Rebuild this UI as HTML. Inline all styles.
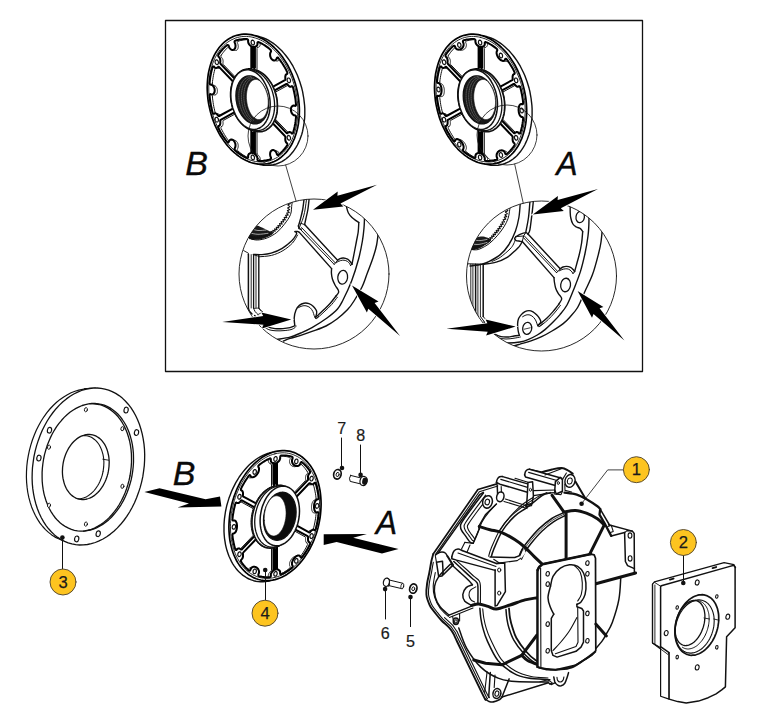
<!DOCTYPE html>
<html><head><meta charset="utf-8"><title>Flywheel housing</title>
<style>html,body{margin:0;padding:0;background:#fff}svg{display:block}text{font-family:"Liberation Sans",sans-serif}</style>
</head><body>
<svg width="764" height="728" viewBox="0 0 764 728" stroke-linejoin="round" stroke-linecap="round">
<rect width="764" height="728" fill="#fff"/>
<defs><clipPath id="c1"><path d="M239 274a75 75 0 1 0 150 0a75 75 0 1 0 -150 0Z"/></clipPath><clipPath id="c2"><path d="M466.5 276a75 75 0 1 0 150 0a75 75 0 1 0 -150 0Z"/></clipPath></defs>
<rect x="165.5" y="20.5" width="477" height="351" fill="none" stroke="#111" stroke-width="1.3"/>
<path d="M258.7 36.4 L258.7 36.4 L256.3 35.9 L254.9 35.7" fill="none" stroke="#111" stroke-width="1.4" />
<path d="M257.1 163.9 L258.7 164.3 L261.1 164.9 L263.5 165.2 L265.9 165.4 L268.3 165.4 L270.6 165.2 L273 164.8 L275.2 164.3 L277.5 163.5 L279.6 162.6 L281.8 161.6 L283.8 160.3 L285.8 159 L287.7 157.4 L289.6 155.7 L291.3 153.8 L293 151.8 L294.5 149.7 L296 147.4 L297.4 145 L298.6 142.4 L299.8 139.8 L300.8 137 L301.8 134.2 L302.6 131.2 L303.2 128.2 L303.8 125 L304.2 121.9 L304.6 118.6 L304.8 115.3 L304.8 112 L304.8 108.6 L304.6 105.3 L304.2 101.9 L303.8 98.5 L303.2 95.1 L302.6 91.7 L301.8 88.3 L300.8 85 L299.8 81.7 L298.6 78.5 L297.4 75.3 L296 72.2 L294.5 69.2 L293 66.2 L291.3 63.4 L289.6 60.6 L287.7 58 L285.8 55.5 L283.8 53.1 L281.8 50.8 L279.6 48.7 L277.5 46.7 L275.2 44.8 L273 43.1 L270.6 41.6 L268.3 40.2 L265.9 39 L263.5 38 L261.1 37.1 L258.7 36.4" fill="none" stroke="#111" stroke-width="1.4" />
<path d="M253.3 35.2 L255.7 35.9 L258.1 36.8 L260.5 37.9 L262.9 39.1 L265.2 40.4 L267.5 42 L269.8 43.7 L272 45.5 L274.2 47.5 L276.3 49.6 L278.4 51.9 L280.4 54.3 L282.3 56.8 L284.1 59.5 L285.9 62.2 L287.6 65 L289.1 68 L290.6 71 L292 74.1 L293.2 77.3 L294.4 80.5 L295.4 83.8 L296.3 87.1 L297.1 90.5 L297.8 93.9 L298.4 97.3 L298.8 100.7 L299.1 104.1 L299.3 107.5 L299.4 110.8 L299.3 114.2 L299.1 117.4 L298.8 120.7 L298.4 123.9 L297.8 127 L297.1 130 L296.3 133 L295.4 135.8 L294.4 138.6 L293.2 141.2 L292 143.8 L290.6 146.2 L289.1 148.5 L287.6 150.6 L285.9 152.6 L284.1 154.5 L282.3 156.2 L280.4 157.8 L278.4 159.2 L276.3 160.4 L274.2 161.5 L272 162.4 L269.8 163.1 L267.5 163.6 L265.2 164 L262.9 164.2 L260.5 164.2 L258.1 164 L255.7 163.7 L253.3 163.2 L250.9 162.5 L248.5 161.6 L246.1 160.5 L243.7 159.3 L241.4 158 L239.1 156.4 L236.8 154.7 L234.6 152.9 L232.4 150.9 L230.3 148.8 L228.2 146.5 L226.2 144.1 L224.3 141.6 L222.5 138.9 L220.7 136.2 L219 133.4 L217.5 130.4 L216 127.4 L214.6 124.3 L213.4 121.1 L212.2 117.9 L211.2 114.6 L210.3 111.3 L209.5 107.9 L208.8 104.5 L208.2 101.1 L207.8 97.7 L207.5 94.3 L207.3 90.9 L207.2 87.6 L207.3 84.2 L207.5 81 L207.8 77.7 L208.2 74.5 L208.8 71.4 L209.5 68.4 L210.3 65.4 L211.2 62.6 L212.2 59.8 L213.4 57.2 L214.6 54.6 L216 52.2 L217.5 49.9 L219 47.8 L220.7 45.8 L222.5 43.9 L224.3 42.2 L226.2 40.6 L228.2 39.2 L230.3 38 L232.4 36.9 L234.6 36 L236.8 35.3 L239.1 34.8 L241.4 34.4 L243.7 34.2 L246.1 34.2 L248.5 34.4 L250.9 34.7 L253.3 35.2Z" fill="#fff" stroke="#000" stroke-width="1.7" />
<path d="M253.3 37.4 L255.6 38.1 L258 38.9 L260.3 39.9 L262.6 41.1 L264.8 42.4 L267.1 43.9 L269.3 45.5 L271.4 47.3 L273.5 49.3 L275.6 51.3 L277.6 53.5 L279.5 55.8 L281.3 58.3 L283.1 60.8 L284.8 63.5 L286.4 66.2 L287.9 69 L289.3 72 L290.6 75 L291.9 78 L293 81.2 L294 84.3 L294.9 87.5 L295.7 90.8 L296.3 94.1 L296.9 97.3 L297.3 100.6 L297.6 103.9 L297.8 107.2 L297.8 110.4 L297.8 113.6 L297.6 116.8 L297.3 120 L296.9 123 L296.3 126 L295.7 129 L294.9 131.8 L294 134.6 L293 137.3 L291.9 139.8 L290.6 142.3 L289.3 144.6 L287.9 146.8 L286.4 148.9 L284.8 150.8 L283.1 152.6 L281.3 154.3 L279.5 155.8 L277.6 157.1 L275.6 158.3 L273.5 159.3 L271.4 160.2 L269.3 160.9 L267.1 161.4 L264.8 161.8 L262.6 162 L260.3 162 L258 161.8 L255.6 161.5 L253.3 161 L251 160.3 L248.6 159.5 L246.3 158.5 L244 157.3 L241.8 156 L239.5 154.5 L237.3 152.9 L235.2 151.1 L233.1 149.1 L231 147.1 L229 144.9 L227.1 142.6 L225.3 140.1 L223.5 137.6 L221.8 134.9 L220.2 132.2 L218.7 129.4 L217.3 126.4 L216 123.4 L214.7 120.4 L213.6 117.2 L212.6 114.1 L211.7 110.9 L210.9 107.6 L210.3 104.3 L209.7 101.1 L209.3 97.8 L209 94.5 L208.8 91.2 L208.8 88 L208.8 84.8 L209 81.6 L209.3 78.4 L209.7 75.4 L210.3 72.4 L210.9 69.4 L211.7 66.6 L212.6 63.8 L213.6 61.1 L214.7 58.6 L216 56.1 L217.3 53.8 L218.7 51.6 L220.2 49.5 L221.8 47.6 L223.5 45.8 L225.3 44.1 L227.1 42.6 L229 41.3 L231 40.1 L233.1 39.1 L235.2 38.2 L237.3 37.5 L239.5 37 L241.8 36.6 L244 36.4 L246.3 36.4 L248.6 36.6 L251 36.9 L253.3 37.4Z" fill="none" stroke="#111" stroke-width="0.9" />
<path d="M273.3 91.2 L273.1 91.3 L273 91.4 L272.9 91.7 L272.8 91.9 L272.8 92.2 L272.8 92.4 L272.9 92.7 L272.9 92.8 L273.3 94.2 L273.3 94.3 L273.7 95.8 L273.7 95.9 L274 97.4 L274.1 97.6 L274.3 99.1 L274.3 99.2 L274.5 100.7 L274.5 100.8 L274.7 102.3 L274.7 102.4 L274.8 103.9 L274.8 104 L274.8 105.5 L274.8 105.6 L274.8 107.1 L274.8 107.2 L274.7 108.6 L274.7 108.7 L274.5 110.2 L274.5 110.3 L274.3 111.7 L274.3 111.8 L274.1 113.2 L274 113.3 L273.7 114.6 L273.7 114.7 L273.3 116 L273.3 116.1 L272.9 117.4 L272.9 117.4 L272.8 117.7 L272.8 117.9 L272.8 118.2 L272.9 118.5 L273 118.7 L273.1 119 L273.3 119.2 L286.4 132.9 L286.6 133.1 L286.8 133.2 L287 133.2 L287.2 133.2 L287.3 133.2 L287.5 133 L287.5 133 L287.7 132.9 L287.7 132.8 L287.9 132.7 L287.9 132.7 L288.1 132.5 L288.2 132.5 L288.3 132.4 L288.4 132.4 L288.6 132.3 L288.6 132.3 L288.8 132.2 L288.9 132.2 L289 132.1 L289.1 132.1 L289.2 132.1 L289.3 132.1 L289.5 132.1 L289.6 132.1 L289.7 132.1 L289.8 132.1 L289.9 132.1 L290 132.1 L290.1 132.1 L290.2 132.2 L290.3 132.2 L290.5 132.3 L290.5 132.3 L290.7 132.4 L290.7 132.4 L290.9 132.5 L290.9 132.6 L291.1 132.7 L291.1 132.7 L291.2 132.9 L291.3 132.9 L291.4 133.1 L291.5 133.2 L291.5 133.2 L291.6 133.3 L291.7 133.5 L291.9 133.6 L292.1 133.6 L292.3 133.6 L292.4 133.6 L292.6 133.5 L292.7 133.4 L292.8 133.2 L292.9 133 L293.1 132.6 L293.1 132.6 L293.6 130.8 L293.6 130.8 L294.1 129 L294.1 128.9 L294.5 127.1 L294.6 127 L294.9 125.1 L294.9 125.1 L295.3 123.2 L295.3 123.2 L295.6 121.2 L295.6 121.2 L295.8 119.2 L295.8 119.2 L296 117.2 L296 117.1 L296 117.1 L296 116.8 L296 116.5 L295.9 116.3 L295.8 116 L295.6 115.8 L295.5 115.7 L295.3 115.5 L295.1 115.4 L294.9 115.4 L294.9 115.4 L294.8 115.4 L294.7 115.4 L294.6 115.4 L294.5 115.3 L294.4 115.3 L294.2 115.3 L294.1 115.2 L294 115.2 L293.9 115.2 L293.8 115.1 L293.7 115 L293.5 115 L293.5 114.9 L293.3 114.8 L293.2 114.8 L293.1 114.7 L293 114.6 L292.9 114.5 L292.8 114.4 L292.7 114.3 L292.6 114.2 L292.5 114.1 L292.4 114 L292.3 113.8 L292.2 113.7 L292.1 113.6 L292.1 113.5 L292 113.3 L291.9 113.2 L291.8 113.1 L291.7 113 L291.6 112.8 L291.6 112.7 L291.5 112.5 L291.5 112.4 L291.4 112.2 L291.3 112.1 L291.3 111.9 L291.2 111.8 L291.2 111.6 L291.1 111.5 L291.1 111.3 L291.1 111.1 L291 111 L291 110.8 L291 110.6 L291 110.5 L290.9 110.3 L290.9 110.2 L290.9 110 L290.9 109.9 L290.9 109.7 L290.9 109.5 L290.9 109.4 L290.9 109.2 L290.9 109 L290.9 108.9 L291 108.7 L291 108.6 L291 108.4 L291 108.3 L291.1 108.2 L291.1 108 L291.1 107.9 L291.2 107.8 L291.2 107.6 L291.3 107.5 L291.3 107.4 L291.4 107.3 L291.5 107.1 L291.5 107 L291.6 106.9 L291.6 106.8 L291.7 106.7 L291.8 106.6 L291.9 106.5 L292 106.4 L292.1 106.3 L292.1 106.2 L292.2 106.1 L292.3 106.1 L292.4 106 L292.5 105.9 L292.6 105.9 L292.7 105.8 L292.8 105.8 L292.9 105.7 L293 105.7 L293.1 105.7 L293.2 105.6 L293.3 105.6 L293.5 105.6 L293.5 105.6 L293.7 105.6 L293.8 105.6 L293.9 105.6 L294 105.6 L294.1 105.6 L294.2 105.6 L294.4 105.6 L294.5 105.7 L294.6 105.7 L294.7 105.7 L294.8 105.8 L294.9 105.8 L294.9 105.8 L295.1 105.9 L295.3 105.9 L295.5 105.9 L295.6 105.8 L295.8 105.6 L295.9 105.4 L296 105.2 L296 105 L296 104.7 L296 104.6 L296 104.6 L295.8 102.5 L295.8 102.5 L295.6 100.4 L295.6 100.4 L295.3 98.3 L295.3 98.2 L294.9 96.1 L294.9 96.1 L294.6 94 L294.5 94 L294.1 91.9 L294.1 91.9 L293.6 89.8 L293.6 89.8 L293.1 87.7 L293.1 87.7 L292.9 87.2 L292.8 87 L292.7 86.7 L292.6 86.6 L292.4 86.4 L292.3 86.3 L292.1 86.2 L291.9 86.2 L291.7 86.2 L291.6 86.3 L291.5 86.3 L291.5 86.3 L291.4 86.4 L291.3 86.5 L291.2 86.5 L291.1 86.6 L291.1 86.6 L290.9 86.7 L290.9 86.7 L290.7 86.7 L290.7 86.7 L290.5 86.7 L290.5 86.7 L290.3 86.7 L290.2 86.7 L290.1 86.7 L290 86.7 L289.9 86.6 L289.8 86.6 L289.7 86.5 L289.6 86.5 L289.5 86.4 L289.3 86.3 L289.2 86.3 L289.1 86.2 L289 86.1 L288.9 86 L288.8 85.9 L288.6 85.8 L288.6 85.7 L288.4 85.6 L288.3 85.5 L288.2 85.3 L288.1 85.3 L287.9 85.1 L287.9 85 L287.7 84.8 L287.7 84.7 L287.5 84.4 L287.5 84.4 L287.3 84.2 L287.2 84.1 L287 84 L286.8 83.9 L286.6 83.9 L286.4 84 L273.3 91.2Z" fill="none" stroke="#000" stroke-width="2" />
<path d="M276 91.8 L275.9 91.9 L275.7 92 L275.6 92.3 L275.6 92.5 L275.6 92.8 L275.6 93 L275.6 93.3 L275.7 93.4 L276.1 94.8 L276.1 94.9 L276.5 96.4 L276.5 96.5 L276.8 98 L276.8 98.2 L277.1 99.7 L277.1 99.8 L277.3 101.3 L277.3 101.4 L277.4 102.9 L277.4 103 L277.5 104.5 L277.5 104.6 L277.5 106.1 L277.5 106.2 L277.5 107.7 L277.5 107.8 L277.4 109.2 L277.4 109.3 L277.3 110.8 L277.3 110.9 L277.1 112.3 L277.1 112.4 L276.8 113.8 L276.8 113.9 L276.5 115.2 L276.5 115.3 L276.1 116.6 L276.1 116.7 L275.7 118 L275.6 118 L275.6 118.3 L275.6 118.5 L275.6 118.8 L275.6 119.1 L275.7 119.3 L275.9 119.6 L276 119.8 L288 132.3" fill="none" stroke="#111" stroke-width="1" />
<path d="M291.5 132.8 L291.5 132.8 L291.6 132.8 L291.8 132.7 L291.9 132.7 L292 132.7 L292.1 132.7 L292.2 132.7 L292.3 132.7 L292.4 132.7 L292.6 132.7 L292.7 132.7 L292.8 132.7 L292.8 132.7" fill="none" stroke="#111" stroke-width="1" />
<path d="M292.7 87.2 L292.7 87.2 L292.6 87.2 L292.4 87.1 L292.3 87.1 L292.2 87 L292.1 86.9 L292 86.9 L291.9 86.8 L291.8 86.7 L291.6 86.6 L291.6 86.6" fill="none" stroke="#111" stroke-width="1" />
<path d="M287.9 85.3 L276 91.8" fill="none" stroke="#111" stroke-width="1" />
<path d="M254.3 152.8 L254.3 153 L254.3 153.3 L254.4 153.6 L254.6 153.8 L254.7 154 L254.9 154.1 L254.9 154.2 L255.1 154.3 L255.2 154.4 L255.4 154.5 L255.4 154.6 L255.6 154.7 L255.7 154.8 L255.9 155 L255.9 155 L256.1 155.2 L256.1 155.3 L256.3 155.5 L256.4 155.6 L256.5 155.7 L256.5 155.8 L256.7 156 L256.7 156.1 L256.8 156.3 L256.9 156.4 L257 156.5 L257 156.7 L257.1 156.8 L257.2 157 L257.2 157.1 L257.3 157.3 L257.3 157.4 L257.3 157.6 L257.4 157.7 L257.4 157.8 L257.4 157.9 L257.5 158.1 L257.5 158.2 L257.5 158.4 L257.5 158.5 L257.5 158.7 L257.5 158.8 L257.5 159 L257.4 159.1 L257.4 159.1 L257.4 159.3 L257.4 159.5 L257.5 159.8 L257.6 160 L257.7 160.3 L257.8 160.4 L258 160.6 L258.1 160.7 L258.3 160.8 L258.5 160.9 L258.8 160.9 L258.9 160.9 L260.3 160.9 L260.4 160.9 L261.8 160.9 L261.8 160.9 L263.3 160.8 L263.3 160.8 L264.8 160.6 L264.8 160.6 L266.2 160.4 L266.2 160.4 L267.6 160.1 L267.7 160.1 L269.1 159.7 L269.1 159.7 L270.4 159.2 L270.5 159.2 L270.5 159.2 L270.7 159.1 L270.8 159 L270.9 158.8 L271 158.6 L271.1 158.3 L271.1 158.1 L271 157.8 L271 157.5 L270.8 157.3 L270.8 157.3 L270.8 157.2 L270.7 157 L270.7 156.9 L270.6 156.7 L270.5 156.6 L270.5 156.4 L270.4 156.3 L270.4 156.1 L270.3 156 L270.3 155.8 L270.3 155.6 L270.2 155.4 L270.2 155.3 L270.2 155.1 L270.2 155 L270.1 154.8 L270.1 154.7 L270.1 154.5 L270.1 154.4 L270.1 154.2 L270.1 154 L270.1 153.8 L270.1 153.7 L270.1 153.5 L270.1 153.4 L270.2 153.2 L270.2 153.1 L270.2 152.9 L270.2 152.8 L270.3 152.6 L270.3 152.5 L270.3 152.4 L270.4 152.3 L270.4 152.1 L270.5 152 L270.5 151.8 L270.6 151.7 L270.7 151.6 L270.7 151.5 L270.8 151.4 L270.8 151.3 L270.9 151.2 L271 151.1 L271.1 151 L271.2 150.9 L271.3 150.8 L271.3 150.7 L271.4 150.6 L271.5 150.6 L271.6 150.5 L271.7 150.4 L271.8 150.4 L271.9 150.3 L272 150.3 L272.1 150.2 L272.2 150.2 L272.3 150.2 L272.4 150.1 L272.5 150.1 L272.7 150.1 L272.7 150.1 L272.9 150.1 L273 150.1 L273.1 150.1 L273.2 150.1 L273.3 150.1 L273.4 150.1 L273.6 150.1 L273.6 150.1 L273.8 150.2 L273.9 150.2 L274 150.3 L274.1 150.3 L274.2 150.4 L274.3 150.4 L274.5 150.5 L274.6 150.6 L274.7 150.6 L274.8 150.7 L274.9 150.8 L275 150.9 L275.1 151 L275.2 151.1 L275.3 151.2 L275.4 151.3 L275.5 151.4 L275.6 151.5 L275.7 151.6 L275.8 151.7 L275.9 151.9 L276 152 L276.1 152.1 L276.1 152.2 L276.2 152.4 L276.3 152.5 L276.4 152.7 L276.4 152.8 L276.5 153 L276.5 153.1 L276.6 153.3 L276.7 153.4 L276.7 153.6 L276.8 153.7 L276.8 153.9 L276.9 154 L276.9 154 L276.9 154.3 L277.1 154.5 L277.2 154.7 L277.4 154.9 L277.6 155 L277.7 155.1 L277.9 155.1 L278.1 155.1 L278.3 155 L278.3 154.9 L278.3 154.9 L279.5 154 L279.6 154 L280.7 153 L280.7 153 L281.8 151.9 L281.9 151.9 L283 150.7 L283 150.7 L284 149.5 L284.1 149.5 L285.1 148.3 L285.1 148.2 L286.1 146.9 L286.1 146.9 L287 145.6 L287 145.5 L287.2 145.2 L287.3 145 L287.4 144.8 L287.4 144.6 L287.4 144.3 L287.4 144.1 L287.3 143.8 L287.2 143.6 L287.1 143.4 L287 143.2 L286.8 143.1 L286.8 143.1 L286.7 143 L286.6 142.9 L286.6 142.9 L286.4 142.7 L286.4 142.7 L286.3 142.5 L286.2 142.5 L286.1 142.3 L286.1 142.2 L286 142.1 L285.9 142 L285.8 141.8 L285.8 141.7 L285.7 141.6 L285.7 141.4 L285.6 141.3 L285.6 141.1 L285.5 141 L285.5 140.8 L285.5 140.7 L285.4 140.5 L285.4 140.3 L285.4 140.1 L285.3 140 L285.3 139.8 L285.3 139.6 L285.3 139.4 L285.3 139.3 L285.3 139 L285.3 138.9 L285.3 138.7 L285.3 138.6 L285.3 138.3 L285.3 138.2 L285.3 137.9 L285.4 137.8 L285.4 137.5 L285.4 137.5 L285.4 137.3 L285.4 137 L285.3 136.7 L285.2 136.5 L285.1 136.2 L284.9 136 L271.8 122.3 L271.6 122.1 L271.5 122 L271.3 122 L271.1 122 L270.9 122 L270.7 122.2 L270.6 122.3 L270.6 122.4 L269.9 123.4 L269.9 123.5 L269.2 124.4 L269.1 124.5 L268.4 125.4 L268.3 125.4 L267.5 126.2 L267.5 126.3 L266.7 127.1 L266.6 127.1 L265.8 127.8 L265.7 127.8 L264.8 128.5 L264.7 128.5 L263.8 129 L263.8 129.1 L262.8 129.6 L262.8 129.6 L261.8 130 L261.7 130 L260.7 130.3 L260.6 130.3 L259.6 130.6 L259.6 130.6 L258.5 130.8 L258.5 130.8 L257.4 130.8 L257.3 130.9 L256.3 130.9 L256.2 130.9 L255.1 130.8 L255.1 130.8 L254.9 130.8 L254.7 130.8 L254.6 131 L254.4 131.1 L254.3 131.3 L254.3 131.6 L254.3 131.8 L254.3 152.8Z" fill="none" stroke="#000" stroke-width="2" />
<path d="M257 153.4 L257 153.6 L257.1 153.9 L257.2 154.2 L257.3 154.4 L257.5 154.6 L257.6 154.7 L257.7 154.8 L257.9 154.9 L257.9 155 L258.1 155.1 L258.2 155.2 L258.4 155.3 L258.4 155.4 L258.6 155.6 L258.7 155.6 L258.8 155.8 L258.9 155.9 L259 156.1 L259.1 156.2 L259.2 156.3 L259.3 156.4 L259.4 156.6 L259.5 156.7 L259.6 156.9 L259.6 157 L259.7 157.1 L259.8 157.3 L259.8 157.4 L259.9 157.6 L260 157.7 L260 157.9 L260 158 L260.1 158.2 L260.1 158.3 L260.2 158.4 L260.2 158.5 L260.2 158.7 L260.2 158.8 L260.2 159 L260.2 159.1 L260.2 159.3 L260.2 159.4 L260.2 159.6 L260.2 159.7 L260.2 159.7 L260.2 159.9 L260.2 160.1 L260.2 160.4 L260.3 160.6 L260.3 160.7" fill="none" stroke="#111" stroke-width="1" />
<path d="M275.1 150.7 L275.2 150.7 L275.3 150.7 L275.4 150.7 L275.5 150.7 L275.6 150.7 L275.7 150.7 L275.8 150.7 L275.9 150.7 L276.1 150.7 L276.2 150.7 L276.3 150.7 L276.4 150.7 L276.5 150.8 L276.6 150.8 L276.8 150.9 L276.9 150.9 L277 151 L277.1 151 L277.2 151.1 L277.3 151.2 L277.4 151.2 L277.5 151.3 L277.7 151.4 L277.7 151.5 L277.9 151.6 L277.9 151.7 L278.1 151.8 L278.1 151.9 L278.3 152 L278.3 152.1 L278.5 152.2 L278.5 152.3 L278.6 152.5 L278.7 152.6 L278.8 152.7 L278.9 152.8 L279 153 L279 153.1 L279.1 153.3 L279.2 153.4 L279.2 153.6 L279.3 153.7 L279.3 153.8" fill="none" stroke="#111" stroke-width="1" />
<path d="M272.9 123.7 L272.7 124 L272.6 124.1 L271.9 125 L271.9 125.1 L271.1 126 L271.1 126 L270.3 126.8 L270.2 126.9 L269.4 127.7 L269.4 127.7 L268.5 128.4 L268.4 128.4 L267.6 129.1 L267.5 129.1 L266.6 129.6 L266.5 129.7 L265.6 130.2 L265.5 130.2 L264.5 130.6 L264.5 130.6 L263.5 130.9 L263.4 130.9 L262.4 131.2 L262.3 131.2 L261.3 131.4 L261.2 131.4 L260.2 131.4 L260.1 131.5 L259 131.5 L259 131.5 L257.9 131.4 L257.8 131.4 L257.6 131.4 L257.5 131.4 L257.3 131.6 L257.2 131.7 L257.1 131.9 L257 132.2 L257 132.4 L257 153.4" fill="none" stroke="#111" stroke-width="1" />
<path d="M254.9 46.9 L254.7 47 L254.6 47.1 L254.4 47.3 L254.3 47.5 L254.3 47.7 L254.3 48 L254.3 68.9 L254.3 69.2 L254.3 69.4 L254.4 69.7 L254.6 69.9 L254.7 70.1 L254.9 70.3 L255.1 70.4 L255.1 70.4 L256.2 70.9 L256.3 70.9 L257.3 71.4 L257.4 71.5 L258.5 72.1 L258.5 72.1 L259.6 72.8 L259.6 72.9 L260.6 73.6 L260.7 73.7 L261.7 74.5 L261.8 74.5 L262.8 75.4 L262.8 75.5 L263.8 76.4 L263.8 76.5 L264.7 77.5 L264.8 77.6 L265.7 78.7 L265.8 78.7 L266.6 79.9 L266.7 79.9 L267.5 81.1 L267.5 81.2 L268.3 82.4 L268.4 82.5 L269.1 83.8 L269.2 83.8 L269.9 85.2 L269.9 85.2 L270.6 86.6 L270.6 86.7 L270.7 86.9 L270.9 87.1 L271.1 87.2 L271.3 87.3 L271.5 87.4 L271.6 87.4 L271.8 87.3 L284.9 80.2 L285.1 80.1 L285.2 79.9 L285.3 79.7 L285.4 79.4 L285.4 79.2 L285.4 78.9 L285.4 78.9 L285.4 78.6 L285.3 78.5 L285.3 78.2 L285.3 78.1 L285.3 77.8 L285.3 77.7 L285.3 77.4 L285.3 77.3 L285.3 77.1 L285.3 77 L285.3 76.7 L285.3 76.6 L285.3 76.4 L285.4 76.3 L285.4 76.1 L285.4 76 L285.5 75.8 L285.5 75.7 L285.5 75.5 L285.6 75.4 L285.6 75.3 L285.7 75.2 L285.7 75 L285.8 74.9 L285.8 74.8 L285.9 74.7 L286 74.6 L286.1 74.5 L286.1 74.5 L286.2 74.4 L286.3 74.3 L286.4 74.3 L286.4 74.2 L286.6 74.2 L286.6 74.1 L286.7 74.1 L286.8 74.1 L286.8 74.1 L287 74 L287.1 73.9 L287.2 73.8 L287.3 73.6 L287.4 73.4 L287.4 73.1 L287.4 72.9 L287.4 72.7 L287.3 72.4 L287.2 72.2 L287 71.7 L287 71.7 L286.1 69.9 L286.1 69.8 L285.1 68 L285.1 68 L284.1 66.3 L284 66.2 L283 64.5 L283 64.5 L281.9 62.8 L281.8 62.8 L280.7 61.1 L280.7 61.1 L279.6 59.5 L279.5 59.5 L278.3 58 L278.3 57.9 L278.3 57.9 L278.1 57.7 L277.9 57.6 L277.7 57.5 L277.6 57.5 L277.4 57.5 L277.2 57.6 L277.1 57.7 L276.9 57.9 L276.9 58.1 L276.9 58.1 L276.8 58.2 L276.8 58.4 L276.7 58.5 L276.7 58.6 L276.6 58.7 L276.5 58.9 L276.5 59 L276.4 59.1 L276.4 59.2 L276.3 59.3 L276.2 59.4 L276.1 59.5 L276.1 59.6 L276 59.7 L275.9 59.8 L275.8 59.9 L275.7 59.9 L275.6 60 L275.5 60.1 L275.4 60.1 L275.3 60.2 L275.2 60.2 L275.1 60.3 L275 60.3 L274.9 60.3 L274.8 60.4 L274.7 60.4 L274.6 60.4 L274.5 60.4 L274.3 60.4 L274.2 60.4 L274.1 60.4 L274 60.4 L273.9 60.4 L273.8 60.4 L273.6 60.4 L273.6 60.3 L273.4 60.3 L273.3 60.3 L273.2 60.2 L273.1 60.2 L273 60.1 L272.9 60.1 L272.7 60 L272.7 59.9 L272.5 59.8 L272.4 59.8 L272.3 59.7 L272.2 59.6 L272.1 59.5 L272 59.4 L271.9 59.3 L271.8 59.2 L271.7 59.1 L271.6 59 L271.5 58.9 L271.4 58.8 L271.3 58.6 L271.3 58.5 L271.2 58.4 L271.1 58.3 L271 58.1 L270.9 58 L270.8 57.8 L270.8 57.7 L270.7 57.5 L270.7 57.4 L270.6 57.2 L270.5 57.1 L270.5 56.9 L270.4 56.8 L270.4 56.6 L270.3 56.5 L270.3 56.3 L270.3 56.2 L270.2 56 L270.2 55.8 L270.2 55.7 L270.2 55.5 L270.1 55.3 L270.1 55.2 L270.1 55 L270.1 54.9 L270.1 54.7 L270.1 54.6 L270.1 54.4 L270.1 54.2 L270.1 54.1 L270.1 53.9 L270.2 53.8 L270.2 53.6 L270.2 53.5 L270.2 53.3 L270.3 53.2 L270.3 53.1 L270.3 52.9 L270.4 52.8 L270.4 52.6 L270.5 52.5 L270.5 52.4 L270.6 52.3 L270.7 52.1 L270.7 52 L270.8 51.9 L270.8 51.8 L270.8 51.8 L271 51.6 L271 51.4 L271.1 51.1 L271.1 50.9 L271 50.6 L270.9 50.4 L270.8 50.1 L270.7 49.9 L270.5 49.7 L270.5 49.7 L270.4 49.7 L269.1 48.5 L269.1 48.5 L267.7 47.4 L267.6 47.4 L266.2 46.4 L266.2 46.4 L264.8 45.4 L264.8 45.4 L263.3 44.5 L263.3 44.5 L261.8 43.6 L261.8 43.6 L260.4 42.9 L260.3 42.9 L258.9 42.2 L258.8 42.2 L258.5 42 L258.3 42 L258.1 41.9 L258 42 L257.8 42.1 L257.7 42.2 L257.6 42.4 L257.5 42.6 L257.4 42.8 L257.4 43 L257.4 43.2 L257.4 43.2 L257.5 43.4 L257.5 43.6 L257.5 43.7 L257.5 43.8 L257.5 43.9 L257.5 44.1 L257.5 44.2 L257.4 44.4 L257.4 44.5 L257.4 44.6 L257.3 44.7 L257.3 44.9 L257.3 45 L257.2 45.1 L257.2 45.2 L257.1 45.4 L257 45.5 L257 45.6 L256.9 45.7 L256.8 45.8 L256.7 45.9 L256.7 46 L256.5 46.1 L256.5 46.1 L256.4 46.2 L256.3 46.3 L256.1 46.4 L256.1 46.4 L255.9 46.5 L255.9 46.6 L255.7 46.7 L255.6 46.7 L255.4 46.8 L255.4 46.8 L255.2 46.8 L255.1 46.9 L254.9 46.9 L254.9 46.9Z" fill="none" stroke="#000" stroke-width="2" />
<path d="M257.6 47.5 L257.5 47.6 L257.3 47.7 L257.2 47.9 L257.1 48.1 L257 48.3 L257 48.6 L257 69.5 L257 69.8 L257.1 70 L257.2 70.3 L257.3 70.5 L257.5 70.7 L257.6 70.9 L257.8 71 L257.9 71 L259 71.5 L259 71.5 L260.1 72 L260.2 72.1 L261.2 72.7 L261.3 72.7 L262.3 73.4 L262.4 73.5 L263.4 74.2 L263.5 74.3 L264.5 75.1 L264.5 75.1 L265.5 76 L265.6 76.1 L266.5 77 L266.6 77.1 L267.5 78.1 L267.6 78.2 L268.4 79.3 L268.5 79.3 L269.4 80.5 L269.4 80.5 L270.2 81.7 L270.3 81.8 L271.1 83 L271.1 83.1 L271.9 84.4 L271.9 84.4 L272.6 85.8 L272.7 85.8 L272.9 86.4" fill="none" stroke="#111" stroke-width="1" />
<path d="M279.3 59.5 L279.2 59.6 L279.2 59.7 L279.1 59.8 L279 59.9 L279 60 L278.9 60.1 L278.8 60.2 L278.7 60.3 L278.6 60.4 L278.5 60.5 L278.5 60.5 L278.3 60.6 L278.3 60.7 L278.1 60.7 L278.1 60.8 L277.9 60.8 L277.9 60.9 L277.7 60.9 L277.7 60.9 L277.5 61 L277.4 61 L277.3 61 L277.2 61 L277.1 61 L277 61 L276.9 61 L276.8 61 L276.6 61 L276.5 61 L276.4 61 L276.3 60.9 L276.2 60.9 L276.1 60.9 L275.9 60.8 L275.8 60.8 L275.7 60.7 L275.6 60.7 L275.5 60.6 L275.4 60.5 L275.3 60.5" fill="none" stroke="#111" stroke-width="1" />
<path d="M260.3 43.1 L260.2 43.2 L260.2 43.4 L260.2 43.6 L260.2 43.8 L260.2 43.8 L260.2 44 L260.2 44.2 L260.2 44.3 L260.2 44.4 L260.2 44.5 L260.2 44.7 L260.2 44.8 L260.2 45 L260.2 45.1 L260.1 45.2 L260.1 45.3 L260 45.5 L260 45.6 L260 45.7 L259.9 45.8 L259.8 46 L259.8 46.1 L259.7 46.2 L259.6 46.3 L259.6 46.4 L259.5 46.5 L259.4 46.6 L259.3 46.7 L259.2 46.7 L259.1 46.8 L259 46.9 L258.9 47 L258.8 47 L258.7 47.1 L258.6 47.2 L258.4 47.3 L258.4 47.3 L258.2 47.4 L258.1 47.4 L257.9 47.4 L257.9 47.5 L257.7 47.5 L257.6 47.5" fill="none" stroke="#111" stroke-width="1" />
<path d="M218.8 125.9 L218.6 126 L218.5 126.1 L218.4 126.2 L218.3 126.4 L218.2 126.6 L218.2 126.9 L218.2 127.1 L218.2 127.3 L218.3 127.6 L218.4 127.8 L218.6 128.3 L218.6 128.3 L219.5 130.1 L219.5 130.2 L220.5 132 L220.5 132 L221.5 133.7 L221.6 133.8 L222.6 135.5 L222.6 135.5 L223.7 137.2 L223.8 137.2 L224.9 138.9 L224.9 138.9 L226 140.5 L226.1 140.5 L227.3 142 L227.3 142.1 L227.3 142.1 L227.5 142.3 L227.7 142.4 L227.9 142.5 L228 142.5 L228.2 142.5 L228.4 142.4 L228.5 142.3 L228.7 142.1 L228.7 141.9 L228.7 141.9 L228.8 141.8 L228.8 141.6 L228.9 141.5 L228.9 141.4 L229 141.3 L229.1 141.1 L229.1 141 L229.2 140.9 L229.2 140.8 L229.3 140.7 L229.4 140.6 L229.5 140.5 L229.5 140.4 L229.6 140.3 L229.7 140.2 L229.8 140.1 L229.9 140.1 L230 140 L230.1 139.9 L230.2 139.9 L230.3 139.8 L230.4 139.8 L230.5 139.7 L230.6 139.7 L230.7 139.7 L230.8 139.6 L230.9 139.6 L231 139.6 L231.1 139.6 L231.3 139.6 L231.4 139.6 L231.5 139.6 L231.6 139.6 L231.7 139.6 L231.8 139.6 L232 139.6 L232 139.7 L232.2 139.7 L232.3 139.7 L232.4 139.8 L232.5 139.8 L232.6 139.9 L232.7 139.9 L232.9 140 L232.9 140.1 L233.1 140.2 L233.2 140.2 L233.3 140.3 L233.4 140.4 L233.5 140.5 L233.6 140.6 L233.7 140.7 L233.8 140.8 L233.9 140.9 L234 141 L234.1 141.1 L234.2 141.2 L234.3 141.4 L234.3 141.5 L234.4 141.6 L234.5 141.7 L234.6 141.9 L234.7 142 L234.8 142.2 L234.8 142.3 L234.9 142.5 L234.9 142.6 L235 142.8 L235.1 142.9 L235.1 143.1 L235.2 143.2 L235.2 143.4 L235.3 143.5 L235.3 143.7 L235.3 143.8 L235.4 144 L235.4 144.2 L235.4 144.3 L235.4 144.5 L235.5 144.7 L235.5 144.8 L235.5 145 L235.5 145.1 L235.5 145.3 L235.5 145.4 L235.5 145.6 L235.5 145.8 L235.5 145.9 L235.5 146.1 L235.4 146.2 L235.4 146.4 L235.4 146.5 L235.4 146.7 L235.3 146.8 L235.3 146.9 L235.3 147.1 L235.2 147.2 L235.2 147.4 L235.1 147.5 L235.1 147.6 L235 147.7 L234.9 147.9 L234.9 148 L234.8 148.1 L234.8 148.2 L234.8 148.2 L234.6 148.4 L234.6 148.6 L234.5 148.9 L234.5 149.1 L234.6 149.4 L234.7 149.6 L234.8 149.9 L234.9 150.1 L235.1 150.3 L235.1 150.3 L235.2 150.3 L236.5 151.5 L236.5 151.5 L237.9 152.6 L238 152.6 L239.4 153.6 L239.4 153.6 L240.8 154.6 L240.8 154.6 L242.3 155.5 L242.3 155.5 L243.8 156.4 L243.8 156.4 L245.2 157.1 L245.3 157.1 L246.7 157.8 L246.8 157.8 L247.1 158 L247.3 158 L247.5 158.1 L247.6 158 L247.8 157.9 L247.9 157.8 L248 157.6 L248.1 157.4 L248.2 157.2 L248.2 157 L248.2 156.8 L248.2 156.8 L248.1 156.6 L248.1 156.4 L248.1 156.3 L248.1 156.2 L248.1 156.1 L248.1 155.9 L248.1 155.8 L248.2 155.6 L248.2 155.5 L248.2 155.4 L248.3 155.3 L248.3 155.1 L248.3 155 L248.4 154.9 L248.4 154.8 L248.5 154.6 L248.6 154.5 L248.6 154.4 L248.7 154.3 L248.8 154.2 L248.9 154.1 L248.9 154 L249.1 153.9 L249.1 153.9 L249.2 153.8 L249.3 153.7 L249.5 153.6 L249.5 153.6 L249.7 153.5 L249.7 153.4 L249.9 153.3 L250 153.3 L250.2 153.2 L250.2 153.2 L250.4 153.2 L250.5 153.1 L250.7 153.1 L250.7 153.1 L250.9 153 L251 152.9 L251.2 152.7 L251.3 152.5 L251.3 152.3 L251.3 152 L251.3 131.1 L251.3 130.8 L251.3 130.6 L251.2 130.3 L251 130.1 L250.9 129.9 L250.7 129.7 L250.5 129.6 L250.5 129.6 L249.4 129.1 L249.3 129.1 L248.3 128.6 L248.2 128.5 L247.1 127.9 L247.1 127.9 L246 127.2 L246 127.1 L245 126.4 L244.9 126.3 L243.9 125.5 L243.8 125.5 L242.8 124.6 L242.8 124.5 L241.8 123.6 L241.8 123.5 L240.9 122.5 L240.8 122.4 L239.9 121.3 L239.8 121.3 L239 120.1 L238.9 120.1 L238.1 118.9 L238.1 118.8 L237.3 117.6 L237.2 117.5 L236.5 116.2 L236.4 116.2 L235.7 114.8 L235.7 114.8 L235 113.4 L235 113.3 L234.9 113.1 L234.7 112.9 L234.5 112.8 L234.3 112.7 L234.1 112.6 L234 112.6 L233.8 112.7 L220.7 119.8 L220.5 119.9 L220.4 120.1 L220.3 120.3 L220.2 120.6 L220.2 120.8 L220.2 121.1 L220.2 121.1 L220.2 121.4 L220.3 121.5 L220.3 121.8 L220.3 121.9 L220.3 122.2 L220.3 122.3 L220.3 122.6 L220.3 122.7 L220.3 122.9 L220.3 123 L220.3 123.3 L220.3 123.4 L220.3 123.6 L220.2 123.7 L220.2 123.9 L220.2 124 L220.1 124.2 L220.1 124.3 L220.1 124.5 L220 124.6 L220 124.7 L219.9 124.8 L219.9 125 L219.8 125.1 L219.8 125.2 L219.7 125.3 L219.6 125.4 L219.5 125.5 L219.5 125.5 L219.4 125.6 L219.3 125.7 L219.2 125.7 L219.2 125.8 L219 125.8 L219 125.9 L218.9 125.9 L218.8 125.9 L218.8 125.9Z" fill="none" stroke="#000" stroke-width="2" />
<path d="M221.5 126.5 L221.4 126.6 L221.2 126.7 L221.1 126.8 L221 127 L221 127.2 L220.9 127.5 L220.9 127.7 L221 127.9 L221 128.2 L221.1 128.4 L221.3 128.9 L221.3 128.9 L222.3 130.7 L222.3 130.8 L223.3 132.6 L223.3 132.6 L224.3 134.3 L224.3 134.4 L225.4 136.1 L225.4 136.1 L226.5 137.8 L226.5 137.8 L227.6 139.5 L227.6 139.5 L228.8 141.1 L228.8 141.1" fill="none" stroke="#111" stroke-width="1" />
<path d="M233.5 140.2 L233.6 140.2 L233.7 140.2 L233.8 140.2 L233.9 140.2 L234 140.2 L234.1 140.2 L234.2 140.2 L234.3 140.2 L234.5 140.2 L234.6 140.2 L234.7 140.2 L234.8 140.3 L234.9 140.3 L235 140.3 L235.2 140.4 L235.3 140.4 L235.4 140.5 L235.5 140.5 L235.6 140.6 L235.7 140.7 L235.8 140.8 L235.9 140.8 L236 140.9 L236.1 141 L236.3 141.1 L236.3 141.2 L236.5 141.3 L236.5 141.4 L236.7 141.5 L236.7 141.6 L236.8 141.7 L236.9 141.8 L237 142 L237.1 142.1 L237.2 142.2 L237.3 142.3 L237.4 142.5 L237.4 142.6 L237.5 142.8 L237.6 142.9 L237.6 143.1 L237.7 143.2 L237.8 143.4 L237.8 143.5 L237.9 143.7 L237.9 143.8 L238 144 L238 144.1 L238.1 144.3 L238.1 144.4 L238.1 144.6 L238.1 144.8 L238.2 144.9 L238.2 145.1 L238.2 145.3 L238.2 145.4 L238.2 145.6 L238.3 145.7 L238.3 145.9 L238.3 146 L238.3 146.2 L238.2 146.4 L238.2 146.5 L238.2 146.7 L238.2 146.8 L238.2 147 L238.1 147.1 L238.1 147.3 L238.1 147.4 L238.1 147.5 L238 147.7 L238 147.8 L237.9 148 L237.9 148.1 L237.8 148.2 L237.8 148.3 L237.7 148.5 L237.6 148.6 L237.6 148.7 L237.5 148.8 L237.5 148.8 L237.4 149 L237.3 149.2 L237.3 149.5 L237.3 149.7 L237.3 150 L237.4 150.2 L237.5 150.5 L237.7 150.7 L237.8 150.9 L237.9 150.9 L237.9 150.9 L239.3 152.1 L239.3 152.1 L240.7 153.2 L240.7 153.2 L242.1 154.2 L242.1 154.2 L243.6 155.2 L243.6 155.2 L245 156.1 L245.1 156.1 L246.5 157 L246.5 157 L247.8 157.6" fill="none" stroke="#111" stroke-width="1" />
<path d="M235.1 114 L223.4 120.4 L223.2 120.5 L223.1 120.7 L223 120.9 L223 121.2 L222.9 121.4 L223 121.7 L223 121.7 L223 122 L223 122.1 L223 122.4 L223 122.5 L223.1 122.8 L223.1 122.9 L223.1 123.2 L223.1 123.3 L223.1 123.5 L223.1 123.6 L223 123.9 L223 124 L223 124.2 L223 124.3 L223 124.5 L222.9 124.6 L222.9 124.8 L222.9 124.9 L222.8 125.1 L222.8 125.2 L222.7 125.3 L222.7 125.4 L222.6 125.6 L222.6 125.7 L222.5 125.8 L222.4 125.9 L222.4 126 L222.3 126.1 L222.2 126.1 L222.1 126.2 L222.1 126.3 L222 126.3 L221.9 126.4 L221.8 126.4 L221.7 126.5 L221.6 126.5 L221.5 126.5 L221.5 126.5" fill="none" stroke="#111" stroke-width="1" />
<path d="M218.4 54.8 L218.3 55 L218.2 55.2 L218.2 55.4 L218.2 55.7 L218.2 55.9 L218.3 56.2 L218.4 56.4 L218.5 56.6 L218.6 56.8 L218.8 56.9 L218.8 56.9 L218.9 57 L219 57.1 L219 57.1 L219.2 57.3 L219.2 57.3 L219.3 57.5 L219.4 57.5 L219.5 57.7 L219.5 57.8 L219.6 57.9 L219.7 58 L219.8 58.2 L219.8 58.3 L219.9 58.4 L219.9 58.6 L220 58.7 L220 58.9 L220.1 59 L220.1 59.2 L220.1 59.3 L220.2 59.5 L220.2 59.7 L220.2 59.9 L220.3 60 L220.3 60.2 L220.3 60.4 L220.3 60.6 L220.3 60.7 L220.3 61 L220.3 61.1 L220.3 61.3 L220.3 61.4 L220.3 61.7 L220.3 61.8 L220.3 62.1 L220.2 62.2 L220.2 62.5 L220.2 62.5 L220.2 62.7 L220.2 63 L220.3 63.3 L220.4 63.5 L220.5 63.8 L220.7 64 L233.8 77.7 L234 77.9 L234.1 78 L234.3 78 L234.5 78 L234.7 78 L234.9 77.8 L235 77.7 L235 77.6 L235.7 76.6 L235.7 76.5 L236.4 75.6 L236.5 75.5 L237.2 74.6 L237.3 74.6 L238.1 73.8 L238.1 73.7 L238.9 72.9 L239 72.9 L239.8 72.2 L239.9 72.2 L240.8 71.5 L240.9 71.5 L241.8 71 L241.8 70.9 L242.8 70.4 L242.8 70.4 L243.8 70 L243.9 70 L244.9 69.7 L245 69.7 L246 69.4 L246 69.4 L247.1 69.2 L247.1 69.2 L248.2 69.2 L248.3 69.1 L249.3 69.1 L249.4 69.1 L250.5 69.2 L250.5 69.2 L250.7 69.2 L250.9 69.2 L251 69 L251.2 68.9 L251.3 68.7 L251.3 68.4 L251.3 68.2 L251.3 47.2 L251.3 47 L251.3 46.7 L251.2 46.4 L251 46.2 L250.9 46 L250.7 45.9 L250.7 45.8 L250.5 45.7 L250.4 45.6 L250.2 45.5 L250.2 45.4 L250 45.3 L249.9 45.2 L249.7 45 L249.7 45 L249.5 44.8 L249.5 44.7 L249.3 44.5 L249.2 44.4 L249.1 44.3 L249.1 44.2 L248.9 44 L248.9 43.9 L248.8 43.7 L248.7 43.6 L248.6 43.5 L248.6 43.3 L248.5 43.2 L248.4 43 L248.4 42.9 L248.3 42.7 L248.3 42.6 L248.3 42.4 L248.2 42.3 L248.2 42.2 L248.2 42.1 L248.1 41.9 L248.1 41.8 L248.1 41.6 L248.1 41.5 L248.1 41.3 L248.1 41.2 L248.1 41 L248.2 40.9 L248.2 40.9 L248.2 40.7 L248.2 40.5 L248.1 40.2 L248 40 L247.9 39.7 L247.8 39.6 L247.6 39.4 L247.5 39.3 L247.3 39.2 L247.1 39.1 L246.8 39.1 L246.7 39.1 L245.3 39.1 L245.2 39.1 L243.8 39.1 L243.8 39.1 L242.3 39.2 L242.3 39.2 L240.8 39.4 L240.8 39.4 L239.4 39.6 L239.4 39.6 L238 39.9 L237.9 39.9 L236.5 40.3 L236.5 40.3 L235.2 40.8 L235.1 40.8 L235.1 40.8 L234.9 40.9 L234.8 41 L234.7 41.2 L234.6 41.4 L234.5 41.7 L234.5 41.9 L234.6 42.2 L234.6 42.5 L234.8 42.7 L234.8 42.7 L234.8 42.8 L234.9 43 L234.9 43.1 L235 43.3 L235.1 43.4 L235.1 43.6 L235.2 43.7 L235.2 43.9 L235.3 44 L235.3 44.2 L235.3 44.4 L235.4 44.6 L235.4 44.7 L235.4 44.9 L235.4 45 L235.5 45.2 L235.5 45.3 L235.5 45.5 L235.5 45.6 L235.5 45.8 L235.5 46 L235.5 46.2 L235.5 46.3 L235.5 46.5 L235.5 46.6 L235.4 46.8 L235.4 46.9 L235.4 47.1 L235.4 47.2 L235.3 47.4 L235.3 47.5 L235.3 47.6 L235.2 47.7 L235.2 47.9 L235.1 48 L235.1 48.2 L235 48.3 L234.9 48.4 L234.9 48.5 L234.8 48.6 L234.8 48.7 L234.7 48.8 L234.6 48.9 L234.5 49 L234.4 49.1 L234.3 49.2 L234.3 49.3 L234.2 49.4 L234.1 49.4 L234 49.5 L233.9 49.6 L233.8 49.6 L233.7 49.7 L233.6 49.7 L233.5 49.8 L233.4 49.8 L233.3 49.8 L233.2 49.9 L233.1 49.9 L232.9 49.9 L232.9 49.9 L232.7 49.9 L232.6 49.9 L232.5 49.9 L232.4 49.9 L232.3 49.9 L232.2 49.9 L232 49.9 L232 49.9 L231.8 49.8 L231.7 49.8 L231.6 49.7 L231.5 49.7 L231.4 49.6 L231.3 49.6 L231.1 49.5 L231 49.4 L230.9 49.4 L230.8 49.3 L230.7 49.2 L230.6 49.1 L230.5 49 L230.4 48.9 L230.3 48.8 L230.2 48.7 L230.1 48.6 L230 48.5 L229.9 48.4 L229.8 48.3 L229.7 48.1 L229.6 48 L229.5 47.9 L229.5 47.8 L229.4 47.6 L229.3 47.5 L229.2 47.3 L229.2 47.2 L229.1 47 L229.1 46.9 L229 46.7 L228.9 46.6 L228.9 46.4 L228.8 46.3 L228.8 46.1 L228.7 46 L228.7 46 L228.7 45.7 L228.5 45.5 L228.4 45.3 L228.2 45.1 L228 45 L227.9 44.9 L227.7 44.9 L227.5 44.9 L227.3 45 L227.3 45.1 L227.3 45.1 L226.1 46 L226 46 L224.9 47 L224.9 47 L223.8 48.1 L223.7 48.1 L222.6 49.3 L222.6 49.3 L221.6 50.5 L221.5 50.5 L220.5 51.7 L220.5 51.8 L219.5 53.1 L219.5 53.1 L218.6 54.4 L218.6 54.5 L218.4 54.8Z" fill="none" stroke="#000" stroke-width="2" />
<path d="M221.1 55.4 L221 55.6 L221 55.8 L220.9 56 L220.9 56.3 L221 56.5 L221 56.8 L221.1 57 L221.2 57.2 L221.4 57.4 L221.5 57.5 L221.5 57.5 L221.6 57.6 L221.7 57.7 L221.8 57.7 L221.9 57.9 L222 57.9 L222.1 58.1 L222.1 58.1 L222.2 58.3 L222.3 58.4 L222.4 58.5 L222.4 58.6 L222.5 58.8 L222.6 58.9 L222.6 59 L222.7 59.2 L222.7 59.3 L222.8 59.5 L222.8 59.6 L222.9 59.8 L222.9 59.9 L222.9 60.1 L223 60.3 L223 60.5 L223 60.6 L223 60.8 L223 61 L223.1 61.2 L223.1 61.3 L223.1 61.6 L223.1 61.7 L223.1 61.9 L223.1 62 L223 62.3 L223 62.4 L223 62.7 L223 62.8 L223 63.1 L223 63.1 L222.9 63.3 L223 63.6 L223 63.9 L223.1 64.1 L223.2 64.4 L223.4 64.6 L235.2 76.9" fill="none" stroke="#111" stroke-width="1" />
<path d="M247.6 39.7 L246.5 39.7 L246.5 39.7 L245.1 39.8 L245 39.8 L243.6 40 L243.6 40 L242.1 40.2 L242.1 40.2 L240.7 40.5 L240.7 40.5 L239.3 40.9 L239.3 40.9 L237.9 41.4 L237.9 41.4 L237.8 41.4 L237.7 41.5 L237.5 41.6 L237.4 41.8 L237.3 42 L237.3 42.3 L237.3 42.5 L237.3 42.8 L237.4 43.1 L237.5 43.3 L237.5 43.3 L237.6 43.4 L237.6 43.6 L237.7 43.7 L237.8 43.9 L237.8 44 L237.9 44.2 L237.9 44.3 L238 44.5 L238 44.6 L238.1 44.8 L238.1 45 L238.1 45.2 L238.1 45.3 L238.2 45.5 L238.2 45.6 L238.2 45.8 L238.2 45.9 L238.2 46.1 L238.3 46.2 L238.3 46.4 L238.3 46.6 L238.3 46.8 L238.2 46.9 L238.2 47.1 L238.2 47.2 L238.2 47.4 L238.2 47.5 L238.1 47.7 L238.1 47.8 L238.1 48 L238.1 48.1 L238 48.2 L238 48.3 L237.9 48.5 L237.9 48.6 L237.8 48.8 L237.8 48.9 L237.7 49 L237.6 49.1 L237.6 49.2 L237.5 49.3 L237.4 49.4 L237.4 49.5 L237.3 49.6 L237.2 49.7 L237.1 49.8 L237 49.9 L236.9 50 L236.8 50 L236.7 50.1 L236.7 50.2 L236.5 50.2 L236.5 50.3 L236.3 50.3 L236.3 50.4 L236.1 50.4 L236 50.4 L235.9 50.5 L235.8 50.5 L235.7 50.5 L235.6 50.5 L235.5 50.5 L235.4 50.5 L235.3 50.5 L235.2 50.5 L235 50.5 L234.9 50.5 L234.8 50.5 L234.7 50.5 L234.6 50.4 L234.5 50.4 L234.3 50.3 L234.2 50.3 L234.1 50.2 L234 50.2 L233.9 50.1 L233.8 50 L233.7 50" fill="none" stroke="#111" stroke-width="1" />
<path d="M228.8 46.7 L227.6 47.6 L227.6 47.6 L226.5 48.7 L226.5 48.7 L225.4 49.9 L225.4 49.9 L224.3 51.1 L224.3 51.1 L223.3 52.3 L223.3 52.4 L222.3 53.7 L222.3 53.7 L221.3 55 L221.3 55.1 L221.1 55.4" fill="none" stroke="#111" stroke-width="1" />
<path d="M209.6 82.9 L209.6 83.2 L209.6 83.5 L209.7 83.7 L209.8 84 L210 84.2 L210.1 84.3 L210.3 84.5 L210.5 84.6 L210.7 84.6 L210.7 84.6 L210.8 84.6 L210.9 84.6 L211 84.6 L211.1 84.7 L211.2 84.7 L211.4 84.7 L211.5 84.8 L211.6 84.8 L211.7 84.8 L211.8 84.9 L211.9 85 L212.1 85 L212.1 85.1 L212.3 85.2 L212.4 85.2 L212.5 85.3 L212.6 85.4 L212.7 85.5 L212.8 85.6 L212.9 85.7 L213 85.8 L213.1 85.9 L213.2 86 L213.3 86.2 L213.4 86.3 L213.5 86.4 L213.5 86.5 L213.6 86.7 L213.7 86.8 L213.8 86.9 L213.9 87 L214 87.2 L214 87.3 L214.1 87.5 L214.1 87.6 L214.2 87.8 L214.3 87.9 L214.3 88.1 L214.4 88.2 L214.4 88.4 L214.5 88.5 L214.5 88.7 L214.5 88.9 L214.6 89 L214.6 89.2 L214.6 89.4 L214.6 89.5 L214.7 89.7 L214.7 89.8 L214.7 90 L214.7 90.1 L214.7 90.3 L214.7 90.5 L214.7 90.6 L214.7 90.8 L214.7 91 L214.7 91.1 L214.6 91.3 L214.6 91.4 L214.6 91.6 L214.6 91.7 L214.5 91.8 L214.5 92 L214.5 92.1 L214.4 92.2 L214.4 92.4 L214.3 92.5 L214.3 92.6 L214.2 92.7 L214.1 92.9 L214.1 93 L214 93.1 L214 93.2 L213.9 93.3 L213.8 93.4 L213.7 93.5 L213.6 93.6 L213.5 93.7 L213.5 93.8 L213.4 93.9 L213.3 93.9 L213.2 94 L213.1 94.1 L213 94.1 L212.9 94.2 L212.8 94.2 L212.7 94.3 L212.6 94.3 L212.5 94.3 L212.4 94.4 L212.3 94.4 L212.1 94.4 L212.1 94.4 L211.9 94.4 L211.8 94.4 L211.7 94.4 L211.6 94.4 L211.5 94.4 L211.4 94.4 L211.2 94.4 L211.1 94.3 L211 94.3 L210.9 94.3 L210.8 94.2 L210.7 94.2 L210.7 94.2 L210.5 94.1 L210.3 94.1 L210.1 94.1 L210 94.2 L209.8 94.4 L209.7 94.6 L209.6 94.8 L209.6 95 L209.6 95.3 L209.6 95.4 L209.6 95.4 L209.8 97.5 L209.8 97.5 L210 99.6 L210 99.6 L210.3 101.7 L210.3 101.8 L210.7 103.9 L210.7 103.9 L211 106 L211.1 106 L211.5 108.1 L211.5 108.1 L212 110.2 L212 110.2 L212.5 112.3 L212.5 112.3 L212.7 112.8 L212.8 113 L212.9 113.3 L213 113.4 L213.2 113.6 L213.3 113.7 L213.5 113.8 L213.7 113.8 L213.9 113.8 L214 113.7 L214.1 113.7 L214.1 113.7 L214.2 113.6 L214.3 113.5 L214.4 113.5 L214.5 113.4 L214.5 113.4 L214.7 113.3 L214.7 113.3 L214.9 113.3 L214.9 113.3 L215.1 113.3 L215.1 113.3 L215.3 113.3 L215.4 113.3 L215.5 113.3 L215.6 113.3 L215.7 113.4 L215.8 113.4 L215.9 113.5 L216 113.5 L216.1 113.6 L216.3 113.7 L216.4 113.7 L216.5 113.8 L216.6 113.9 L216.7 114 L216.8 114.1 L217 114.2 L217 114.3 L217.2 114.4 L217.3 114.5 L217.4 114.7 L217.5 114.7 L217.7 114.9 L217.7 115 L217.9 115.2 L217.9 115.3 L218.1 115.6 L218.1 115.6 L218.3 115.8 L218.4 115.9 L218.6 116 L218.8 116.1 L219 116.1 L219.2 116 L232.3 108.8 L232.5 108.7 L232.6 108.6 L232.7 108.3 L232.8 108.1 L232.8 107.8 L232.8 107.6 L232.7 107.3 L232.7 107.2 L232.3 105.8 L232.3 105.7 L231.9 104.2 L231.9 104.1 L231.6 102.6 L231.5 102.4 L231.3 100.9 L231.3 100.8 L231.1 99.3 L231.1 99.2 L230.9 97.7 L230.9 97.6 L230.8 96.1 L230.8 96 L230.8 94.5 L230.8 94.4 L230.8 92.9 L230.8 92.8 L230.9 91.4 L230.9 91.3 L231.1 89.8 L231.1 89.7 L231.3 88.3 L231.3 88.2 L231.5 86.8 L231.6 86.7 L231.9 85.4 L231.9 85.3 L232.3 84 L232.3 83.9 L232.7 82.6 L232.7 82.6 L232.8 82.3 L232.8 82.1 L232.8 81.8 L232.7 81.5 L232.6 81.3 L232.5 81 L232.3 80.8 L219.2 67.1 L219 66.9 L218.8 66.8 L218.6 66.8 L218.4 66.8 L218.3 66.8 L218.1 67 L218.1 67 L217.9 67.1 L217.9 67.2 L217.7 67.3 L217.7 67.3 L217.5 67.5 L217.4 67.5 L217.3 67.6 L217.2 67.6 L217 67.7 L217 67.7 L216.8 67.8 L216.7 67.8 L216.6 67.9 L216.5 67.9 L216.4 67.9 L216.3 67.9 L216.1 67.9 L216 67.9 L215.9 67.9 L215.8 67.9 L215.7 67.9 L215.6 67.9 L215.5 67.9 L215.4 67.8 L215.3 67.8 L215.1 67.7 L215.1 67.7 L214.9 67.6 L214.9 67.6 L214.7 67.5 L214.7 67.4 L214.5 67.3 L214.5 67.3 L214.4 67.1 L214.3 67.1 L214.2 66.9 L214.1 66.8 L214.1 66.8 L214 66.7 L213.9 66.5 L213.7 66.4 L213.5 66.4 L213.3 66.4 L213.2 66.4 L213 66.5 L212.9 66.6 L212.8 66.8 L212.7 67 L212.5 67.4 L212.5 67.4 L212 69.2 L212 69.2 L211.5 71 L211.5 71.1 L211.1 72.9 L211 73 L210.7 74.9 L210.7 74.9 L210.3 76.8 L210.3 76.8 L210 78.8 L210 78.8 L209.8 80.8 L209.8 80.8 L209.6 82.8 L209.6 82.9 L209.6 82.9Z" fill="none" stroke="#000" stroke-width="2" />
<path d="M212.4 83.5 L212.4 83.8 L212.4 84.1 L212.5 84.3 L212.6 84.6 L212.7 84.8 L212.9 84.9 L213.1 85.1 L213.2 85.2 L213.4 85.2 L213.4 85.2 L213.5 85.2 L213.7 85.2 L213.8 85.2 L213.9 85.3 L214 85.3 L214.1 85.3 L214.2 85.4 L214.4 85.4 L214.4 85.4 L214.6 85.5 L214.7 85.6 L214.8 85.6 L214.9 85.7 L215 85.8 L215.1 85.8 L215.2 85.9 L215.3 86 L215.5 86.1 L215.5 86.2 L215.7 86.3 L215.7 86.4 L215.9 86.5 L215.9 86.6 L216 86.8 L216.1 86.9 L216.2 87 L216.3 87.1 L216.4 87.3 L216.5 87.4 L216.6 87.5 L216.6 87.6 L216.7 87.8 L216.8 87.9 L216.8 88.1 L216.9 88.2 L217 88.4 L217 88.5 L217.1 88.7 L217.1 88.8 L217.2 89 L217.2 89.1 L217.3 89.3 L217.3 89.5 L217.3 89.6 L217.3 89.8 L217.4 90 L217.4 90.1 L217.4 90.3 L217.4 90.4 L217.4 90.6 L217.4 90.7 L217.5 90.9 L217.5 91.1 L217.4 91.2 L217.4 91.4 L217.4 91.6 L217.4 91.7 L217.4 91.9 L217.4 92 L217.3 92.2 L217.3 92.3 L217.3 92.4 L217.3 92.6 L217.2 92.7 L217.2 92.8 L217.1 93 L217.1 93.1 L217 93.2 L217 93.3 L216.9 93.5 L216.8 93.6 L216.8 93.7 L216.7 93.8 L216.6 93.9 L216.6 94 L216.5 94.1 L216.4 94.2 L216.3 94.3 L216.2 94.4 L216.1 94.5 L216 94.5 L215.9 94.6 L215.9 94.7 L215.7 94.7 L215.7 94.8 L215.5 94.8 L215.5 94.9 L215.3 94.9 L215.2 94.9 L215.1 95 L215 95 L214.9 95 L214.8 95 L214.7 95 L214.6 95 L214.4 95 L214.4 95 L214.2 95 L214.1 95 L214 95 L213.9 94.9 L213.8 94.9 L213.7 94.9 L213.5 94.8 L213.4 94.8 L213.4 94.8 L213.2 94.7 L213.1 94.7 L212.9 94.7 L212.7 94.8 L212.6 95 L212.5 95.2 L212.4 95.4 L212.4 95.6 L212.4 95.9 L212.4 96 L212.4 96 L212.5 98.1 L212.5 98.1 L212.8 100.2 L212.8 100.2 L213.1 102.3 L213.1 102.4 L213.4 104.5 L213.4 104.5 L213.8 106.6 L213.8 106.6 L214.2 108.7 L214.3 108.7 L214.7 110.8 L214.7 110.8 L215.3 112.9 L215.3 112.9 L215.3 113" fill="none" stroke="#111" stroke-width="1" />
<path d="M217.1 114.1 L217.2 114 L217.3 114 L217.4 113.9 L217.5 113.9 L217.6 113.9 L217.7 113.9 L217.8 113.9 L217.9 113.9 L218 113.9 L218.1 113.9 L218.2 113.9 L218.3 113.9 L218.4 114 L218.5 114 L218.7 114.1 L218.8 114.1 L218.9 114.2 L219 114.3 L219.1 114.3 L219.2 114.4 L219.3 114.5 L219.5 114.6 L219.6 114.7 L219.7 114.8 L219.8 114.9 L220 115 L220 115.1 L220.1 115.2" fill="none" stroke="#111" stroke-width="1" />
<path d="M220 68.2 L220 68.2 L219.8 68.3 L219.7 68.3 L219.6 68.4 L219.5 68.4 L219.3 68.5 L219.2 68.5 L219.1 68.5 L219 68.5 L218.9 68.5 L218.8 68.5 L218.7 68.5 L218.5 68.5 L218.4 68.5 L218.3 68.5 L218.2 68.5 L218.1 68.4 L218 68.4 L217.9 68.3 L217.8 68.3 L217.7 68.2 L217.6 68.2 L217.5 68.1 L217.4 68 L217.3 67.9 L217.3 67.9" fill="none" stroke="#111" stroke-width="1" />
<path d="M215.3 68 L214.7 69.8 L214.7 69.8 L214.3 71.6 L214.2 71.7 L213.8 73.5 L213.8 73.6 L213.4 75.5 L213.4 75.5 L213.1 77.4 L213.1 77.4 L212.8 79.4 L212.8 79.4 L212.5 81.4 L212.5 81.4 L212.4 83.4 L212.4 83.5 L212.4 83.5" fill="none" stroke="#111" stroke-width="1" />
<path d="M253.8 68.3 L253.8 45.8" fill="none" stroke="#000" stroke-width="4.2" stroke-linecap="butt"/>
<path d="M253.8 131.7 L253.8 154.2" fill="none" stroke="#000" stroke-width="4.2" stroke-linecap="butt"/>
<path d="M252.8 40.2 L253.2 40.4 L253.6 40.8 L254 41.2 L254.3 41.8 L254.4 42.4 L254.5 43 L254.4 43.6 L254.3 44.1 L254 44.5 L253.6 44.8 L253.2 44.9 L252.8 44.9 L252.4 44.7 L252 44.4 L251.6 43.9 L251.3 43.4 L251.2 42.8 L251.1 42.1 L251.2 41.6 L251.3 41 L251.6 40.6 L252 40.3 L252.4 40.2 L252.8 40.2Z" fill="#fff" stroke="#111" stroke-width="1.2" />
<path d="M288.8 78 L289.3 78.2 L289.7 78.6 L290 79 L290.3 79.6 L290.5 80.2 L290.5 80.8 L290.5 81.4 L290.3 81.9 L290 82.3 L289.7 82.6 L289.3 82.7 L288.8 82.7 L288.4 82.5 L288 82.2 L287.6 81.7 L287.4 81.2 L287.2 80.6 L287.1 79.9 L287.2 79.4 L287.4 78.8 L287.6 78.4 L288 78.1 L288.4 78 L288.8 78Z" fill="#fff" stroke="#111" stroke-width="1.2" />
<path d="M288.8 135.5 L289.3 135.7 L289.7 136 L290 136.5 L290.3 137 L290.5 137.6 L290.5 138.2 L290.5 138.8 L290.3 139.3 L290 139.7 L289.7 140 L289.3 140.2 L288.8 140.1 L288.4 139.9 L288 139.6 L287.6 139.1 L287.4 138.6 L287.2 138 L287.1 137.4 L287.2 136.8 L287.4 136.3 L287.6 135.9 L288 135.6 L288.4 135.4 L288.8 135.5Z" fill="#fff" stroke="#111" stroke-width="1.2" />
<path d="M252.8 155.1 L253.2 155.3 L253.6 155.6 L254 156.1 L254.3 156.6 L254.4 157.2 L254.5 157.9 L254.4 158.4 L254.3 159 L254 159.4 L253.6 159.7 L253.2 159.8 L252.8 159.8 L252.4 159.6 L252 159.2 L251.6 158.8 L251.3 158.2 L251.2 157.6 L251.1 157 L251.2 156.4 L251.3 155.9 L251.6 155.5 L252 155.2 L252.4 155.1 L252.8 155.1Z" fill="#fff" stroke="#111" stroke-width="1.2" />
<path d="M216.8 117.3 L217.2 117.5 L217.6 117.8 L218 118.3 L218.2 118.8 L218.4 119.4 L218.5 120.1 L218.4 120.6 L218.2 121.2 L218 121.6 L217.6 121.9 L217.2 122 L216.8 122 L216.3 121.8 L215.9 121.4 L215.6 121 L215.3 120.4 L215.1 119.8 L215.1 119.2 L215.1 118.6 L215.3 118.1 L215.6 117.7 L215.9 117.4 L216.3 117.3 L216.8 117.3Z" fill="#fff" stroke="#111" stroke-width="1.2" />
<path d="M216.8 59.9 L217.2 60.1 L217.6 60.4 L218 60.9 L218.2 61.4 L218.4 62 L218.5 62.6 L218.4 63.2 L218.2 63.7 L218 64.1 L217.6 64.4 L217.2 64.6 L216.8 64.5 L216.3 64.3 L215.9 64 L215.6 63.5 L215.3 63 L215.1 62.4 L215.1 61.8 L215.1 61.2 L215.3 60.7 L215.6 60.3 L215.9 60 L216.3 59.8 L216.8 59.9Z" fill="#fff" stroke="#111" stroke-width="1.2" />
<path d="M277.4 106.1 L277.3 108.8 L277.1 111.4 L276.7 113.9 L276.1 116.3 L275.3 118.6 L274.5 120.7 L273.4 122.7 L272.3 124.5 L271 126.2 L269.5 127.6 L268 128.8 L266.4 129.9 L264.7 130.7 L262.9 131.3 L261.1 131.6 L259.2 131.7 L257.3 131.6 L255.4 131.2 L253.5 130.6 L251.6 129.8 L249.7 128.7 L247.9 127.5 L246.1 126 L244.4 124.3 L242.8 122.5 L241.3 120.5 L239.8 118.3 L238.5 116 L237.4 113.6 L236.3 111.1 L235.5 108.5 L234.7 105.9 L234.1 103.2 L233.7 100.5 L233.5 97.7 L233.4 95.1 L233.5 92.4 L233.7 89.8 L234.1 87.3 L234.7 84.9 L235.5 82.6 L236.3 80.5 L237.4 78.5 L238.5 76.7 L239.8 75 L241.3 73.6 L242.8 72.4 L244.4 71.3 L246.1 70.5 L247.9 69.9 L249.7 69.6 L251.6 69.5 L253.5 69.6 L255.4 70 L257.3 70.6 L259.2 71.4 L261.1 72.5 L262.9 73.7 L264.7 75.2 L266.4 76.9 L268 78.7 L269.5 80.7 L271 82.9 L272.3 85.2 L273.4 87.6 L274.5 90.1 L275.3 92.7 L276.1 95.3 L276.7 98 L277.1 100.7 L277.3 103.5 L277.4 106.1Z" fill="#fff" stroke="#111" stroke-width="1.7" />
<path d="M274.6 105.5 L274.5 108.1 L274.3 110.7 L273.9 113.1 L273.3 115.5 L272.6 117.7 L271.8 119.8 L270.8 121.8 L269.6 123.6 L268.4 125.2 L267 126.6 L265.6 127.8 L264 128.9 L262.4 129.6 L260.7 130.2 L258.9 130.6 L257.1 130.7 L255.2 130.6 L253.4 130.2 L251.6 129.6 L249.7 128.8 L247.9 127.8 L246.1 126.6 L244.4 125.1 L242.8 123.5 L241.2 121.7 L239.8 119.7 L238.4 117.6 L237.2 115.4 L236 113 L235 110.6 L234.2 108 L233.5 105.4 L232.9 102.8 L232.5 100.1 L232.3 97.5 L232.2 94.9 L232.3 92.3 L232.5 89.7 L232.9 87.3 L233.5 84.9 L234.2 82.7 L235 80.6 L236 78.6 L237.2 76.8 L238.4 75.2 L239.8 73.8 L241.2 72.6 L242.8 71.5 L244.4 70.8 L246.1 70.2 L247.9 69.8 L249.7 69.7 L251.6 69.8 L253.4 70.2 L255.2 70.8 L257.1 71.6 L258.9 72.6 L260.7 73.8 L262.4 75.3 L264 76.9 L265.6 78.7 L267 80.7 L268.4 82.8 L269.6 85 L270.8 87.4 L271.8 89.8 L272.6 92.4 L273.3 95 L273.9 97.6 L274.3 100.3 L274.5 102.9 L274.6 105.5Z" fill="#fff" stroke="#111" stroke-width="1.3" />
<path d="M270.2 104.5 L270.1 107.1 L269.9 109.5 L269.5 112 L269 114.3 L268.4 116.5 L267.6 118.6 L266.6 120.5 L265.6 122.3 L264.4 123.9 L263.2 125.3 L261.8 126.5 L260.4 127.5 L258.8 128.3 L257.2 128.9 L255.6 129.2 L253.9 129.4 L252.2 129.3 L250.5 128.9 L248.8 128.4 L247.1 127.6 L245.4 126.7 L243.8 125.5 L242.2 124.1 L240.7 122.5 L239.2 120.8 L237.8 118.9 L236.6 116.8 L235.4 114.6 L234.4 112.3 L233.4 109.9 L232.6 107.5 L232 104.9 L231.5 102.4 L231.1 99.8 L230.9 97.2 L230.8 94.6 L230.9 92 L231.1 89.6 L231.5 87.1 L232 84.8 L232.6 82.6 L233.4 80.5 L234.4 78.6 L235.4 76.8 L236.6 75.2 L237.8 73.8 L239.2 72.6 L240.7 71.6 L242.2 70.8 L243.8 70.2 L245.4 69.9 L247.1 69.7 L248.8 69.8 L250.5 70.2 L252.2 70.7 L253.9 71.5 L255.6 72.4 L257.2 73.6 L258.8 75 L260.4 76.6 L261.8 78.3 L263.2 80.2 L264.4 82.3 L265.6 84.5 L266.6 86.8 L267.6 89.2 L268.4 91.6 L269 94.2 L269.5 96.7 L269.9 99.3 L270.1 101.9 L270.2 104.5Z" fill="#fff" stroke="#111" stroke-width="1.5" />
<path d="M268.5 104 L268.4 106 L268.3 108 L267.9 110 L267.5 111.8 L267 113.6 L266.3 115.3 L265.6 116.8 L264.7 118.2 L263.7 119.5 L262.7 120.6 L261.5 121.6 L260.4 122.4 L259.1 123.1 L257.8 123.5 L256.4 123.8 L255 123.9 L253.6 123.8 L252.2 123.5 L250.8 123.1 L249.4 122.5 L248 121.7 L246.6 120.7 L245.3 119.6 L244.1 118.3 L242.9 116.9 L241.7 115.4 L240.7 113.7 L239.7 111.9 L238.8 110.1 L238.1 108.1 L237.4 106.1 L236.9 104.1 L236.5 102 L236.1 99.9 L236 97.8 L235.9 95.7 L236 93.7 L236.1 91.7 L236.5 89.7 L236.9 87.9 L237.4 86.1 L238.1 84.4 L238.8 82.9 L239.7 81.5 L240.7 80.2 L241.7 79.1 L242.9 78.1 L244.1 77.3 L245.3 76.6 L246.6 76.2 L248 75.9 L249.4 75.8 L250.8 75.9 L252.2 76.2 L253.6 76.6 L255 77.2 L256.4 78 L257.8 79 L259.1 80.1 L260.4 81.4 L261.5 82.8 L262.7 84.3 L263.7 86 L264.7 87.8 L265.6 89.6 L266.3 91.6 L267 93.6 L267.5 95.6 L267.9 97.7 L268.3 99.8 L268.4 101.9 L268.5 104Z" fill="#1a1a1a" stroke="#111" stroke-width="1.3" />
<path d="M259.2 80.4 L258.2 79.9 L257.3 79.6 L256.4 79.4 L255.4 79.4 L254.5 79.6 L253.6 79.9 L252.7 80.3 L251.8 80.9 L251 81.6 L250.3 82.5 L249.6 83.5 L249 84.6 L248.4 85.8 L247.9 87.2 L247.4 88.6 L247.1 90.1 L246.8 91.7 L246.6 93.3 L246.4 95 L246.4 96.8 L246.4 98.5 L246.6 100.2 L246.8 102 L247.1 103.7 L247.4 105.4 L247.9 107.1 L248.4 108.7 L249 110.2 L249.6 111.6 L250.3 113 L251 114.2 L251.9 115.4 L252.7 116.4 L253.6 117.3 L254.5 118 L255.4 118.6 L256.4 119.1 L257.3 119.4 L258.2 119.6 L259.2 119.6 L260.1 119.4 L261 119.1 L261.9 118.7 L262.8 118.1 L263.6 117.4 L264.3 116.5 L265 115.5 L265.6 114.4 L266.2 113.2 L266.7 111.8 L267.2 110.4 L267.5 108.9 L267.8 107.3 L268 105.7 L268.2 104 L268.2 102.2 L268.2 100.5 L268 98.8 L267.9 97.3 L267.5 95.6 L267 93.6 L266.3 91.6 L265.6 89.6 L264.7 87.8 L263.7 86 L262.7 84.3 L261.5 82.8 L260.4 81.4 L259.7 80.7 L259.2 80.4Z" fill="#fff" stroke="#111" stroke-width="0.6" />
<path d="M250.9 121.6 L249.9 121 L248.9 120.3 L247.9 119.6 L247 118.7 L246.1 117.7 L245.2 116.6 L244.4 115.5 L243.6 114.3 L242.9 113 L242.2 111.6 L241.6 110.2 L241 108.7 L240.5 107.2 L240.1 105.7 L239.7 104.1 L239.4 102.5 L239.1 100.9 L238.9 99.2 L238.8 97.6 L238.8 96 L238.8 94.4 L238.9 92.9 L239.1 91.3 L239.4 89.8 L239.7 88.4 L240.1 87 L240.5 85.7 L241 84.4 L241.6 83.3 L242.2 82.2 L242.9 81.1 L243.6 80.2 L244.4 79.4 L245.2 78.7 L246.1 78 L247 77.5 L247.9 77.1 L248.9 76.8 L249.9 76.6 L250.9 76.5" fill="none" stroke="#999" stroke-width="0.5" stroke-dasharray="0.7 1.1"/>
<path d="M252.3 120.8 L251.4 120.2 L250.5 119.6 L249.7 118.9 L248.8 118 L248 117.1 L247.2 116.1 L246.5 115 L245.8 113.8 L245.1 112.6 L244.5 111.3 L243.9 109.9 L243.4 108.5 L242.9 107.1 L242.5 105.6 L242.2 104.1 L241.9 102.6 L241.7 101 L241.5 99.5 L241.4 97.9 L241.4 96.4 L241.4 94.8 L241.5 93.3 L241.7 91.9 L241.9 90.4 L242.2 89 L242.5 87.7 L242.9 86.4 L243.4 85.2 L243.9 84.1 L244.5 83 L245.1 82 L245.8 81.1 L246.5 80.3 L247.2 79.6 L248 79 L248.8 78.5 L249.7 78.1 L250.5 77.7 L251.4 77.5 L252.3 77.5" fill="none" stroke="#999" stroke-width="0.5" stroke-dasharray="0.7 1.1"/>
<path d="M253.7 120.2 L252.9 119.6 L252.1 119 L251.3 118.3 L250.5 117.5 L249.8 116.6 L249.1 115.7 L248.4 114.6 L247.8 113.5 L247.2 112.3 L246.6 111.1 L246.1 109.8 L245.6 108.4 L245.2 107 L244.8 105.6 L244.5 104.1 L244.3 102.7 L244.1 101.2 L243.9 99.7 L243.8 98.2 L243.8 96.7 L243.8 95.2 L243.9 93.7 L244.1 92.3 L244.3 90.9 L244.5 89.6 L244.8 88.3 L245.2 87 L245.6 85.8 L246.1 84.7 L246.6 83.7 L247.2 82.7 L247.8 81.8 L248.4 81.1 L249.1 80.3 L249.8 79.7 L250.5 79.2 L251.3 78.8 L252.1 78.5 L252.9 78.3 L253.7 78.2" fill="none" stroke="#999" stroke-width="0.5" stroke-dasharray="0.7 1.1"/>
<path d="M486 36.4 L486 36.4 L483.6 35.9 L482.2 35.7" fill="none" stroke="#111" stroke-width="1.4" />
<path d="M484.4 163.9 L486 164.3 L488.4 164.9 L490.8 165.2 L493.2 165.4 L495.6 165.4 L497.9 165.2 L500.3 164.8 L502.5 164.3 L504.8 163.5 L506.9 162.6 L509.1 161.6 L511.1 160.3 L513.1 159 L515 157.4 L516.9 155.7 L518.6 153.8 L520.3 151.8 L521.8 149.7 L523.3 147.4 L524.7 145 L525.9 142.4 L527.1 139.8 L528.1 137 L529.1 134.2 L529.9 131.2 L530.5 128.2 L531.1 125 L531.5 121.9 L531.9 118.6 L532.1 115.3 L532.1 112 L532.1 108.6 L531.9 105.3 L531.5 101.9 L531.1 98.5 L530.5 95.1 L529.9 91.7 L529.1 88.3 L528.1 85 L527.1 81.7 L525.9 78.5 L524.7 75.3 L523.3 72.2 L521.8 69.2 L520.3 66.2 L518.6 63.4 L516.9 60.6 L515 58 L513.1 55.5 L511.1 53.1 L509.1 50.8 L506.9 48.7 L504.8 46.7 L502.5 44.8 L500.3 43.1 L497.9 41.6 L495.6 40.2 L493.2 39 L490.8 38 L488.4 37.1 L486 36.4" fill="none" stroke="#111" stroke-width="1.4" />
<path d="M480.6 35.2 L483 35.9 L485.4 36.8 L487.8 37.9 L490.2 39.1 L492.5 40.4 L494.8 42 L497.1 43.7 L499.3 45.5 L501.5 47.5 L503.6 49.6 L505.7 51.9 L507.7 54.3 L509.6 56.8 L511.4 59.5 L513.2 62.2 L514.9 65 L516.4 68 L517.9 71 L519.3 74.1 L520.5 77.3 L521.7 80.5 L522.7 83.8 L523.6 87.1 L524.4 90.5 L525.1 93.9 L525.7 97.3 L526.1 100.7 L526.4 104.1 L526.6 107.5 L526.7 110.8 L526.6 114.2 L526.4 117.4 L526.1 120.7 L525.7 123.9 L525.1 127 L524.4 130 L523.6 133 L522.7 135.8 L521.7 138.6 L520.5 141.2 L519.3 143.8 L517.9 146.2 L516.4 148.5 L514.9 150.6 L513.2 152.6 L511.4 154.5 L509.6 156.2 L507.7 157.8 L505.7 159.2 L503.6 160.4 L501.5 161.5 L499.3 162.4 L497.1 163.1 L494.8 163.6 L492.5 164 L490.2 164.2 L487.8 164.2 L485.4 164 L483 163.7 L480.6 163.2 L478.2 162.5 L475.8 161.6 L473.4 160.5 L471 159.3 L468.7 158 L466.4 156.4 L464.1 154.7 L461.9 152.9 L459.7 150.9 L457.6 148.8 L455.5 146.5 L453.5 144.1 L451.6 141.6 L449.8 138.9 L448 136.2 L446.3 133.4 L444.8 130.4 L443.3 127.4 L441.9 124.3 L440.7 121.1 L439.5 117.9 L438.5 114.6 L437.6 111.3 L436.8 107.9 L436.1 104.5 L435.5 101.1 L435.1 97.7 L434.8 94.3 L434.6 90.9 L434.5 87.6 L434.6 84.2 L434.8 81 L435.1 77.7 L435.5 74.5 L436.1 71.4 L436.8 68.4 L437.6 65.4 L438.5 62.6 L439.5 59.8 L440.7 57.2 L441.9 54.6 L443.3 52.2 L444.8 49.9 L446.3 47.8 L448 45.8 L449.8 43.9 L451.6 42.2 L453.5 40.6 L455.5 39.2 L457.6 38 L459.7 36.9 L461.9 36 L464.1 35.3 L466.4 34.8 L468.7 34.4 L471 34.2 L473.4 34.2 L475.8 34.4 L478.2 34.7 L480.6 35.2Z" fill="#fff" stroke="#000" stroke-width="1.7" />
<path d="M480.6 37.4 L482.9 38.1 L485.3 38.9 L487.6 39.9 L489.9 41.1 L492.1 42.4 L494.4 43.9 L496.6 45.5 L498.7 47.3 L500.8 49.3 L502.9 51.3 L504.9 53.5 L506.8 55.8 L508.6 58.3 L510.4 60.8 L512.1 63.5 L513.7 66.2 L515.2 69 L516.6 72 L517.9 75 L519.2 78 L520.3 81.2 L521.3 84.3 L522.2 87.5 L523 90.8 L523.6 94.1 L524.2 97.3 L524.6 100.6 L524.9 103.9 L525.1 107.2 L525.1 110.4 L525.1 113.6 L524.9 116.8 L524.6 120 L524.2 123 L523.6 126 L523 129 L522.2 131.8 L521.3 134.6 L520.3 137.3 L519.2 139.8 L517.9 142.3 L516.6 144.6 L515.2 146.8 L513.7 148.9 L512.1 150.8 L510.4 152.6 L508.6 154.3 L506.8 155.8 L504.9 157.1 L502.9 158.3 L500.8 159.3 L498.7 160.2 L496.6 160.9 L494.4 161.4 L492.1 161.8 L489.9 162 L487.6 162 L485.3 161.8 L482.9 161.5 L480.6 161 L478.3 160.3 L475.9 159.5 L473.6 158.5 L471.3 157.3 L469.1 156 L466.8 154.5 L464.6 152.9 L462.5 151.1 L460.4 149.1 L458.3 147.1 L456.3 144.9 L454.4 142.6 L452.6 140.1 L450.8 137.6 L449.1 134.9 L447.5 132.2 L446 129.4 L444.6 126.4 L443.3 123.4 L442 120.4 L440.9 117.2 L439.9 114.1 L439 110.9 L438.2 107.6 L437.6 104.3 L437 101.1 L436.6 97.8 L436.3 94.5 L436.1 91.2 L436.1 88 L436.1 84.8 L436.3 81.6 L436.6 78.4 L437 75.4 L437.6 72.4 L438.2 69.4 L439 66.6 L439.9 63.8 L440.9 61.1 L442 58.6 L443.3 56.1 L444.6 53.8 L446 51.6 L447.5 49.5 L449.1 47.6 L450.8 45.8 L452.6 44.1 L454.4 42.6 L456.3 41.3 L458.3 40.1 L460.4 39.1 L462.5 38.2 L464.6 37.5 L466.8 37 L469.1 36.6 L471.3 36.4 L473.6 36.4 L475.9 36.6 L478.3 36.9 L480.6 37.4Z" fill="none" stroke="#111" stroke-width="0.9" />
<path d="M500.6 91.2 L500.4 91.3 L500.3 91.4 L500.2 91.7 L500.1 91.9 L500.1 92.2 L500.1 92.4 L500.2 92.7 L500.2 92.8 L500.6 94.2 L500.6 94.3 L501 95.8 L501 95.9 L501.3 97.4 L501.4 97.6 L501.6 99.1 L501.6 99.2 L501.8 100.7 L501.8 100.8 L502 102.3 L502 102.4 L502.1 103.9 L502.1 104 L502.1 105.5 L502.1 105.6 L502.1 107.1 L502.1 107.2 L502 108.6 L502 108.7 L501.8 110.2 L501.8 110.3 L501.6 111.7 L501.6 111.8 L501.4 113.2 L501.3 113.3 L501 114.6 L501 114.7 L500.6 116 L500.6 116.1 L500.2 117.4 L500.2 117.4 L500.1 117.7 L500.1 117.9 L500.1 118.2 L500.2 118.5 L500.3 118.7 L500.4 119 L500.6 119.2 L513.7 132.9 L513.9 133.1 L514.1 133.2 L514.3 133.2 L514.5 133.2 L514.6 133.2 L514.8 133 L514.8 133 L515 132.9 L515 132.8 L515.2 132.7 L515.2 132.7 L515.4 132.5 L515.5 132.5 L515.6 132.4 L515.7 132.4 L515.9 132.3 L515.9 132.3 L516.1 132.2 L516.2 132.2 L516.3 132.1 L516.4 132.1 L516.5 132.1 L516.6 132.1 L516.8 132.1 L516.9 132.1 L517 132.1 L517.1 132.1 L517.2 132.1 L517.3 132.1 L517.4 132.1 L517.5 132.2 L517.6 132.2 L517.8 132.3 L517.8 132.3 L518 132.4 L518 132.4 L518.2 132.5 L518.2 132.6 L518.4 132.7 L518.4 132.7 L518.5 132.9 L518.6 132.9 L518.7 133.1 L518.8 133.2 L518.8 133.2 L518.9 133.3 L519 133.5 L519.2 133.6 L519.4 133.6 L519.6 133.6 L519.7 133.6 L519.9 133.5 L520 133.4 L520.1 133.2 L520.2 133 L520.4 132.6 L520.4 132.6 L520.9 130.8 L520.9 130.8 L521.4 129 L521.4 128.9 L521.8 127.1 L521.9 127 L522.2 125.1 L522.2 125.1 L522.6 123.2 L522.6 123.2 L522.9 121.2 L522.9 121.2 L523.1 119.2 L523.1 119.2 L523.2 118.7 L523.2 118.5 L523.1 118.2 L523.1 118 L523 117.7 L522.9 117.5 L522.7 117.3 L522.6 117.2 L522.4 117.1 L522.2 117 L522.1 117 L522.1 117 L522 117 L521.8 117 L521.8 117 L521.6 116.9 L521.6 116.9 L521.4 116.9 L521.4 116.8 L521.2 116.8 L521.2 116.7 L521 116.6 L521 116.6 L520.8 116.5 L520.8 116.4 L520.7 116.3 L520.6 116.2 L520.5 116.1 L520.4 116 L520.3 115.9 L520.2 115.8 L520.1 115.6 L520 115.5 L520 115.4 L519.9 115.2 L519.8 115.1 L519.7 114.9 L519.6 114.8 L519.5 114.6 L519.5 114.5 L519.4 114.2 L519.4 114.1 L519.3 113.9 L519.2 113.8 L519.2 113.5 L519.1 113.4 L519 113.1 L519 113 L518.9 112.7 L518.9 112.6 L518.9 112.3 L518.8 112.2 L518.8 111.9 L518.8 111.8 L518.7 111.5 L518.7 111.4 L518.7 111 L518.7 110.9 L518.6 110.6 L518.6 110.5 L518.6 110.2 L518.6 110.1 L518.6 109.8 L518.6 109.7 L518.6 109.3 L518.6 109.2 L518.6 108.9 L518.6 108.8 L518.7 108.5 L518.7 108.4 L518.7 108.1 L518.7 108 L518.8 107.7 L518.8 107.6 L518.8 107.3 L518.9 107.3 L518.9 107 L518.9 106.9 L519 106.6 L519 106.5 L519.1 106.3 L519.2 106.2 L519.2 106 L519.3 105.9 L519.4 105.7 L519.4 105.6 L519.5 105.4 L519.5 105.3 L519.6 105.2 L519.7 105.1 L519.8 104.9 L519.9 104.9 L520 104.7 L520 104.6 L520.1 104.5 L520.2 104.5 L520.3 104.4 L520.4 104.3 L520.5 104.3 L520.6 104.2 L520.7 104.2 L520.8 104.1 L520.8 104.1 L521 104 L521 104 L521.2 104 L521.2 104 L521.4 104 L521.4 104 L521.6 104 L521.6 104 L521.8 104.1 L521.8 104.1 L522 104.1 L522.1 104.2 L522.1 104.2 L522.2 104.2 L522.4 104.2 L522.6 104.2 L522.7 104.2 L522.9 104 L523 103.9 L523.1 103.7 L523.1 103.5 L523.2 103.3 L523.2 103 L523.1 102.5 L523.1 102.5 L522.9 100.4 L522.9 100.4 L522.6 98.3 L522.6 98.2 L522.2 96.1 L522.2 96.1 L521.9 94 L521.8 94 L521.4 91.9 L521.4 91.9 L520.9 89.8 L520.9 89.8 L520.4 87.7 L520.4 87.7 L520.2 87.2 L520.1 87 L520 86.7 L519.9 86.6 L519.7 86.4 L519.6 86.3 L519.4 86.2 L519.2 86.2 L519 86.2 L518.9 86.3 L518.8 86.3 L518.8 86.3 L518.7 86.4 L518.6 86.5 L518.5 86.5 L518.4 86.6 L518.4 86.6 L518.2 86.7 L518.2 86.7 L518 86.7 L518 86.7 L517.8 86.7 L517.8 86.7 L517.6 86.7 L517.5 86.7 L517.4 86.7 L517.3 86.7 L517.2 86.6 L517.1 86.6 L517 86.5 L516.9 86.5 L516.8 86.4 L516.6 86.3 L516.5 86.3 L516.4 86.2 L516.3 86.1 L516.2 86 L516.1 85.9 L515.9 85.8 L515.9 85.7 L515.7 85.6 L515.6 85.5 L515.5 85.3 L515.4 85.3 L515.2 85.1 L515.2 85 L515 84.8 L515 84.7 L514.8 84.4 L514.8 84.4 L514.6 84.2 L514.5 84.1 L514.3 84 L514.1 83.9 L513.9 83.9 L513.7 84 L500.6 91.2Z" fill="none" stroke="#000" stroke-width="2" />
<path d="M503.3 91.8 L503.2 91.9 L503 92 L502.9 92.3 L502.9 92.5 L502.9 92.8 L502.9 93 L502.9 93.3 L503 93.4 L503.4 94.8 L503.4 94.9 L503.8 96.4 L503.8 96.5 L504.1 98 L504.1 98.2 L504.4 99.7 L504.4 99.8 L504.6 101.3 L504.6 101.4 L504.7 102.9 L504.7 103 L504.8 104.5 L504.8 104.6 L504.8 106.1 L504.8 106.2 L504.8 107.7 L504.8 107.8 L504.7 109.2 L504.7 109.3 L504.6 110.8 L504.6 110.9 L504.4 112.3 L504.4 112.4 L504.1 113.8 L504.1 113.9 L503.8 115.2 L503.8 115.3 L503.4 116.6 L503.4 116.7 L503 118 L502.9 118 L502.9 118.3 L502.9 118.5 L502.9 118.8 L502.9 119.1 L503 119.3 L503.2 119.6 L503.3 119.8 L515.3 132.3" fill="none" stroke="#111" stroke-width="1" />
<path d="M518.8 132.8 L518.8 132.8 L518.9 132.8 L519.1 132.7 L519.2 132.7 L519.3 132.7 L519.4 132.7 L519.5 132.7 L519.6 132.7 L519.7 132.7 L519.9 132.7 L520 132.7 L520.1 132.7 L520.1 132.7" fill="none" stroke="#111" stroke-width="1" />
<path d="M520 87.2 L520 87.2 L519.9 87.2 L519.7 87.1 L519.6 87.1 L519.5 87 L519.4 86.9 L519.3 86.9 L519.2 86.8 L519.1 86.7 L518.9 86.6 L518.9 86.6" fill="none" stroke="#111" stroke-width="1" />
<path d="M515.2 85.3 L503.3 91.8" fill="none" stroke="#111" stroke-width="1" />
<path d="M481.6 152.8 L481.6 153 L481.6 153.3 L481.7 153.6 L481.9 153.8 L482 154 L482.2 154.1 L482.2 154.2 L482.4 154.3 L482.5 154.4 L482.7 154.5 L482.7 154.6 L482.9 154.7 L483 154.8 L483.2 155 L483.2 155 L483.4 155.2 L483.4 155.3 L483.6 155.5 L483.7 155.6 L483.8 155.7 L483.8 155.8 L484 156 L484 156.1 L484.1 156.3 L484.2 156.4 L484.3 156.5 L484.3 156.7 L484.4 156.8 L484.5 157 L484.5 157.1 L484.6 157.3 L484.6 157.4 L484.6 157.6 L484.7 157.7 L484.7 157.8 L484.7 157.9 L484.8 158.1 L484.8 158.2 L484.8 158.4 L484.8 158.5 L484.8 158.7 L484.8 158.8 L484.8 159 L484.7 159.1 L484.7 159.1 L484.7 159.3 L484.7 159.5 L484.8 159.8 L484.9 160 L485 160.3 L485.1 160.4 L485.3 160.6 L485.4 160.7 L485.6 160.8 L485.8 160.9 L486.1 160.9 L486.2 160.9 L487.6 160.9 L487.7 160.9 L489.1 160.9 L489.1 160.9 L490.6 160.8 L490.6 160.8 L492.1 160.6 L492.1 160.6 L493.5 160.4 L493.5 160.4 L494.9 160.1 L495 160.1 L496.4 159.7 L496.4 159.7 L496.7 159.6 L496.9 159.5 L497 159.4 L497.1 159.2 L497.2 159 L497.3 158.8 L497.3 158.6 L497.3 158.3 L497.2 158.1 L497.1 157.8 L497.1 157.6 L497.1 157.6 L497 157.5 L496.9 157.4 L496.9 157.3 L496.8 157.1 L496.8 157 L496.7 156.8 L496.7 156.7 L496.7 156.5 L496.6 156.4 L496.6 156.3 L496.6 156.1 L496.6 156 L496.6 155.8 L496.6 155.7 L496.6 155.5 L496.6 155.4 L496.6 155.2 L496.6 155.1 L496.6 154.9 L496.6 154.8 L496.7 154.6 L496.7 154.5 L496.7 154.3 L496.8 154.2 L496.8 154 L496.9 153.9 L496.9 153.7 L497 153.6 L497.1 153.4 L497.1 153.3 L497.2 153.1 L497.2 153 L497.3 152.8 L497.4 152.8 L497.5 152.6 L497.6 152.5 L497.7 152.3 L497.7 152.3 L497.9 152.1 L497.9 152 L498.1 151.9 L498.2 151.8 L498.3 151.6 L498.4 151.6 L498.6 151.4 L498.6 151.4 L498.8 151.2 L498.9 151.2 L499.1 151.1 L499.1 151 L499.3 150.9 L499.4 150.9 L499.6 150.8 L499.7 150.8 L499.9 150.7 L499.9 150.6 L500.2 150.6 L500.2 150.5 L500.4 150.5 L500.5 150.5 L500.7 150.4 L500.8 150.4 L501 150.4 L501.1 150.4 L501.3 150.3 L501.3 150.3 L501.6 150.3 L501.6 150.3 L501.8 150.4 L501.9 150.4 L502.1 150.4 L502.2 150.4 L502.4 150.4 L502.5 150.5 L502.6 150.5 L502.7 150.5 L502.9 150.6 L503 150.6 L503.1 150.7 L503.2 150.8 L503.4 150.8 L503.5 150.9 L503.6 151 L503.7 151.1 L503.8 151.2 L503.9 151.2 L504 151.3 L504.1 151.4 L504.2 151.5 L504.3 151.6 L504.4 151.7 L504.5 151.9 L504.5 151.9 L504.6 152.1 L504.7 152.2 L504.8 152.3 L504.8 152.4 L504.9 152.6 L504.9 152.7 L505 152.9 L505 153 L505.1 153.1 L505.1 153.3 L505.1 153.3 L505.2 153.5 L505.3 153.7 L505.4 153.9 L505.5 154.1 L505.7 154.2 L505.9 154.3 L506.1 154.3 L506.2 154.3 L506.4 154.3 L506.5 154.2 L506.8 154 L506.9 154 L508 153 L508 153 L509.1 151.9 L509.2 151.9 L510.3 150.7 L510.3 150.7 L511.3 149.5 L511.4 149.5 L512.4 148.3 L512.4 148.2 L513.4 146.9 L513.4 146.9 L514.3 145.6 L514.3 145.5 L514.5 145.2 L514.6 145 L514.7 144.8 L514.7 144.6 L514.7 144.3 L514.7 144.1 L514.6 143.8 L514.5 143.6 L514.4 143.4 L514.3 143.2 L514.1 143.1 L514.1 143.1 L514 143 L513.9 142.9 L513.9 142.9 L513.7 142.7 L513.7 142.7 L513.6 142.5 L513.5 142.5 L513.4 142.3 L513.4 142.2 L513.3 142.1 L513.2 142 L513.1 141.8 L513.1 141.7 L513 141.6 L513 141.4 L512.9 141.3 L512.9 141.1 L512.8 141 L512.8 140.8 L512.8 140.7 L512.7 140.5 L512.7 140.3 L512.7 140.1 L512.6 140 L512.6 139.8 L512.6 139.6 L512.6 139.4 L512.6 139.3 L512.6 139 L512.6 138.9 L512.6 138.7 L512.6 138.6 L512.6 138.3 L512.6 138.2 L512.6 137.9 L512.7 137.8 L512.7 137.5 L512.7 137.5 L512.7 137.3 L512.7 137 L512.6 136.7 L512.5 136.5 L512.4 136.2 L512.2 136 L499.1 122.3 L498.9 122.1 L498.8 122 L498.6 122 L498.4 122 L498.2 122 L498 122.2 L497.9 122.3 L497.9 122.4 L497.2 123.4 L497.2 123.5 L496.5 124.4 L496.4 124.5 L495.7 125.4 L495.6 125.4 L494.8 126.2 L494.8 126.3 L494 127.1 L493.9 127.1 L493.1 127.8 L493 127.8 L492.1 128.5 L492 128.5 L491.1 129 L491.1 129.1 L490.1 129.6 L490.1 129.6 L489.1 130 L489 130 L488 130.3 L487.9 130.3 L486.9 130.6 L486.9 130.6 L485.8 130.8 L485.8 130.8 L484.7 130.8 L484.6 130.9 L483.6 130.9 L483.5 130.9 L482.4 130.8 L482.4 130.8 L482.2 130.8 L482 130.8 L481.9 131 L481.7 131.1 L481.6 131.3 L481.6 131.6 L481.6 131.8 L481.6 152.8Z" fill="none" stroke="#000" stroke-width="2" />
<path d="M484.3 153.4 L484.3 153.6 L484.4 153.9 L484.5 154.2 L484.6 154.4 L484.8 154.6 L484.9 154.7 L485 154.8 L485.2 154.9 L485.2 155 L485.4 155.1 L485.5 155.2 L485.7 155.3 L485.7 155.4 L485.9 155.6 L486 155.6 L486.1 155.8 L486.2 155.9 L486.3 156.1 L486.4 156.2 L486.5 156.3 L486.6 156.4 L486.7 156.6 L486.8 156.7 L486.9 156.9 L486.9 157 L487 157.1 L487.1 157.3 L487.1 157.4 L487.2 157.6 L487.3 157.7 L487.3 157.9 L487.3 158 L487.4 158.2 L487.4 158.3 L487.5 158.4 L487.5 158.5 L487.5 158.7 L487.5 158.8 L487.5 159 L487.5 159.1 L487.5 159.3 L487.5 159.4 L487.5 159.6 L487.5 159.7 L487.5 159.7 L487.5 159.9 L487.5 160.1 L487.5 160.4 L487.6 160.6 L487.6 160.7" fill="none" stroke="#111" stroke-width="1" />
<path d="M503.9 151 L504 150.9 L504.1 150.9 L504.3 150.9 L504.4 150.9 L504.6 151 L504.7 151 L504.9 151 L504.9 151 L505.1 151 L505.2 151.1 L505.4 151.1 L505.5 151.1 L505.6 151.2 L505.7 151.2 L505.9 151.3 L506 151.4 L506.1 151.4 L506.2 151.5 L506.3 151.6 L506.4 151.7 L506.6 151.8 L506.7 151.8 L506.8 151.9 L506.9 152 L506.9 152.1 L507 152.2 L507.1 152.3 L507.2 152.5 L507.3 152.5 L507.4 152.7 L507.4 152.8 L507.5 152.9 L507.6 153 L507.6 153" fill="none" stroke="#111" stroke-width="1" />
<path d="M500.2 123.7 L500 124 L499.9 124.1 L499.2 125 L499.2 125.1 L498.4 126 L498.4 126 L497.6 126.8 L497.5 126.9 L496.7 127.7 L496.7 127.7 L495.8 128.4 L495.7 128.4 L494.9 129.1 L494.8 129.1 L493.9 129.6 L493.8 129.7 L492.9 130.2 L492.8 130.2 L491.8 130.6 L491.8 130.6 L490.8 130.9 L490.7 130.9 L489.7 131.2 L489.6 131.2 L488.6 131.4 L488.5 131.4 L487.5 131.4 L487.4 131.5 L486.3 131.5 L486.3 131.5 L485.2 131.4 L485.1 131.4 L484.9 131.4 L484.8 131.4 L484.6 131.6 L484.5 131.7 L484.4 131.9 L484.3 132.2 L484.3 132.4 L484.3 153.4" fill="none" stroke="#111" stroke-width="1" />
<path d="M482.2 46.9 L482 47 L481.9 47.1 L481.7 47.3 L481.6 47.5 L481.6 47.7 L481.6 48 L481.6 68.9 L481.6 69.2 L481.6 69.4 L481.7 69.7 L481.9 69.9 L482 70.1 L482.2 70.3 L482.4 70.4 L482.4 70.4 L483.5 70.9 L483.6 70.9 L484.6 71.4 L484.7 71.5 L485.8 72.1 L485.8 72.1 L486.9 72.8 L486.9 72.9 L487.9 73.6 L488 73.7 L489 74.5 L489.1 74.5 L490.1 75.4 L490.1 75.5 L491.1 76.4 L491.1 76.5 L492 77.5 L492.1 77.6 L493 78.7 L493.1 78.7 L493.9 79.9 L494 79.9 L494.8 81.1 L494.8 81.2 L495.6 82.4 L495.7 82.5 L496.4 83.8 L496.5 83.8 L497.2 85.2 L497.2 85.2 L497.9 86.6 L497.9 86.7 L498 86.9 L498.2 87.1 L498.4 87.2 L498.6 87.3 L498.8 87.4 L498.9 87.4 L499.1 87.3 L512.2 80.2 L512.4 80.1 L512.5 79.9 L512.6 79.7 L512.7 79.4 L512.7 79.2 L512.7 78.9 L512.7 78.9 L512.7 78.6 L512.6 78.5 L512.6 78.2 L512.6 78.1 L512.6 77.8 L512.6 77.7 L512.6 77.4 L512.6 77.3 L512.6 77.1 L512.6 77 L512.6 76.7 L512.6 76.6 L512.6 76.4 L512.7 76.3 L512.7 76.1 L512.7 76 L512.8 75.8 L512.8 75.7 L512.8 75.5 L512.9 75.4 L512.9 75.3 L513 75.2 L513 75 L513.1 74.9 L513.1 74.8 L513.2 74.7 L513.3 74.6 L513.4 74.5 L513.4 74.5 L513.5 74.4 L513.6 74.3 L513.7 74.3 L513.7 74.2 L513.9 74.2 L513.9 74.1 L514 74.1 L514.1 74.1 L514.1 74.1 L514.3 74 L514.4 73.9 L514.5 73.8 L514.6 73.6 L514.7 73.4 L514.7 73.1 L514.7 72.9 L514.7 72.7 L514.6 72.4 L514.5 72.2 L514.3 71.7 L514.3 71.7 L513.4 69.9 L513.4 69.8 L512.4 68 L512.4 68 L511.4 66.3 L511.3 66.2 L510.3 64.5 L510.3 64.5 L509.2 62.8 L509.1 62.8 L508 61.1 L508 61.1 L506.9 59.5 L506.8 59.5 L506.5 59.1 L506.4 59 L506.2 58.8 L506.1 58.7 L505.9 58.7 L505.7 58.7 L505.5 58.8 L505.4 58.9 L505.3 59 L505.2 59.2 L505.1 59.3 L505.1 59.3 L505.1 59.5 L505 59.6 L505 59.7 L504.9 59.8 L504.9 59.9 L504.8 60 L504.8 60.1 L504.7 60.2 L504.6 60.3 L504.5 60.4 L504.5 60.4 L504.4 60.5 L504.3 60.6 L504.2 60.6 L504.1 60.7 L504 60.7 L503.9 60.8 L503.8 60.8 L503.7 60.8 L503.6 60.9 L503.5 60.9 L503.4 60.9 L503.2 60.9 L503.1 60.9 L503 60.9 L502.9 60.9 L502.7 60.9 L502.6 60.8 L502.5 60.8 L502.4 60.8 L502.2 60.7 L502.1 60.7 L501.9 60.6 L501.8 60.6 L501.6 60.5 L501.6 60.5 L501.3 60.4 L501.3 60.3 L501.1 60.2 L501 60.2 L500.8 60 L500.7 60 L500.5 59.8 L500.4 59.8 L500.2 59.6 L500.2 59.6 L499.9 59.4 L499.9 59.3 L499.7 59.1 L499.6 59.1 L499.4 58.8 L499.3 58.8 L499.1 58.6 L499.1 58.5 L498.9 58.3 L498.8 58.2 L498.6 58 L498.6 57.9 L498.4 57.6 L498.3 57.6 L498.2 57.3 L498.1 57.2 L497.9 57 L497.9 56.9 L497.7 56.6 L497.7 56.6 L497.6 56.3 L497.5 56.2 L497.4 55.9 L497.3 55.8 L497.2 55.6 L497.2 55.5 L497.1 55.2 L497.1 55.1 L497 54.9 L496.9 54.8 L496.9 54.6 L496.8 54.4 L496.8 54.2 L496.7 54.1 L496.7 53.9 L496.7 53.7 L496.6 53.6 L496.6 53.4 L496.6 53.2 L496.6 53.1 L496.6 52.9 L496.6 52.8 L496.6 52.6 L496.6 52.5 L496.6 52.3 L496.6 52.2 L496.6 52.1 L496.6 51.9 L496.7 51.8 L496.7 51.6 L496.7 51.6 L496.8 51.4 L496.8 51.3 L496.9 51.2 L496.9 51.1 L497 51 L497.1 50.9 L497.1 50.9 L497.1 50.8 L497.2 50.6 L497.3 50.3 L497.3 50.1 L497.3 49.8 L497.2 49.6 L497.1 49.4 L497 49.1 L496.9 49 L496.7 48.8 L496.4 48.5 L496.4 48.5 L495 47.4 L494.9 47.4 L493.5 46.4 L493.5 46.4 L492.1 45.4 L492.1 45.4 L490.6 44.5 L490.6 44.5 L489.1 43.6 L489.1 43.6 L487.7 42.9 L487.6 42.9 L486.2 42.2 L486.1 42.2 L485.8 42 L485.6 42 L485.4 41.9 L485.3 42 L485.1 42.1 L485 42.2 L484.9 42.4 L484.8 42.6 L484.7 42.8 L484.7 43 L484.7 43.2 L484.7 43.2 L484.8 43.4 L484.8 43.6 L484.8 43.7 L484.8 43.8 L484.8 43.9 L484.8 44.1 L484.8 44.2 L484.7 44.4 L484.7 44.5 L484.7 44.6 L484.6 44.7 L484.6 44.9 L484.6 45 L484.5 45.1 L484.5 45.2 L484.4 45.4 L484.3 45.5 L484.3 45.6 L484.2 45.7 L484.1 45.8 L484 45.9 L484 46 L483.8 46.1 L483.8 46.1 L483.7 46.2 L483.6 46.3 L483.4 46.4 L483.4 46.4 L483.2 46.5 L483.2 46.6 L483 46.7 L482.9 46.7 L482.7 46.8 L482.7 46.8 L482.5 46.8 L482.4 46.9 L482.2 46.9 L482.2 46.9Z" fill="none" stroke="#000" stroke-width="2" />
<path d="M484.9 47.5 L484.8 47.6 L484.6 47.7 L484.5 47.9 L484.4 48.1 L484.3 48.3 L484.3 48.6 L484.3 69.5 L484.3 69.8 L484.4 70 L484.5 70.3 L484.6 70.5 L484.8 70.7 L484.9 70.9 L485.1 71 L485.2 71 L486.3 71.5 L486.3 71.5 L487.4 72 L487.5 72.1 L488.5 72.7 L488.6 72.7 L489.6 73.4 L489.7 73.5 L490.7 74.2 L490.8 74.3 L491.8 75.1 L491.8 75.1 L492.8 76 L492.9 76.1 L493.8 77 L493.9 77.1 L494.8 78.1 L494.9 78.2 L495.7 79.3 L495.8 79.3 L496.7 80.5 L496.7 80.5 L497.5 81.7 L497.6 81.8 L498.4 83 L498.4 83.1 L499.2 84.4 L499.2 84.4 L499.9 85.8 L500 85.8 L500.2 86.4" fill="none" stroke="#111" stroke-width="1" />
<path d="M507.5 60.7 L507.4 60.8 L507.4 60.9 L507.3 61 L507.2 61 L507.1 61.1 L507 61.2 L506.9 61.2 L506.9 61.3 L506.8 61.3 L506.7 61.4 L506.6 61.4 L506.4 61.4 L506.3 61.5 L506.2 61.5 L506.1 61.5 L506 61.5 L505.9 61.5 L505.7 61.5 L505.6 61.5 L505.5 61.5 L505.4 61.4 L505.2 61.4 L505.1 61.4 L504.9 61.3 L504.9 61.3 L504.7 61.2 L504.6 61.2 L504.4 61.1 L504.3 61.1 L504.1 61" fill="none" stroke="#111" stroke-width="1" />
<path d="M487.6 43.1 L487.5 43.2 L487.5 43.4 L487.5 43.6 L487.5 43.8 L487.5 43.8 L487.5 44 L487.5 44.2 L487.5 44.3 L487.5 44.4 L487.5 44.5 L487.5 44.7 L487.5 44.8 L487.5 45 L487.5 45.1 L487.4 45.2 L487.4 45.3 L487.3 45.5 L487.3 45.6 L487.3 45.7 L487.2 45.8 L487.1 46 L487.1 46.1 L487 46.2 L486.9 46.3 L486.9 46.4 L486.8 46.5 L486.7 46.6 L486.6 46.7 L486.5 46.7 L486.4 46.8 L486.3 46.9 L486.2 47 L486.1 47 L486 47.1 L485.9 47.2 L485.7 47.3 L485.7 47.3 L485.5 47.4 L485.4 47.4 L485.2 47.4 L485.2 47.5 L485 47.5 L484.9 47.5" fill="none" stroke="#111" stroke-width="1" />
<path d="M446.1 125.9 L445.9 126 L445.8 126.1 L445.7 126.2 L445.6 126.4 L445.5 126.6 L445.5 126.9 L445.5 127.1 L445.5 127.3 L445.6 127.6 L445.7 127.8 L445.9 128.3 L445.9 128.3 L446.8 130.1 L446.8 130.2 L447.8 132 L447.8 132 L448.8 133.7 L448.9 133.8 L449.9 135.5 L449.9 135.5 L451 137.2 L451.1 137.2 L452.2 138.9 L452.2 138.9 L453.3 140.5 L453.4 140.5 L453.7 140.9 L453.8 141 L454 141.2 L454.1 141.3 L454.3 141.3 L454.5 141.3 L454.7 141.2 L454.8 141.1 L454.9 141 L455 140.8 L455.1 140.7 L455.1 140.7 L455.1 140.5 L455.2 140.4 L455.2 140.3 L455.3 140.2 L455.3 140.1 L455.4 140 L455.4 139.9 L455.5 139.8 L455.6 139.7 L455.7 139.6 L455.7 139.6 L455.8 139.5 L455.9 139.4 L456 139.4 L456.1 139.3 L456.2 139.3 L456.3 139.2 L456.4 139.2 L456.5 139.2 L456.6 139.1 L456.7 139.1 L456.8 139.1 L457 139.1 L457.1 139.1 L457.2 139.1 L457.3 139.1 L457.5 139.1 L457.6 139.2 L457.7 139.2 L457.8 139.2 L458 139.3 L458.1 139.3 L458.3 139.4 L458.4 139.4 L458.6 139.5 L458.6 139.5 L458.9 139.6 L458.9 139.7 L459.1 139.8 L459.2 139.8 L459.4 140 L459.5 140 L459.7 140.2 L459.8 140.2 L460 140.4 L460 140.4 L460.3 140.6 L460.3 140.7 L460.5 140.9 L460.6 140.9 L460.8 141.2 L460.9 141.2 L461.1 141.4 L461.1 141.5 L461.3 141.7 L461.4 141.8 L461.6 142 L461.6 142.1 L461.8 142.4 L461.9 142.4 L462 142.7 L462.1 142.8 L462.3 143 L462.3 143.1 L462.5 143.4 L462.5 143.4 L462.6 143.7 L462.7 143.8 L462.8 144.1 L462.9 144.2 L463 144.4 L463 144.5 L463.1 144.8 L463.1 144.9 L463.2 145.1 L463.3 145.2 L463.3 145.4 L463.4 145.6 L463.4 145.8 L463.5 145.9 L463.5 146.1 L463.5 146.3 L463.6 146.4 L463.6 146.6 L463.6 146.8 L463.6 146.9 L463.6 147.1 L463.6 147.2 L463.6 147.4 L463.6 147.5 L463.6 147.7 L463.6 147.8 L463.6 147.9 L463.6 148.1 L463.5 148.2 L463.5 148.4 L463.5 148.4 L463.4 148.6 L463.4 148.7 L463.3 148.8 L463.3 148.9 L463.2 149 L463.1 149.1 L463.1 149.1 L463.1 149.2 L463 149.4 L462.9 149.7 L462.9 149.9 L462.9 150.2 L463 150.4 L463.1 150.6 L463.2 150.9 L463.3 151 L463.5 151.2 L463.8 151.5 L463.8 151.5 L465.2 152.6 L465.3 152.6 L466.7 153.6 L466.7 153.6 L468.1 154.6 L468.1 154.6 L469.6 155.5 L469.6 155.5 L471.1 156.4 L471.1 156.4 L472.5 157.1 L472.6 157.1 L474 157.8 L474.1 157.8 L474.4 158 L474.6 158 L474.8 158.1 L474.9 158 L475.1 157.9 L475.2 157.8 L475.3 157.6 L475.4 157.4 L475.5 157.2 L475.5 157 L475.5 156.8 L475.5 156.8 L475.4 156.6 L475.4 156.4 L475.4 156.3 L475.4 156.2 L475.4 156.1 L475.4 155.9 L475.4 155.8 L475.5 155.6 L475.5 155.5 L475.5 155.4 L475.6 155.3 L475.6 155.1 L475.6 155 L475.7 154.9 L475.7 154.8 L475.8 154.6 L475.9 154.5 L475.9 154.4 L476 154.3 L476.1 154.2 L476.2 154.1 L476.2 154 L476.4 153.9 L476.4 153.9 L476.5 153.8 L476.6 153.7 L476.8 153.6 L476.8 153.6 L477 153.5 L477 153.4 L477.2 153.3 L477.3 153.3 L477.5 153.2 L477.5 153.2 L477.7 153.2 L477.8 153.1 L478 153.1 L478 153.1 L478.2 153 L478.3 152.9 L478.5 152.7 L478.6 152.5 L478.6 152.3 L478.6 152 L478.6 131.1 L478.6 130.8 L478.6 130.6 L478.5 130.3 L478.3 130.1 L478.2 129.9 L478 129.7 L477.8 129.6 L477.8 129.6 L476.7 129.1 L476.6 129.1 L475.6 128.6 L475.5 128.5 L474.4 127.9 L474.4 127.9 L473.3 127.2 L473.3 127.1 L472.3 126.4 L472.2 126.3 L471.2 125.5 L471.1 125.5 L470.1 124.6 L470.1 124.5 L469.1 123.6 L469.1 123.5 L468.2 122.5 L468.1 122.4 L467.2 121.3 L467.1 121.3 L466.3 120.1 L466.2 120.1 L465.4 118.9 L465.4 118.8 L464.6 117.6 L464.5 117.5 L463.8 116.2 L463.7 116.2 L463 114.8 L463 114.8 L462.3 113.4 L462.3 113.3 L462.2 113.1 L462 112.9 L461.8 112.8 L461.6 112.7 L461.4 112.6 L461.3 112.6 L461.1 112.7 L448 119.8 L447.8 119.9 L447.7 120.1 L447.6 120.3 L447.5 120.6 L447.5 120.8 L447.5 121.1 L447.5 121.1 L447.5 121.4 L447.6 121.5 L447.6 121.8 L447.6 121.9 L447.6 122.2 L447.6 122.3 L447.6 122.6 L447.6 122.7 L447.6 122.9 L447.6 123 L447.6 123.3 L447.6 123.4 L447.6 123.6 L447.5 123.7 L447.5 123.9 L447.5 124 L447.4 124.2 L447.4 124.3 L447.4 124.5 L447.3 124.6 L447.3 124.7 L447.2 124.8 L447.2 125 L447.1 125.1 L447.1 125.2 L447 125.3 L446.9 125.4 L446.8 125.5 L446.8 125.5 L446.7 125.6 L446.6 125.7 L446.5 125.7 L446.5 125.8 L446.3 125.8 L446.3 125.9 L446.2 125.9 L446.1 125.9 L446.1 125.9Z" fill="none" stroke="#000" stroke-width="2" />
<path d="M448.8 126.5 L448.7 126.6 L448.5 126.7 L448.4 126.8 L448.3 127 L448.3 127.2 L448.2 127.5 L448.2 127.7 L448.3 127.9 L448.3 128.2 L448.4 128.4 L448.6 128.9 L448.6 128.9 L449.6 130.7 L449.6 130.8 L450.6 132.6 L450.6 132.6 L451.6 134.3 L451.6 134.4 L452.7 136.1 L452.7 136.1 L453.8 137.8 L453.8 137.8 L454.9 139.5 L454.9 139.5 L455.2 139.9" fill="none" stroke="#111" stroke-width="1" />
<path d="M459.5 139.7 L459.5 139.7 L459.6 139.7 L459.7 139.7 L459.8 139.7 L460 139.7 L460.1 139.7 L460.2 139.7 L460.3 139.8 L460.5 139.8 L460.6 139.8 L460.8 139.9 L460.8 139.9 L461 140 L461.1 140 L461.3 140.1 L461.4 140.1 L461.6 140.2 L461.7 140.3 L461.9 140.4 L462 140.4 L462.2 140.6 L462.2 140.6 L462.5 140.8 L462.5 140.8 L462.7 141 L462.8 141 L463 141.2 L463.1 141.3 L463.3 141.5 L463.4 141.5 L463.6 141.8 L463.6 141.8 L463.8 142 L463.9 142.1 L464.1 142.3 L464.1 142.4 L464.3 142.6 L464.4 142.7 L464.6 143 L464.6 143 L464.8 143.3 L464.8 143.4 L465 143.6 L465 143.7 L465.2 144 L465.2 144 L465.4 144.3 L465.4 144.4 L465.6 144.7 L465.6 144.8 L465.7 145 L465.8 145.1 L465.9 145.4 L465.9 145.5 L466 145.7 L466 145.8 L466.1 146 L466.1 146.2 L466.2 146.4 L466.2 146.5 L466.3 146.7 L466.3 146.9 L466.3 147 L466.3 147.2 L466.4 147.4 L466.4 147.5 L466.4 147.7 L466.4 147.8 L466.4 148 L466.4 148.1 L466.4 148.3 L466.4 148.4 L466.3 148.5 L466.3 148.7 L466.3 148.8 L466.2 149 L466.2 149 L466.2 149.2 L466.1 149.3 L466.1 149.4 L466 149.5 L465.9 149.6 L465.9 149.7 L465.9 149.7 L465.8 149.8 L465.7 150 L465.7 150.3 L465.7 150.5 L465.7 150.8 L465.8 151 L465.8 151.2 L466 151.5 L466.1 151.6 L466.2 151.8 L466.6 152.1 L466.6 152.1 L468 153.2 L468 153.2 L469.4 154.2 L469.4 154.2 L470.9 155.2 L470.9 155.2 L472.3 156.1 L472.4 156.1 L473.8 157 L473.8 157 L475.1 157.6" fill="none" stroke="#111" stroke-width="1" />
<path d="M462.4 114 L450.7 120.4 L450.5 120.5 L450.4 120.7 L450.3 120.9 L450.3 121.2 L450.2 121.4 L450.3 121.7 L450.3 121.7 L450.3 122 L450.3 122.1 L450.3 122.4 L450.3 122.5 L450.4 122.8 L450.4 122.9 L450.4 123.2 L450.4 123.3 L450.4 123.5 L450.4 123.6 L450.3 123.9 L450.3 124 L450.3 124.2 L450.3 124.3 L450.3 124.5 L450.2 124.6 L450.2 124.8 L450.2 124.9 L450.1 125.1 L450.1 125.2 L450 125.3 L450 125.4 L449.9 125.6 L449.9 125.7 L449.8 125.8 L449.7 125.9 L449.7 126 L449.6 126.1 L449.5 126.1 L449.4 126.2 L449.4 126.3 L449.3 126.3 L449.2 126.4 L449.1 126.4 L449 126.5 L448.9 126.5 L448.8 126.5 L448.8 126.5" fill="none" stroke="#111" stroke-width="1" />
<path d="M445.7 54.8 L445.6 55 L445.5 55.2 L445.5 55.4 L445.5 55.7 L445.5 55.9 L445.6 56.2 L445.7 56.4 L445.8 56.6 L445.9 56.8 L446.1 56.9 L446.1 56.9 L446.2 57 L446.3 57.1 L446.3 57.1 L446.5 57.3 L446.5 57.3 L446.6 57.5 L446.7 57.5 L446.8 57.7 L446.8 57.8 L446.9 57.9 L447 58 L447.1 58.2 L447.1 58.3 L447.2 58.4 L447.2 58.6 L447.3 58.7 L447.3 58.9 L447.4 59 L447.4 59.2 L447.4 59.3 L447.5 59.5 L447.5 59.7 L447.5 59.9 L447.6 60 L447.6 60.2 L447.6 60.4 L447.6 60.6 L447.6 60.7 L447.6 61 L447.6 61.1 L447.6 61.3 L447.6 61.4 L447.6 61.7 L447.6 61.8 L447.6 62.1 L447.5 62.2 L447.5 62.5 L447.5 62.5 L447.5 62.7 L447.5 63 L447.6 63.3 L447.7 63.5 L447.8 63.8 L448 64 L461.1 77.7 L461.3 77.9 L461.4 78 L461.6 78 L461.8 78 L462 78 L462.2 77.8 L462.3 77.7 L462.3 77.6 L463 76.6 L463 76.5 L463.7 75.6 L463.8 75.5 L464.5 74.6 L464.6 74.6 L465.4 73.8 L465.4 73.7 L466.2 72.9 L466.3 72.9 L467.1 72.2 L467.2 72.2 L468.1 71.5 L468.2 71.5 L469.1 71 L469.1 70.9 L470.1 70.4 L470.1 70.4 L471.1 70 L471.2 70 L472.2 69.7 L472.3 69.7 L473.3 69.4 L473.3 69.4 L474.4 69.2 L474.4 69.2 L475.5 69.2 L475.6 69.1 L476.6 69.1 L476.7 69.1 L477.8 69.2 L477.8 69.2 L478 69.2 L478.2 69.2 L478.3 69 L478.5 68.9 L478.6 68.7 L478.6 68.4 L478.6 68.2 L478.6 47.2 L478.6 47 L478.6 46.7 L478.5 46.4 L478.3 46.2 L478.2 46 L478 45.9 L478 45.8 L477.8 45.7 L477.7 45.6 L477.5 45.5 L477.5 45.4 L477.3 45.3 L477.2 45.2 L477 45 L477 45 L476.8 44.8 L476.8 44.7 L476.6 44.5 L476.5 44.4 L476.4 44.3 L476.4 44.2 L476.2 44 L476.2 43.9 L476.1 43.7 L476 43.6 L475.9 43.5 L475.9 43.3 L475.8 43.2 L475.7 43 L475.7 42.9 L475.6 42.7 L475.6 42.6 L475.6 42.4 L475.5 42.3 L475.5 42.2 L475.5 42.1 L475.4 41.9 L475.4 41.8 L475.4 41.6 L475.4 41.5 L475.4 41.3 L475.4 41.2 L475.4 41 L475.5 40.9 L475.5 40.9 L475.5 40.7 L475.5 40.5 L475.4 40.2 L475.3 40 L475.2 39.7 L475.1 39.6 L474.9 39.4 L474.8 39.3 L474.6 39.2 L474.4 39.1 L474.1 39.1 L474 39.1 L472.6 39.1 L472.5 39.1 L471.1 39.1 L471.1 39.1 L469.6 39.2 L469.6 39.2 L468.1 39.4 L468.1 39.4 L466.7 39.6 L466.7 39.6 L465.3 39.9 L465.2 39.9 L463.8 40.3 L463.8 40.3 L463.5 40.4 L463.3 40.5 L463.2 40.6 L463.1 40.8 L463 41 L462.9 41.2 L462.9 41.4 L462.9 41.7 L463 41.9 L463.1 42.2 L463.1 42.4 L463.1 42.4 L463.2 42.5 L463.3 42.6 L463.3 42.7 L463.4 42.9 L463.4 43 L463.5 43.2 L463.5 43.3 L463.5 43.5 L463.6 43.6 L463.6 43.7 L463.6 43.9 L463.6 44 L463.6 44.2 L463.6 44.3 L463.6 44.5 L463.6 44.6 L463.6 44.8 L463.6 44.9 L463.6 45.1 L463.6 45.2 L463.5 45.4 L463.5 45.5 L463.5 45.7 L463.4 45.8 L463.4 46 L463.3 46.1 L463.3 46.3 L463.2 46.4 L463.1 46.6 L463.1 46.7 L463 46.9 L463 47 L462.9 47.2 L462.8 47.2 L462.7 47.4 L462.6 47.5 L462.5 47.7 L462.5 47.7 L462.3 47.9 L462.3 48 L462.1 48.1 L462 48.2 L461.9 48.4 L461.8 48.4 L461.6 48.6 L461.6 48.6 L461.4 48.8 L461.3 48.8 L461.1 48.9 L461.1 49 L460.9 49.1 L460.8 49.1 L460.6 49.2 L460.5 49.2 L460.3 49.3 L460.3 49.4 L460 49.4 L460 49.5 L459.8 49.5 L459.7 49.5 L459.5 49.6 L459.4 49.6 L459.2 49.6 L459.1 49.6 L458.9 49.7 L458.9 49.7 L458.6 49.7 L458.6 49.7 L458.4 49.6 L458.3 49.6 L458.1 49.6 L458 49.6 L457.8 49.6 L457.7 49.5 L457.6 49.5 L457.5 49.5 L457.3 49.4 L457.2 49.4 L457.1 49.3 L457 49.2 L456.8 49.2 L456.7 49.1 L456.6 49 L456.5 48.9 L456.4 48.8 L456.3 48.8 L456.2 48.7 L456.1 48.6 L456 48.5 L455.9 48.4 L455.8 48.3 L455.7 48.1 L455.7 48.1 L455.6 47.9 L455.5 47.8 L455.4 47.7 L455.4 47.6 L455.3 47.4 L455.3 47.3 L455.2 47.1 L455.2 47 L455.1 46.9 L455.1 46.7 L455.1 46.7 L455 46.5 L454.9 46.3 L454.8 46.1 L454.7 45.9 L454.5 45.8 L454.3 45.7 L454.1 45.7 L454 45.7 L453.8 45.7 L453.7 45.8 L453.4 46 L453.3 46 L452.2 47 L452.2 47 L451.1 48.1 L451 48.1 L449.9 49.3 L449.9 49.3 L448.9 50.5 L448.8 50.5 L447.8 51.7 L447.8 51.8 L446.8 53.1 L446.8 53.1 L445.9 54.4 L445.9 54.5 L445.7 54.8Z" fill="none" stroke="#000" stroke-width="2" />
<path d="M448.4 55.4 L448.3 55.6 L448.3 55.8 L448.2 56 L448.2 56.3 L448.3 56.5 L448.3 56.8 L448.4 57 L448.5 57.2 L448.7 57.4 L448.8 57.5 L448.8 57.5 L448.9 57.6 L449 57.7 L449.1 57.7 L449.2 57.9 L449.3 57.9 L449.4 58.1 L449.4 58.1 L449.5 58.3 L449.6 58.4 L449.7 58.5 L449.7 58.6 L449.8 58.8 L449.9 58.9 L449.9 59 L450 59.2 L450 59.3 L450.1 59.5 L450.1 59.6 L450.2 59.8 L450.2 59.9 L450.2 60.1 L450.3 60.3 L450.3 60.5 L450.3 60.6 L450.3 60.8 L450.3 61 L450.4 61.2 L450.4 61.3 L450.4 61.6 L450.4 61.7 L450.4 61.9 L450.4 62 L450.3 62.3 L450.3 62.4 L450.3 62.7 L450.3 62.8 L450.3 63.1 L450.3 63.1 L450.2 63.3 L450.3 63.6 L450.3 63.9 L450.4 64.1 L450.5 64.4 L450.7 64.6 L462.5 76.9" fill="none" stroke="#111" stroke-width="1" />
<path d="M474.9 39.7 L473.8 39.7 L473.8 39.7 L472.4 39.8 L472.3 39.8 L470.9 40 L470.9 40 L469.4 40.2 L469.4 40.2 L468 40.5 L468 40.5 L466.6 40.9 L466.6 40.9 L466.2 41 L466.1 41.1 L466 41.2 L465.8 41.4 L465.8 41.6 L465.7 41.8 L465.7 42 L465.7 42.3 L465.7 42.5 L465.8 42.8 L465.9 43 L465.9 43 L465.9 43.1 L466 43.2 L466.1 43.3 L466.1 43.5 L466.2 43.6 L466.2 43.8 L466.2 43.9 L466.3 44.1 L466.3 44.2 L466.3 44.3 L466.4 44.5 L466.4 44.6 L466.4 44.8 L466.4 44.9 L466.4 45.1 L466.4 45.2 L466.4 45.4 L466.4 45.5 L466.3 45.7 L466.3 45.8 L466.3 46 L466.3 46.1 L466.2 46.3 L466.2 46.4 L466.1 46.6 L466.1 46.7 L466 46.9 L466 47 L465.9 47.2 L465.9 47.3 L465.8 47.5 L465.7 47.6 L465.6 47.8 L465.6 47.8 L465.4 48 L465.4 48.1 L465.2 48.3 L465.2 48.3 L465 48.5 L465 48.6 L464.8 48.7 L464.8 48.8 L464.6 49 L464.6 49 L464.4 49.2 L464.3 49.2 L464.1 49.4 L464.1 49.4 L463.9 49.5 L463.8 49.6 L463.6 49.7 L463.6 49.7 L463.4 49.8 L463.3 49.8 L463.1 49.9 L463 50 L462.8 50 L462.7 50.1 L462.5 50.1 L462.5 50.1 L462.2 50.2 L462.2 50.2 L462 50.2 L461.9 50.2 L461.7 50.3 L461.6 50.3 L461.4 50.3 L461.3 50.3 L461.1 50.2 L461 50.2 L460.8 50.2 L460.8 50.2 L460.6 50.2 L460.5 50.1 L460.3 50.1 L460.2 50.1 L460.1 50 L460 50 L459.8 49.9 L459.7 49.8 L459.7 49.8" fill="none" stroke="#111" stroke-width="1" />
<path d="M455.1 47.5 L454.9 47.6 L454.9 47.6 L453.8 48.7 L453.8 48.7 L452.7 49.9 L452.7 49.9 L451.6 51.1 L451.6 51.1 L450.6 52.3 L450.6 52.4 L449.6 53.7 L449.6 53.7 L448.6 55 L448.6 55.1 L448.4 55.4" fill="none" stroke="#111" stroke-width="1" />
<path d="M437 81.3 L437 81.5 L437.1 81.8 L437.1 82 L437.2 82.3 L437.3 82.5 L437.5 82.7 L437.6 82.8 L437.8 82.9 L438 83 L438.1 83 L438.1 83 L438.2 83 L438.4 83 L438.4 83 L438.6 83.1 L438.6 83.1 L438.8 83.1 L438.8 83.2 L439 83.2 L439 83.3 L439.2 83.4 L439.2 83.4 L439.4 83.5 L439.4 83.6 L439.5 83.7 L439.6 83.8 L439.7 83.9 L439.8 84 L439.9 84.1 L440 84.2 L440.1 84.4 L440.2 84.5 L440.2 84.6 L440.3 84.8 L440.4 84.9 L440.5 85.1 L440.6 85.2 L440.7 85.4 L440.7 85.5 L440.8 85.8 L440.8 85.9 L440.9 86.1 L441 86.2 L441 86.5 L441.1 86.6 L441.2 86.9 L441.2 87 L441.3 87.3 L441.3 87.4 L441.3 87.7 L441.4 87.8 L441.4 88.1 L441.4 88.2 L441.5 88.5 L441.5 88.6 L441.5 89 L441.5 89.1 L441.6 89.4 L441.6 89.5 L441.6 89.8 L441.6 89.9 L441.6 90.2 L441.6 90.3 L441.6 90.7 L441.6 90.8 L441.6 91.1 L441.6 91.2 L441.5 91.5 L441.5 91.6 L441.5 91.9 L441.5 92 L441.4 92.3 L441.4 92.4 L441.4 92.7 L441.3 92.7 L441.3 93 L441.3 93.1 L441.2 93.4 L441.2 93.5 L441.1 93.7 L441 93.8 L441 94 L440.9 94.1 L440.8 94.3 L440.8 94.4 L440.7 94.6 L440.7 94.7 L440.6 94.8 L440.5 94.9 L440.4 95.1 L440.3 95.1 L440.2 95.3 L440.2 95.4 L440.1 95.5 L440 95.5 L439.9 95.6 L439.8 95.7 L439.7 95.7 L439.6 95.8 L439.5 95.8 L439.4 95.9 L439.4 95.9 L439.2 96 L439.2 96 L439 96 L439 96 L438.8 96 L438.8 96 L438.6 96 L438.6 96 L438.4 95.9 L438.4 95.9 L438.2 95.9 L438.1 95.8 L438.1 95.8 L438 95.8 L437.8 95.8 L437.6 95.8 L437.5 95.8 L437.3 96 L437.2 96.1 L437.1 96.3 L437.1 96.5 L437 96.7 L437 97 L437.1 97.5 L437.1 97.5 L437.3 99.6 L437.3 99.6 L437.6 101.7 L437.6 101.8 L438 103.9 L438 103.9 L438.3 106 L438.4 106 L438.8 108.1 L438.8 108.1 L439.3 110.2 L439.3 110.2 L439.8 112.3 L439.8 112.3 L440 112.8 L440.1 113 L440.2 113.3 L440.3 113.4 L440.5 113.6 L440.6 113.7 L440.8 113.8 L441 113.8 L441.2 113.8 L441.3 113.7 L441.4 113.7 L441.4 113.7 L441.5 113.6 L441.6 113.5 L441.7 113.5 L441.8 113.4 L441.8 113.4 L442 113.3 L442 113.3 L442.2 113.3 L442.2 113.3 L442.4 113.3 L442.4 113.3 L442.6 113.3 L442.7 113.3 L442.8 113.3 L442.9 113.3 L443 113.4 L443.1 113.4 L443.2 113.5 L443.3 113.5 L443.4 113.6 L443.6 113.7 L443.7 113.7 L443.8 113.8 L443.9 113.9 L444 114 L444.1 114.1 L444.3 114.2 L444.3 114.3 L444.5 114.4 L444.6 114.5 L444.7 114.7 L444.8 114.7 L445 114.9 L445 115 L445.2 115.2 L445.2 115.3 L445.4 115.6 L445.4 115.6 L445.6 115.8 L445.7 115.9 L445.9 116 L446.1 116.1 L446.3 116.1 L446.5 116 L459.6 108.8 L459.8 108.7 L459.9 108.6 L460 108.3 L460.1 108.1 L460.1 107.8 L460.1 107.6 L460 107.3 L460 107.2 L459.6 105.8 L459.6 105.7 L459.2 104.2 L459.2 104.1 L458.9 102.6 L458.8 102.4 L458.6 100.9 L458.6 100.8 L458.4 99.3 L458.4 99.2 L458.2 97.7 L458.2 97.6 L458.1 96.1 L458.1 96 L458.1 94.5 L458.1 94.4 L458.1 92.9 L458.1 92.8 L458.2 91.4 L458.2 91.3 L458.4 89.8 L458.4 89.7 L458.6 88.3 L458.6 88.2 L458.8 86.8 L458.9 86.7 L459.2 85.4 L459.2 85.3 L459.6 84 L459.6 83.9 L460 82.6 L460 82.6 L460.1 82.3 L460.1 82.1 L460.1 81.8 L460 81.5 L459.9 81.3 L459.8 81 L459.6 80.8 L446.5 67.1 L446.3 66.9 L446.1 66.8 L445.9 66.8 L445.7 66.8 L445.6 66.8 L445.4 67 L445.4 67 L445.2 67.1 L445.2 67.2 L445 67.3 L445 67.3 L444.8 67.5 L444.7 67.5 L444.6 67.6 L444.5 67.6 L444.3 67.7 L444.3 67.7 L444.1 67.8 L444 67.8 L443.9 67.9 L443.8 67.9 L443.7 67.9 L443.6 67.9 L443.4 67.9 L443.3 67.9 L443.2 67.9 L443.1 67.9 L443 67.9 L442.9 67.9 L442.8 67.9 L442.7 67.8 L442.6 67.8 L442.4 67.7 L442.4 67.7 L442.2 67.6 L442.2 67.6 L442 67.5 L442 67.4 L441.8 67.3 L441.8 67.3 L441.7 67.1 L441.6 67.1 L441.5 66.9 L441.4 66.8 L441.4 66.8 L441.3 66.7 L441.2 66.5 L441 66.4 L440.8 66.4 L440.6 66.4 L440.5 66.4 L440.3 66.5 L440.2 66.6 L440.1 66.8 L440 67 L439.8 67.4 L439.8 67.4 L439.3 69.2 L439.3 69.2 L438.8 71 L438.8 71.1 L438.4 72.9 L438.3 73 L438 74.9 L438 74.9 L437.6 76.8 L437.6 76.8 L437.3 78.8 L437.3 78.8 L437.1 80.8 L437.1 80.8 L437 81.3Z" fill="none" stroke="#000" stroke-width="2" />
<path d="M439.8 81.9 L439.8 82.1 L439.8 82.4 L439.9 82.6 L440 82.9 L440.1 83.1 L440.2 83.3 L440.4 83.4 L440.6 83.5 L440.7 83.6 L440.9 83.6 L440.9 83.6 L441 83.6 L441.1 83.6 L441.2 83.6 L441.3 83.7 L441.4 83.7 L441.5 83.7 L441.6 83.8 L441.7 83.8 L441.8 83.9 L441.9 84 L442 84 L442.1 84.1 L442.2 84.2 L442.3 84.3 L442.4 84.4 L442.5 84.5 L442.6 84.6 L442.7 84.7 L442.7 84.8 L442.8 85 L442.9 85.1 L443 85.2 L443.1 85.4 L443.2 85.5 L443.3 85.7 L443.3 85.8 L443.4 86 L443.5 86.1 L443.5 86.4 L443.6 86.5 L443.7 86.7 L443.7 86.8 L443.8 87.1 L443.8 87.2 L443.9 87.5 L443.9 87.6 L444 87.9 L444 88 L444.1 88.3 L444.1 88.4 L444.2 88.7 L444.2 88.8 L444.2 89.1 L444.2 89.2 L444.3 89.6 L444.3 89.7 L444.3 90 L444.3 90.1 L444.3 90.4 L444.3 90.5 L444.3 90.8 L444.3 90.9 L444.3 91.3 L444.3 91.4 L444.3 91.7 L444.3 91.8 L444.3 92.1 L444.3 92.2 L444.2 92.5 L444.2 92.6 L444.2 92.9 L444.2 93 L444.1 93.3 L444.1 93.3 L444 93.6 L444 93.7 L443.9 94 L443.9 94.1 L443.8 94.3 L443.8 94.4 L443.7 94.6 L443.7 94.7 L443.6 94.9 L443.5 95 L443.5 95.2 L443.4 95.3 L443.3 95.4 L443.3 95.5 L443.2 95.7 L443.1 95.7 L443 95.9 L442.9 96 L442.8 96.1 L442.7 96.1 L442.7 96.2 L442.6 96.3 L442.5 96.3 L442.4 96.4 L442.3 96.4 L442.2 96.5 L442.1 96.5 L442 96.6 L441.9 96.6 L441.8 96.6 L441.7 96.6 L441.6 96.6 L441.5 96.6 L441.4 96.6 L441.3 96.6 L441.2 96.5 L441.1 96.5 L441 96.5 L440.9 96.4 L440.9 96.4 L440.7 96.4 L440.6 96.4 L440.4 96.4 L440.2 96.4 L440.1 96.6 L440 96.7 L439.9 96.9 L439.8 97.1 L439.8 97.3 L439.8 97.6 L439.8 98.1 L439.8 98.1 L440.1 100.2 L440.1 100.2 L440.4 102.3 L440.4 102.4 L440.7 104.5 L440.7 104.5 L441.1 106.6 L441.1 106.6 L441.5 108.7 L441.6 108.7 L442 110.8 L442 110.8 L442.6 112.9 L442.6 112.9 L442.6 113" fill="none" stroke="#111" stroke-width="1" />
<path d="M444.4 114.1 L444.5 114 L444.6 114 L444.7 113.9 L444.8 113.9 L444.9 113.9 L445 113.9 L445.1 113.9 L445.2 113.9 L445.3 113.9 L445.4 113.9 L445.5 113.9 L445.6 113.9 L445.7 114 L445.8 114 L446 114.1 L446.1 114.1 L446.2 114.2 L446.3 114.3 L446.4 114.3 L446.5 114.4 L446.6 114.5 L446.8 114.6 L446.9 114.7 L447 114.8 L447.1 114.9 L447.3 115 L447.3 115.1 L447.4 115.2" fill="none" stroke="#111" stroke-width="1" />
<path d="M447.3 68.2 L447.3 68.2 L447.1 68.3 L447 68.3 L446.9 68.4 L446.8 68.4 L446.6 68.5 L446.5 68.5 L446.4 68.5 L446.3 68.5 L446.2 68.5 L446.1 68.5 L446 68.5 L445.8 68.5 L445.7 68.5 L445.6 68.5 L445.5 68.5 L445.4 68.4 L445.3 68.4 L445.2 68.3 L445.1 68.3 L445 68.2 L444.9 68.2 L444.8 68.1 L444.7 68 L444.6 67.9 L444.6 67.9" fill="none" stroke="#111" stroke-width="1" />
<path d="M442.6 68 L442 69.8 L442 69.8 L441.6 71.6 L441.5 71.7 L441.1 73.5 L441.1 73.6 L440.7 75.5 L440.7 75.5 L440.4 77.4 L440.4 77.4 L440.1 79.4 L440.1 79.4 L439.8 81.4 L439.8 81.4 L439.8 81.9" fill="none" stroke="#111" stroke-width="1" />
<path d="M481.1 68.3 L481.1 45.8" fill="none" stroke="#000" stroke-width="4.2" stroke-linecap="butt"/>
<path d="M481.1 131.7 L481.1 154.2" fill="none" stroke="#000" stroke-width="4.2" stroke-linecap="butt"/>
<path d="M480.1 40.2 L480.5 40.4 L480.9 40.8 L481.3 41.2 L481.6 41.8 L481.7 42.4 L481.8 43 L481.7 43.6 L481.6 44.1 L481.3 44.5 L480.9 44.8 L480.5 44.9 L480.1 44.9 L479.7 44.7 L479.3 44.4 L478.9 43.9 L478.6 43.4 L478.5 42.8 L478.4 42.1 L478.5 41.6 L478.6 41 L478.9 40.6 L479.3 40.3 L479.7 40.2 L480.1 40.2Z" fill="#fff" stroke="#111" stroke-width="1.2" />
<path d="M500.9 53.2 L501.3 53.4 L501.7 53.7 L502.1 54.2 L502.4 54.7 L502.5 55.3 L502.6 55.9 L502.5 56.5 L502.4 57 L502.1 57.5 L501.7 57.7 L501.3 57.9 L500.9 57.8 L500.5 57.6 L500.1 57.3 L499.7 56.9 L499.4 56.3 L499.3 55.7 L499.2 55.1 L499.3 54.5 L499.4 54 L499.7 53.6 L500.1 53.3 L500.5 53.2 L500.9 53.2Z" fill="#fff" stroke="#111" stroke-width="1.2" />
<path d="M516.1 78 L516.6 78.2 L517 78.6 L517.3 79 L517.6 79.6 L517.8 80.2 L517.8 80.8 L517.8 81.4 L517.6 81.9 L517.3 82.3 L517 82.6 L516.6 82.7 L516.1 82.7 L515.7 82.5 L515.3 82.2 L514.9 81.7 L514.7 81.2 L514.5 80.6 L514.4 79.9 L514.5 79.4 L514.7 78.8 L514.9 78.4 L515.3 78.1 L515.7 78 L516.1 78Z" fill="#fff" stroke="#111" stroke-width="1.2" />
<path d="M521.7 108.2 L522.1 108.4 L522.5 108.7 L522.9 109.1 L523.2 109.7 L523.3 110.3 L523.4 110.9 L523.3 111.5 L523.2 112 L522.9 112.4 L522.5 112.7 L522.1 112.8 L521.7 112.8 L521.3 112.6 L520.9 112.3 L520.5 111.8 L520.2 111.3 L520.1 110.7 L520 110.1 L520.1 109.5 L520.2 109 L520.5 108.5 L520.9 108.3 L521.3 108.1 L521.7 108.2Z" fill="#fff" stroke="#111" stroke-width="1.2" />
<path d="M516.1 135.5 L516.6 135.7 L517 136 L517.3 136.5 L517.6 137 L517.8 137.6 L517.8 138.2 L517.8 138.8 L517.6 139.3 L517.3 139.7 L517 140 L516.6 140.2 L516.1 140.1 L515.7 139.9 L515.3 139.6 L514.9 139.1 L514.7 138.6 L514.5 138 L514.4 137.4 L514.5 136.8 L514.7 136.3 L514.9 135.9 L515.3 135.6 L515.7 135.4 L516.1 135.5Z" fill="#fff" stroke="#111" stroke-width="1.2" />
<path d="M500.9 152.7 L501.3 152.8 L501.7 153.2 L502.1 153.6 L502.4 154.2 L502.5 154.8 L502.6 155.4 L502.5 156 L502.4 156.5 L502.1 156.9 L501.7 157.2 L501.3 157.3 L500.9 157.3 L500.5 157.1 L500.1 156.8 L499.7 156.3 L499.4 155.8 L499.3 155.2 L499.2 154.6 L499.3 154 L499.4 153.4 L499.7 153 L500.1 152.8 L500.5 152.6 L500.9 152.7Z" fill="#fff" stroke="#111" stroke-width="1.2" />
<path d="M480.1 155.1 L480.5 155.3 L480.9 155.6 L481.3 156.1 L481.6 156.6 L481.7 157.2 L481.8 157.9 L481.7 158.4 L481.6 159 L481.3 159.4 L480.9 159.7 L480.5 159.8 L480.1 159.8 L479.7 159.6 L479.3 159.2 L478.9 158.8 L478.6 158.2 L478.5 157.6 L478.4 157 L478.5 156.4 L478.6 155.9 L478.9 155.5 L479.3 155.2 L479.7 155.1 L480.1 155.1Z" fill="#fff" stroke="#111" stroke-width="1.2" />
<path d="M459.3 142.2 L459.7 142.4 L460.1 142.7 L460.5 143.1 L460.8 143.7 L460.9 144.3 L461 144.9 L460.9 145.5 L460.8 146 L460.5 146.4 L460.1 146.7 L459.7 146.8 L459.3 146.8 L458.9 146.6 L458.5 146.3 L458.1 145.8 L457.8 145.3 L457.7 144.7 L457.6 144.1 L457.7 143.5 L457.8 143 L458.1 142.5 L458.5 142.3 L458.9 142.1 L459.3 142.2Z" fill="#fff" stroke="#111" stroke-width="1.2" />
<path d="M444.1 117.3 L444.5 117.5 L444.9 117.8 L445.3 118.3 L445.5 118.8 L445.7 119.4 L445.8 120.1 L445.7 120.6 L445.5 121.2 L445.3 121.6 L444.9 121.9 L444.5 122 L444.1 122 L443.6 121.8 L443.2 121.4 L442.9 121 L442.6 120.4 L442.4 119.8 L442.4 119.2 L442.4 118.6 L442.6 118.1 L442.9 117.7 L443.2 117.4 L443.6 117.3 L444.1 117.3Z" fill="#fff" stroke="#111" stroke-width="1.2" />
<path d="M438.5 87.2 L438.9 87.4 L439.3 87.7 L439.7 88.2 L440 88.7 L440.1 89.3 L440.2 89.9 L440.1 90.5 L440 91 L439.7 91.5 L439.3 91.7 L438.9 91.9 L438.5 91.8 L438.1 91.6 L437.7 91.3 L437.3 90.9 L437 90.3 L436.9 89.7 L436.8 89.1 L436.9 88.5 L437 88 L437.3 87.6 L437.7 87.3 L438.1 87.2 L438.5 87.2Z" fill="#fff" stroke="#111" stroke-width="1.2" />
<path d="M444.1 59.9 L444.5 60.1 L444.9 60.4 L445.3 60.9 L445.5 61.4 L445.7 62 L445.8 62.6 L445.7 63.2 L445.5 63.7 L445.3 64.1 L444.9 64.4 L444.5 64.6 L444.1 64.5 L443.6 64.3 L443.2 64 L442.9 63.5 L442.6 63 L442.4 62.4 L442.4 61.8 L442.4 61.2 L442.6 60.7 L442.9 60.3 L443.2 60 L443.6 59.8 L444.1 59.9Z" fill="#fff" stroke="#111" stroke-width="1.2" />
<path d="M459.3 42.7 L459.7 42.9 L460.1 43.2 L460.5 43.7 L460.8 44.2 L460.9 44.8 L461 45.4 L460.9 46 L460.8 46.6 L460.5 47 L460.1 47.2 L459.7 47.4 L459.3 47.3 L458.9 47.2 L458.5 46.8 L458.1 46.4 L457.8 45.8 L457.7 45.2 L457.6 44.6 L457.7 44 L457.8 43.5 L458.1 43.1 L458.5 42.8 L458.9 42.7 L459.3 42.7Z" fill="#fff" stroke="#111" stroke-width="1.2" />
<path d="M504.7 106.1 L504.6 108.8 L504.4 111.4 L504 113.9 L503.4 116.3 L502.6 118.6 L501.8 120.7 L500.7 122.7 L499.6 124.5 L498.3 126.2 L496.8 127.6 L495.3 128.8 L493.7 129.9 L492 130.7 L490.2 131.3 L488.4 131.6 L486.5 131.7 L484.6 131.6 L482.7 131.2 L480.8 130.6 L478.9 129.8 L477 128.7 L475.2 127.5 L473.4 126 L471.7 124.3 L470.1 122.5 L468.6 120.5 L467.1 118.3 L465.8 116 L464.7 113.6 L463.6 111.1 L462.8 108.5 L462 105.9 L461.4 103.2 L461 100.5 L460.8 97.7 L460.7 95.1 L460.8 92.4 L461 89.8 L461.4 87.3 L462 84.9 L462.8 82.6 L463.6 80.5 L464.7 78.5 L465.8 76.7 L467.1 75 L468.6 73.6 L470.1 72.4 L471.7 71.3 L473.4 70.5 L475.2 69.9 L477 69.6 L478.9 69.5 L480.8 69.6 L482.7 70 L484.6 70.6 L486.5 71.4 L488.4 72.5 L490.2 73.7 L492 75.2 L493.7 76.9 L495.3 78.7 L496.8 80.7 L498.3 82.9 L499.6 85.2 L500.7 87.6 L501.8 90.1 L502.6 92.7 L503.4 95.3 L504 98 L504.4 100.7 L504.6 103.5 L504.7 106.1Z" fill="#fff" stroke="#111" stroke-width="1.7" />
<path d="M501.9 105.5 L501.8 108.1 L501.6 110.7 L501.2 113.1 L500.6 115.5 L499.9 117.7 L499.1 119.8 L498.1 121.8 L496.9 123.6 L495.7 125.2 L494.3 126.6 L492.9 127.8 L491.3 128.9 L489.7 129.6 L488 130.2 L486.2 130.6 L484.4 130.7 L482.5 130.6 L480.7 130.2 L478.9 129.6 L477 128.8 L475.2 127.8 L473.4 126.6 L471.7 125.1 L470.1 123.5 L468.5 121.7 L467.1 119.7 L465.7 117.6 L464.5 115.4 L463.3 113 L462.3 110.6 L461.5 108 L460.8 105.4 L460.2 102.8 L459.8 100.1 L459.6 97.5 L459.5 94.9 L459.6 92.3 L459.8 89.7 L460.2 87.3 L460.8 84.9 L461.5 82.7 L462.3 80.6 L463.3 78.6 L464.5 76.8 L465.7 75.2 L467.1 73.8 L468.5 72.6 L470.1 71.5 L471.7 70.8 L473.4 70.2 L475.2 69.8 L477 69.7 L478.9 69.8 L480.7 70.2 L482.5 70.8 L484.4 71.6 L486.2 72.6 L488 73.8 L489.7 75.3 L491.3 76.9 L492.9 78.7 L494.3 80.7 L495.7 82.8 L496.9 85 L498.1 87.4 L499.1 89.8 L499.9 92.4 L500.6 95 L501.2 97.6 L501.6 100.3 L501.8 102.9 L501.9 105.5Z" fill="#fff" stroke="#111" stroke-width="1.3" />
<path d="M497.5 104.5 L497.4 107.1 L497.2 109.5 L496.8 112 L496.3 114.3 L495.7 116.5 L494.9 118.6 L493.9 120.5 L492.9 122.3 L491.7 123.9 L490.5 125.3 L489.1 126.5 L487.7 127.5 L486.1 128.3 L484.5 128.9 L482.9 129.2 L481.2 129.4 L479.5 129.3 L477.8 128.9 L476.1 128.4 L474.4 127.6 L472.7 126.7 L471.1 125.5 L469.5 124.1 L468 122.5 L466.5 120.8 L465.1 118.9 L463.9 116.8 L462.7 114.6 L461.7 112.3 L460.7 109.9 L459.9 107.5 L459.3 104.9 L458.8 102.4 L458.4 99.8 L458.2 97.2 L458.1 94.6 L458.2 92 L458.4 89.6 L458.8 87.1 L459.3 84.8 L459.9 82.6 L460.7 80.5 L461.7 78.6 L462.7 76.8 L463.9 75.2 L465.1 73.8 L466.5 72.6 L467.9 71.6 L469.5 70.8 L471.1 70.2 L472.7 69.9 L474.4 69.7 L476.1 69.8 L477.8 70.2 L479.5 70.7 L481.2 71.5 L482.9 72.4 L484.5 73.6 L486.1 75 L487.7 76.6 L489.1 78.3 L490.5 80.2 L491.7 82.3 L492.9 84.5 L493.9 86.8 L494.9 89.2 L495.7 91.6 L496.3 94.2 L496.8 96.7 L497.2 99.3 L497.4 101.9 L497.5 104.5Z" fill="#fff" stroke="#111" stroke-width="1.5" />
<path d="M495.8 104 L495.7 106 L495.6 108 L495.2 110 L494.8 111.8 L494.3 113.6 L493.6 115.3 L492.9 116.8 L492 118.2 L491 119.5 L490 120.6 L488.8 121.6 L487.7 122.4 L486.4 123.1 L485.1 123.5 L483.7 123.8 L482.3 123.9 L480.9 123.8 L479.5 123.5 L478.1 123.1 L476.7 122.5 L475.3 121.7 L473.9 120.7 L472.6 119.6 L471.4 118.3 L470.2 116.9 L469 115.4 L468 113.7 L467 111.9 L466.1 110.1 L465.4 108.1 L464.7 106.1 L464.2 104.1 L463.8 102 L463.4 99.9 L463.3 97.8 L463.2 95.7 L463.3 93.7 L463.4 91.7 L463.8 89.7 L464.2 87.9 L464.7 86.1 L465.4 84.4 L466.1 82.9 L467 81.5 L468 80.2 L469 79.1 L470.2 78.1 L471.4 77.3 L472.6 76.6 L473.9 76.2 L475.3 75.9 L476.7 75.8 L478.1 75.9 L479.5 76.2 L480.9 76.6 L482.3 77.2 L483.7 78 L485.1 79 L486.4 80.1 L487.7 81.4 L488.8 82.8 L490 84.3 L491 86 L492 87.8 L492.9 89.6 L493.6 91.6 L494.3 93.6 L494.8 95.6 L495.2 97.7 L495.6 99.8 L495.7 101.9 L495.8 104Z" fill="#1a1a1a" stroke="#111" stroke-width="1.3" />
<path d="M486.5 80.4 L485.5 79.9 L484.6 79.6 L483.7 79.4 L482.7 79.4 L481.8 79.6 L480.9 79.9 L480 80.3 L479.2 80.9 L478.3 81.6 L477.6 82.5 L476.9 83.5 L476.3 84.6 L475.7 85.8 L475.2 87.2 L474.7 88.6 L474.4 90.1 L474.1 91.7 L473.9 93.3 L473.7 95 L473.7 96.8 L473.7 98.5 L473.9 100.2 L474.1 102 L474.4 103.7 L474.7 105.4 L475.2 107.1 L475.7 108.7 L476.3 110.2 L476.9 111.6 L477.6 113 L478.3 114.2 L479.2 115.4 L480 116.4 L480.9 117.3 L481.8 118 L482.7 118.6 L483.7 119.1 L484.6 119.4 L485.5 119.6 L486.5 119.6 L487.4 119.4 L488.3 119.1 L489.2 118.7 L490.1 118.1 L490.9 117.4 L491.6 116.5 L492.3 115.5 L492.9 114.4 L493.5 113.2 L494 111.8 L494.5 110.4 L494.8 108.9 L495.1 107.3 L495.3 105.7 L495.5 104 L495.5 102.2 L495.5 100.5 L495.3 98.8 L495.2 97.3 L494.8 95.6 L494.3 93.6 L493.6 91.6 L492.9 89.6 L492 87.8 L491 86 L490 84.3 L488.8 82.8 L487.7 81.4 L487 80.7 L486.5 80.4Z" fill="#fff" stroke="#111" stroke-width="0.6" />
<path d="M478.2 121.6 L477.2 121 L476.2 120.3 L475.2 119.6 L474.3 118.7 L473.4 117.7 L472.5 116.6 L471.7 115.5 L470.9 114.3 L470.2 113 L469.5 111.6 L468.9 110.2 L468.3 108.7 L467.8 107.2 L467.4 105.7 L467 104.1 L466.7 102.5 L466.4 100.9 L466.2 99.2 L466.1 97.6 L466.1 96 L466.1 94.4 L466.2 92.9 L466.4 91.3 L466.7 89.8 L467 88.4 L467.4 87 L467.8 85.7 L468.3 84.4 L468.9 83.3 L469.5 82.2 L470.2 81.1 L470.9 80.2 L471.7 79.4 L472.5 78.7 L473.4 78 L474.3 77.5 L475.2 77.1 L476.2 76.8 L477.2 76.6 L478.2 76.5" fill="none" stroke="#999" stroke-width="0.5" stroke-dasharray="0.7 1.1"/>
<path d="M479.6 120.8 L478.7 120.2 L477.8 119.6 L477 118.9 L476.1 118 L475.3 117.1 L474.5 116.1 L473.8 115 L473.1 113.8 L472.4 112.6 L471.8 111.3 L471.2 109.9 L470.7 108.5 L470.2 107.1 L469.8 105.6 L469.5 104.1 L469.2 102.6 L469 101 L468.8 99.5 L468.7 97.9 L468.7 96.4 L468.7 94.8 L468.8 93.3 L469 91.9 L469.2 90.4 L469.5 89 L469.8 87.7 L470.2 86.4 L470.7 85.2 L471.2 84.1 L471.8 83 L472.4 82 L473.1 81.1 L473.8 80.3 L474.5 79.6 L475.3 79 L476.1 78.5 L477 78.1 L477.8 77.7 L478.7 77.5 L479.6 77.5" fill="none" stroke="#999" stroke-width="0.5" stroke-dasharray="0.7 1.1"/>
<path d="M481 120.2 L480.2 119.6 L479.4 119 L478.6 118.3 L477.8 117.5 L477.1 116.6 L476.4 115.7 L475.7 114.6 L475.1 113.5 L474.5 112.3 L473.9 111.1 L473.4 109.8 L472.9 108.4 L472.5 107 L472.1 105.6 L471.8 104.1 L471.6 102.7 L471.4 101.2 L471.2 99.7 L471.1 98.2 L471.1 96.7 L471.1 95.2 L471.2 93.7 L471.4 92.3 L471.6 90.9 L471.8 89.6 L472.1 88.3 L472.5 87 L472.9 85.8 L473.4 84.7 L473.9 83.7 L474.5 82.7 L475.1 81.8 L475.7 81.1 L476.4 80.3 L477.1 79.7 L477.8 79.2 L478.6 78.8 L479.4 78.5 L480.2 78.3 L481 78.2" fill="none" stroke="#999" stroke-width="0.5" stroke-dasharray="0.7 1.1"/>
<circle cx="314" cy="274" r="75" fill="#fff" stroke="none"/>
<g clip-path="url(#c1)">
<path d="M249 238.5C250 240.3 253.2 239.9 256 239.8C258.8 239.7 262.9 238.8 265.7 237.7C268.5 236.6 272.6 234.7 273 233.5C273.4 232.3 269.8 231.5 268 230.5C266.2 229.5 264 228.3 262 227.5C260 226.7 258 225.2 256 225.5C254 225.8 251.2 226.8 250 229C248.8 231.2 248 236.7 249 238.5Z" fill="#1c1c1c" stroke="#111" stroke-width="0" />
<path d="M289.8 195.5C290.1 195.8 291.7 197 291.6 197.6C291.5 198.1 289.1 198 289 198.5C288.9 199.1 291 200.1 290.9 200.6C290.8 201.1 288.4 201.2 288.3 201.7C288.2 202.2 290.4 203.1 290.3 203.7C290.2 204.2 287.9 204.5 287.9 205C287.8 205.5 290.1 206.2 290.1 206.7C290 207.2 287.7 207.5 287.7 208C287.6 208.5 289.9 209.2 289.8 209.6C289.8 210.1 287.4 210.2 287.4 210.7C287.3 211.1 289.4 212.1 289.3 212.5C289.2 212.9 286.9 212.5 286.7 212.9C286.5 213.4 288.4 214.8 288.2 215.1C288 215.5 285.8 214.8 285.6 215.2C285.4 215.6 287.1 217.2 286.8 217.6C286.6 217.9 284.4 217 284.2 217.4C283.9 217.8 285.6 219.5 285.3 219.8C285 220.2 282.9 219.2 282.7 219.5C282.4 219.9 284 221.6 283.7 222C283.4 222.3 281.3 221.3 281.1 221.6C280.8 222 282.3 223.7 282.1 224.1C281.8 224.4 279.8 223.3 279.5 223.6C279.2 224 280.7 225.7 280.4 226.1C280.2 226.4 278.2 225.2 277.9 225.5C277.6 225.8 279 227.7 278.8 228C278.5 228.2 276.6 226.9 276.3 227.2C276 227.5 277.3 229.4 277 229.7C276.7 230 274.9 228.5 274.6 228.8C274.3 229.1 275.5 231.1 275.2 231.3C274.9 231.5 273.2 229.9 272.9 230.2C272.5 230.4 273.6 232.5 273.3 232.7C273 232.9 271.4 231.2 271 231.4C270.7 231.6 271.6 233.8 271.3 234C271 234.1 269.5 232.3 269.2 232.5C268.8 232.7 269.6 234.9 269.3 235.1C269 235.2 267.6 233.3 267.3 233.5C266.9 233.7 267.6 235.9 267.3 236C266.9 236.2 265.7 234.2 265.4 234.4C265 234.5 265.5 236.8 265.2 236.9C264.9 237 263.8 234.9 263.5 235.1C263.1 235.2 263.5 237.5 263.2 237.6C262.9 237.6 261.9 235.5 261.6 235.6C261.2 235.7 261.4 238 261.1 238.1C260.8 238.1 260 236 259.7 236C259.3 236.1 259.4 238.4 259.1 238.5C258.8 238.5 258.1 236.3 257.8 236.3C257.5 236.4 257.4 238.7 257.1 238.7C256.8 238.8 256.3 236.5 256 236.5C255.6 236.5 255.4 238.8 255.1 238.8C254.8 238.8 254.7 236.5 254.4 236.5C254 236.4 253.4 238.7 253.2 238.6C252.9 238.6 253.1 236.3 252.8 236.2C252.5 236.1 251.6 238.2 251.3 238.1C251 238.1 251.5 235.8 251.2 235.7C250.9 235.6 249.8 237.6 249.5 237.5C249.3 237.4 249.9 235.2 249.6 235.1C249.3 234.9 248.1 236.9 247.9 236.8C247.6 236.6 248.4 234.5 248.2 234.3C247.9 234.2 246.5 236.1 246.3 235.9C246 235.8 246.9 233.6 246.7 233.5C246.4 233.3 245 235.2 244.7 235C244.5 234.9 245.4 232.7 245.2 232.6C244.9 232.5 243.6 233.9 243.3 234.1" fill="none" stroke="#111" stroke-width="1.1" />
<path d="M293.5 197.2C293.2 198.4 292.4 201.3 291.9 204.2C291.4 207.1 291.8 211.3 290.5 214.6C289.2 217.9 286.7 221.2 284.4 224.2C282.1 227.2 279.7 230.1 276.8 232.4C273.9 234.7 270.4 236.6 267.2 237.9C264 239.2 260.2 239.9 257.5 240C254.8 240.1 253.2 239.5 251 238.7C248.8 237.9 245.6 235.8 244.5 235.2" fill="none" stroke="#111" stroke-width="1" />
<path d="M252 229C253 229.2 255.7 230.3 258 230.5C260.3 230.7 264.7 230.1 266 230" fill="none" stroke="#fff" stroke-width="0.6" />
<path d="M250 233C251.3 233.2 255 234.2 258 234.3C261 234.4 266.3 233.5 268 233.3" fill="none" stroke="#fff" stroke-width="0.6" />
<path d="M253.4 254.5C254.8 254.5 259 254.8 262 254.6C265 254.4 267.8 254.2 271.2 253.2C274.6 252.2 278.8 250.5 282.2 248.4C285.6 246.3 289.5 243 291.8 240.8C294.1 238.6 295.2 236.4 296 235C296.8 233.6 296.8 233.2 296.6 232.6C296.4 232 295.3 231.8 295 231.6" fill="none" stroke="#111" stroke-width="1.4" />
<path d="M258.8 256.8C260.9 256.6 267.5 256.4 271.5 255.4C275.5 254.4 279.5 252.7 283 250.6C286.5 248.5 290.1 245.6 292.5 243C294.9 240.4 296.8 236.3 297.6 235" fill="none" stroke="#111" stroke-width="1" />
<path d="M304.2 198C303.9 200 303.3 206.3 302.6 210C301.9 213.7 300.9 217.3 300.2 220C299.5 222.7 298.7 225 298.4 226" fill="none" stroke="#111" stroke-width="1.4" />
<path d="M306.7 198C306.4 200 305.6 206.5 305 210C304.4 213.5 303.5 216.8 302.8 219C302.1 221.2 301.3 222.7 301 223.4" fill="none" stroke="#111" stroke-width="1" />
<path d="M309.2 198C309 200 308.4 206.5 307.8 210C307.2 213.5 306.3 216.6 305.8 219C305.3 221.4 304.8 223.7 304.6 224.6" fill="none" stroke="#111" stroke-width="1.4" />
<path d="M298.4 226 L299 228.6 L301.2 229.2" fill="none" stroke="#111" stroke-width="1.4" />
<path d="M301 223.4 L304.6 224.6" fill="none" stroke="#111" stroke-width="1" />
<path d="M301 223.4 L299 228.6" fill="none" stroke="#111" stroke-width="1" />
<path d="M304.6 224.6 L337.6 260.3" fill="none" stroke="#111" stroke-width="1.4" />
<path d="M301.6 227.6 L335.4 263" fill="none" stroke="#111" stroke-width="1" />
<path d="M300.4 229.4 L334.2 264.4" fill="none" stroke="#111" stroke-width="1" />
<path d="M334.2 264.4 L335.4 263 L337.6 260.3" fill="none" stroke="#111" stroke-width="1" />
<path d="M295 231.6C295.4 231.6 296.7 231.3 297.4 231.4C298.1 231.5 299.1 232.2 299.4 232.4" fill="none" stroke="#111" stroke-width="1.4" />
<path d="M299.4 232.4 L331.6 268.6" fill="none" stroke="#111" stroke-width="1.4" />
<path d="M337.6 260.3C338 260 339 259 340 258.6C341 258.2 342.1 257.9 343.4 258C344.7 258.1 346.4 258.6 347.6 259.2C348.8 259.8 349.7 261 350.4 261.8C351.1 262.6 351.7 263.8 352 264.2" fill="none" stroke="#111" stroke-width="1.4" />
<path d="M336.4 262.4C337.1 262.1 339.2 261 340.5 260.6C341.8 260.2 342.9 260.1 344 260.2C345.1 260.3 346.5 260.8 347.4 261.4C348.3 262 349.1 262.9 349.6 263.6C350.1 264.3 350.4 265.3 350.6 265.6" fill="none" stroke="#111" stroke-width="1" />
<path d="M350.6 265.6 L352 264.2" fill="none" stroke="#111" stroke-width="1" />
<path d="M331.6 268.6C331.6 269.3 331.3 271.3 331.4 273C331.5 274.7 331.8 277 332.4 279C333 281 334.1 283.2 335 285C335.9 286.8 337.4 288.4 338 289.6C338.6 290.8 338.9 291.3 338.6 292.4C338.3 293.5 336.4 295.4 336 296" fill="none" stroke="#111" stroke-width="1.4" />
<path d="M336 296C335.1 297.2 332.3 300.9 330.3 303.2C328.3 305.5 325.9 307.7 324 309.6C322.1 311.5 320.2 313.1 318.8 314.4C317.4 315.7 316 317.1 315.4 317.6" fill="none" stroke="#111" stroke-width="1.4" />
<path d="M337.4 297.2C336.4 298.4 333.7 302.3 331.6 304.6C329.5 306.9 327 309.1 325 311C323 312.9 321 314.8 319.6 316C318.2 317.2 317.3 318 316.8 318.4" fill="none" stroke="#111" stroke-width="1" />
<ellipse cx="342.7" cy="277.3" rx="4.9" ry="6.9" transform="rotate(8 342.7 277.3)" fill="#fff" stroke="#111" stroke-width="1.3"/>
<path d="M346.2 203C346.3 203.8 346.4 206.3 346.8 208C347.2 209.7 347.5 211.4 348.4 213C349.3 214.6 350.7 216.3 352 217.6C353.3 218.9 354.9 219.8 356 220.6C357.1 221.4 358.3 222.1 358.8 222.4" fill="none" stroke="#111" stroke-width="1.4" />
<path d="M358.8 222.4C358.7 224 358.6 228.9 358.2 232C357.8 235.1 357.1 237.7 356.5 241C355.9 244.3 355.1 248.1 354.4 252C353.6 255.9 352.4 262.2 352 264.2" fill="none" stroke="#111" stroke-width="1.4" />
<path d="M364.6 215C364.5 217.2 364.4 223.7 364 228C363.6 232.3 363.3 235.8 362.4 241C361.5 246.2 360.4 252.3 358.6 259C356.8 265.7 354.2 274.2 351.6 281C349 287.8 345.4 295.3 343 300C340.6 304.7 340.2 306 337.5 309C334.8 312 331.2 314.9 327 318C322.8 321.1 316.4 325.1 312 327.6C307.6 330.1 304.3 331.4 300.6 333C296.9 334.6 293.9 336.1 290 337.2C286.1 338.3 279.1 339 276.9 339.4" fill="none" stroke="#111" stroke-width="1.4" />
<path d="M378.6 230C378.3 232.5 377.5 240.4 376.6 245C375.7 249.6 374.8 252.5 373.1 257.5C371.4 262.5 368.5 270.1 366.6 275C364.8 279.9 364.1 282.7 362 287C359.9 291.3 356.4 297.2 354 301C351.6 304.8 350.4 306.6 347.6 309.6C344.8 312.6 340.6 316.3 337 319C333.4 321.7 330.2 323.9 326 326C321.8 328.1 316.3 329.8 312 331.4C307.7 333 303.7 334.4 300 335.6C296.3 336.8 292.8 337.5 290 338.4C287.2 339.3 284.5 340.6 283.4 341" fill="none" stroke="#111" stroke-width="1.4" />
<path d="M294.8 325.4C294.7 324.2 294 320.6 294.2 318C294.4 315.4 295.1 312.1 296 310C296.9 307.9 298.1 306.5 299.4 305.4C300.7 304.3 302.4 303.5 304 303.2C305.6 302.9 307.4 303.1 309 303.6C310.6 304.1 312.2 305.2 313.4 306.4C314.6 307.6 315.9 309.4 316.4 310.6C316.9 311.8 316.8 312.4 316.6 313.6C316.4 314.8 315.6 316.9 315.4 317.6" fill="none" stroke="#111" stroke-width="1.4" />
<path d="M298.6 307.6C299.2 307.3 300.8 306.3 302 306C303.2 305.7 304.7 305.5 306 305.8C307.3 306.1 308.9 306.7 310 307.6C311.1 308.5 312.1 310.1 312.8 311.4C313.5 312.7 313.7 314.4 314.2 315.6C314.7 316.8 315.4 317.9 315.6 318.4" fill="none" stroke="#111" stroke-width="1" />
<path d="M315.4 317.6 L316.8 318.4 L318.6 316.4" fill="none" stroke="#111" stroke-width="1" />
<path d="M254.6 315.4C255.7 316.5 258.9 320.1 261 322C263.1 323.9 265.2 325.5 267.5 326.6C269.8 327.7 272.4 328.3 275 328.6C277.6 328.9 280.5 328.8 283 328.6C285.5 328.4 288.2 328 290 327.6C291.8 327.2 293.2 326.6 294 326.2C294.8 325.8 294.7 325.5 294.8 325.4" fill="none" stroke="#111" stroke-width="1.4" />
<path d="M262 325C263 325.7 265.9 328.4 268.2 329.4C270.5 330.4 273.4 330.6 276 330.8C278.6 331 281.5 330.8 284 330.6C286.5 330.4 289.2 330.1 291 329.6C292.8 329.1 294.2 328.2 295 327.6C295.8 327 295.8 326.3 296 326" fill="none" stroke="#111" stroke-width="1" />
<path d="M248.4 254.6 L248.4 308" fill="none" stroke="#111" stroke-width="1.5" />
<path d="M251.2 254.6 L251.2 308" fill="none" stroke="#111" stroke-width="0.9" />
<path d="M253.6 254.6 L253.6 308" fill="none" stroke="#111" stroke-width="1.3" />
<path d="M256 254.6 L256 308" fill="none" stroke="#111" stroke-width="0.9" />
<path d="M258.8 254.6 L258.8 308" fill="none" stroke="#111" stroke-width="1.4" />
<path d="M243.7 250.6 L248.4 253.2 L248.4 254.6" fill="none" stroke="#111" stroke-width="0.9" />
<path d="M253.6 254.6 L258.8 256.4" fill="none" stroke="#111" stroke-width="0.9" />
<path d="M248.4 308C248.6 308.5 248.8 310 249.4 311C250 312 251.6 313.5 252 314" fill="none" stroke="#111" stroke-width="1.4" />
<path d="M253.6 308C253.8 308.6 254.3 310.3 255 311.4C255.7 312.5 257.5 314.1 258 314.6" fill="none" stroke="#111" stroke-width="1" />
<path d="M258.8 308C259.1 308.4 259.8 309.7 260.4 310.4C261 311.1 262.2 311.7 262.6 312" fill="none" stroke="#111" stroke-width="1" />
<path d="M253.8 308.4 L258.8 308 L262.6 312 L258 314.6" fill="none" stroke="#111" stroke-width="0.8" />
</g>
<circle cx="314" cy="274" r="75" fill="none" stroke="#111" stroke-width="0.9"/>
<circle cx="278" cy="136" r="30" fill="none" stroke="#111" stroke-width="0.8"/>
<path d="M285.7 165.2 L296 200.8" fill="none" stroke="#111" stroke-width="0.8" />
<path d="M313 209.8 L343.4 206.4 L340.5 203.6 L377.1 184.7 L337.4 195.7 L337.7 191.6Z" fill="#000" stroke="#fff" stroke-width="1.6" stroke-linejoin="miter" paint-order="stroke"/>
<path d="M291.3 319.4 L261.3 312.5 L263.2 316.1 L222.2 321.9 L263.5 324.7 L261.9 328.4Z" fill="#000" stroke="#fff" stroke-width="1.6" stroke-linejoin="miter" paint-order="stroke"/>
<path d="M352 285.4 L366.9 312.6 L368.3 308.8 L400.1 335.9 L374.6 302.9 L378.5 301.6Z" fill="#000" stroke="#fff" stroke-width="1.6" stroke-linejoin="miter" paint-order="stroke"/>
<circle cx="541.5" cy="276" r="75" fill="#fff" stroke="none"/>
<g clip-path="url(#c2)">
<path d="M471 249.4C472.1 250.5 475.6 249.7 478.4 248.7C481.2 247.7 485.9 244.6 488 243.2C490.1 241.8 491.2 240.9 491 240C490.8 239.1 488.5 238.1 487 237.5C485.5 236.9 483.7 236.4 482 236.4C480.3 236.4 478.7 236.5 477 237.4C475.3 238.3 473 240 472 242C471 244 469.9 248.3 471 249.4Z" fill="#1c1c1c" stroke="#111" stroke-width="0" />
<path d="M506.7 202.7C507.1 203 508.9 204.1 508.8 204.6C508.7 205.1 506.4 205.3 506.3 205.8C506.2 206.4 508.4 207.2 508.3 207.7C508.3 208.2 505.9 208.4 505.8 208.9C505.8 209.4 508 210.2 507.9 210.7C507.8 211.3 505.4 211.4 505.4 211.9C505.3 212.4 507.5 213.3 507.4 213.7C507.4 214.2 505 214.2 504.9 214.7C504.8 215.2 506.9 216.2 506.8 216.6C506.7 217 504.3 216.7 504.2 217.2C504 217.6 506 218.9 505.8 219.3C505.6 219.7 503.3 219.2 503.1 219.6C502.9 220 504.8 221.5 504.6 221.9C504.4 222.3 502.1 221.6 501.9 222C501.7 222.4 503.5 223.9 503.2 224.3C503 224.7 500.8 223.9 500.6 224.2C500.4 224.6 502.1 226.2 501.8 226.6C501.6 227 499.4 226 499.2 226.4C498.9 226.8 500.6 228.4 500.3 228.8C500.1 229.1 498 228.1 497.7 228.5C497.5 228.8 499 230.5 498.8 230.9C498.5 231.2 496.5 230.1 496.2 230.4C495.9 230.7 497.5 232.5 497.2 232.8C496.9 233.1 494.9 232 494.6 232.3C494.4 232.6 495.8 234.4 495.6 234.7C495.3 235 493.3 233.8 493 234.1C492.8 234.4 494.2 236.2 494 236.5C493.7 236.8 491.7 235.5 491.5 235.8C491.2 236.1 492.6 238 492.3 238.3C492.1 238.5 490.2 237.2 489.9 237.5C489.6 237.7 490.9 239.6 490.7 239.9C490.4 240.1 488.6 238.7 488.3 238.9C488 239.2 489.2 241.2 489 241.4C488.7 241.6 487 240.1 486.7 240.3C486.4 240.5 487.5 242.6 487.2 242.8C486.9 243 485.3 241.3 485 241.5C484.7 241.7 485.7 243.8 485.4 244C485.1 244.2 483.6 242.4 483.3 242.6C483 242.8 483.9 244.9 483.6 245.1C483.3 245.3 481.9 243.4 481.6 243.6C481.3 243.8 482.1 246 481.8 246.1C481.5 246.3 480.1 244.4 479.8 244.5C479.5 244.7 480.2 246.9 479.9 247C479.6 247.2 478.4 245.2 478.1 245.3C477.8 245.5 478.4 247.7 478.1 247.8C477.8 247.9 476.8 245.9 476.5 246C476.1 246.1 476.5 248.3 476.2 248.4C476 248.5 475.3 246.2 475 246.3C474.7 246.3 474.6 248.6 474.3 248.6C474.1 248.7 473.8 246.4 473.5 246.4C473.1 246.3 472.7 248.6 472.5 248.6C472.2 248.6 472.2 246.3 471.9 246.3C471.6 246.2 470.9 248.4 470.6 248.4C470.4 248.3 470.7 246 470.4 245.9C470.1 245.9 469.2 248 468.9 247.9C468.6 247.8 469 245.6 468.8 245.5C468.5 245.4 467.5 247.5 467.2 247.4C467 247.3 467.1 245.3 467.1 244.9" fill="none" stroke="#111" stroke-width="1.1" />
<path d="M510.5 204.2C510.3 205.5 509.8 209.4 509.4 211.8C509 214.2 508.9 216.2 508 218.7C507.1 221.2 505.6 224.1 503.9 226.9C502.2 229.6 500.1 232.4 497.7 235.2C495.3 237.9 492.5 241.1 489.5 243.4C486.5 245.7 482.5 247.8 479.9 248.9C477.3 250 475.8 249.9 473.7 249.8C471.6 249.7 468.5 248.5 467.5 248.2" fill="none" stroke="#111" stroke-width="1" />
<path d="M474 240C475 240.1 477.8 240.7 480 240.6C482.2 240.5 485.8 239.6 487 239.4" fill="none" stroke="#fff" stroke-width="0.6" />
<path d="M472 244C473.2 244.1 476.5 244.7 479 244.4C481.5 244.1 485.7 242.7 487 242.4" fill="none" stroke="#fff" stroke-width="0.6" />
<path d="M520.4 200C520.4 200.6 520.5 200.8 520.2 203.7C520 206.6 519.7 212.9 518.9 217.5C518.1 222.1 517.1 226.6 515.4 231.2C513.7 235.8 511.1 241.1 508.6 245C506.1 248.9 503.5 251.9 500.3 254.6C497.1 257.3 492.4 259.8 489.3 261.4C486.2 263 485 263.4 481.8 264.2C478.6 265 472 265.7 470 266" fill="none" stroke="#111" stroke-width="1.4" />
<path d="M530.2 198C530.2 198.7 530.2 198.8 529.9 202C529.6 205.2 529.2 212.4 528.5 217.5C527.8 222.6 526.2 230.1 525.7 232.6" fill="none" stroke="#111" stroke-width="1.4" />
<path d="M533.5 198C533.5 198.6 533.6 198.9 533.3 201.7C533 204.5 532.5 210 531.9 214.7C531.3 219.4 530.5 226.6 529.9 229.8C529.2 233 528.3 233.3 528 234" fill="none" stroke="#111" stroke-width="1.4" />
<path d="M516 236.6C516.7 236.2 518.4 235.1 520 234.4C521.6 233.7 524.4 232.7 525.7 232.6C527 232.5 527.6 233.8 528 234" fill="none" stroke="#111" stroke-width="1.4" />
<path d="M516 236.6C515.8 236.9 514.6 237.9 514.6 238.6C514.6 239.3 515.3 240.2 516.2 240.6C517.1 241 519 241 520 241.2C521 241.3 521.9 241.4 522.3 241.5" fill="none" stroke="#111" stroke-width="1.4" />
<path d="M525.7 232.6 L523.6 236 L522.3 241.5" fill="none" stroke="#111" stroke-width="1" />
<path d="M516 236.6 L523.6 236" fill="none" stroke="#111" stroke-width="1" />
<path d="M522.3 241.5C521.8 242.3 520.5 244.9 519.4 246.4C518.2 247.9 517.4 248.6 515.4 250.4C513.4 252.2 510.4 255.4 507.2 257.3C504 259.2 500.1 261 496.2 262.1C492.3 263.2 485.9 263.9 483.8 264.2" fill="none" stroke="#111" stroke-width="1.4" />
<path d="M515.6 239C515.3 239.8 514.5 242.3 513.6 244C512.7 245.7 512.2 246.8 510 249C507.8 251.2 503.3 255.2 500.3 257.3C497.3 259.4 493.4 260.7 492 261.4" fill="none" stroke="#111" stroke-width="1" />
<path d="M470.8 264.2 L470.8 316.5" fill="none" stroke="#111" stroke-width="0.9" />
<path d="M472.9 264.2 L472.9 316.5" fill="none" stroke="#111" stroke-width="0.9" />
<path d="M475.6 264.2 L475.6 316.5" fill="none" stroke="#111" stroke-width="1.5" />
<path d="M477.9 264.2 L477.9 316.5" fill="none" stroke="#111" stroke-width="0.9" />
<path d="M480.4 264.2 L480.4 316.5" fill="none" stroke="#111" stroke-width="0.9" />
<path d="M483.2 264.2 L483.2 316.5" fill="none" stroke="#111" stroke-width="1.5" />
<path d="M467 263.8 L483.2 264.2" fill="none" stroke="#111" stroke-width="1" />
<path d="M475.6 316.5 L479.8 321.8" fill="none" stroke="#111" stroke-width="1" />
<path d="M480.4 316.5 L484.2 321.6" fill="none" stroke="#111" stroke-width="1" />
<path d="M483.2 316.5 L486.2 320.2" fill="none" stroke="#111" stroke-width="1" />
<path d="M528 234 L560.2 268.8" fill="none" stroke="#111" stroke-width="1.4" />
<path d="M524.6 236.2 L557.8 271.6" fill="none" stroke="#111" stroke-width="1" />
<path d="M523.4 237.6 L556.4 272.6" fill="none" stroke="#111" stroke-width="1" />
<path d="M556.4 272.6 L557.8 271.6 L560.2 268.8" fill="none" stroke="#111" stroke-width="1" />
<path d="M522.3 241.5 L554 277.6" fill="none" stroke="#111" stroke-width="1.4" />
<path d="M560.2 268.8C560.7 268.5 561.9 267.4 563 267C564.1 266.6 565.3 266.3 566.6 266.4C567.9 266.5 569.5 266.9 570.6 267.4C571.7 267.9 572.5 268.9 573.2 269.6C573.9 270.3 574.4 271.3 574.6 271.6" fill="none" stroke="#111" stroke-width="1.4" />
<path d="M559.4 270.8C560 270.5 561.9 269.5 563.2 269.2C564.5 268.9 565.9 268.7 567 268.8C568.1 268.9 569.2 269.5 570 270C570.8 270.5 571.5 271.4 572 272C572.5 272.6 572.8 273.3 573 273.6" fill="none" stroke="#111" stroke-width="1" />
<path d="M573 273.6 L574.6 271.6" fill="none" stroke="#111" stroke-width="1" />
<path d="M554 277.6C554.1 278.3 554.1 280.3 554.4 282C554.7 283.7 555 286.1 555.6 288C556.2 289.9 557.3 291.9 558.2 293.4C559.1 294.9 560.4 296 561 297C561.6 298 561.9 298.2 561.6 299.4C561.3 300.6 559.4 303.2 559 304" fill="none" stroke="#111" stroke-width="1.4" />
<path d="M559 304C558 305.3 555 309.3 553 311.6C551 313.9 548.9 316.2 547 318C545.1 319.8 543.1 321.4 541.6 322.6C540.1 323.8 538.6 324.9 538 325.4" fill="none" stroke="#111" stroke-width="1.4" />
<path d="M560.4 305.4C559.4 306.7 556.4 310.7 554.4 313C552.4 315.3 550.3 317.6 548.4 319.4C546.5 321.2 544.5 322.8 543 324C541.5 325.2 540.2 326 539.6 326.4" fill="none" stroke="#111" stroke-width="1" />
<ellipse cx="565.6" cy="285" rx="4.9" ry="6.8" transform="rotate(8 565.6 285)" fill="#fff" stroke="#111" stroke-width="1.3"/>
<path d="M570.2 204C570.2 205.3 570.1 209.7 570.2 212C570.3 214.3 570.3 216 570.8 218C571.2 220 572 222.5 572.9 224C573.8 225.5 575.1 226.2 576.4 227C577.6 227.8 579.3 227.8 580.4 228.6C581.5 229.4 582.3 231.1 582.7 231.6" fill="none" stroke="#111" stroke-width="1.4" />
<path d="M582.7 231.6C582.5 233.5 582.2 239.3 581.6 243C581 246.7 580.2 250.7 579.4 254C578.6 257.3 577.8 260.1 577 263C576.2 265.9 575 270.2 574.6 271.6" fill="none" stroke="#111" stroke-width="1.4" />
<ellipse cx="580.2" cy="217" rx="4.2" ry="5.7" transform="rotate(8 580.2 217)" fill="#fff" stroke="#111" stroke-width="1.3"/>
<path d="M589 214C589 216 589 222.3 588.8 226C588.6 229.7 588.6 231.4 588 236C587.4 240.6 586.3 247.6 585 253.5C583.7 259.4 582.3 265.6 580.4 271.6C578.5 277.6 575.8 284.1 573.6 289.7C571.4 295.3 569.3 300.9 567 305C564.7 309.1 562.3 311.8 560 314.6C557.7 317.4 555.6 319.5 553.1 322C550.6 324.5 547.6 327.4 545 329.6C542.4 331.8 540.1 333.3 537.3 335C534.5 336.7 530.9 338.4 528 339.6C525.1 340.8 523.2 341.4 519.9 342C516.6 342.6 511.3 343 508 343C504.7 343 501.3 342.2 500 342" fill="none" stroke="#111" stroke-width="1.4" />
<path d="M602.4 228C602.2 230.3 601.6 237.8 601 242C600.4 246.2 600 248.1 598.6 253.5C597.2 258.9 594.8 268.3 592.5 274.6C590.2 280.9 587.5 285.7 585 291.2C582.5 296.7 580.1 303.2 577.6 307.5C575.1 311.8 572.4 314.3 570 317C567.6 319.7 566.2 321.3 563.2 323.6C560.2 325.9 555.6 328.8 552 331C548.4 333.2 545.1 335 541.6 336.6C538.1 338.2 534.6 339.5 531 340.8C527.4 342.1 523.2 343.2 520 344.2C516.8 345.1 513.3 346.1 512 346.5" fill="none" stroke="#111" stroke-width="1.4" />
<path d="M519.4 335.4C519.2 334.7 518.5 332.9 518.2 331C517.9 329.1 517.5 326.1 517.6 324C517.7 321.9 518 320.2 518.6 318.6C519.2 317 520.2 315.8 521.3 314.6C522.4 313.4 523.7 312.3 525 311.6C526.3 310.9 527.7 310.6 529 310.6C530.3 310.6 531.7 311.1 533 311.8C534.3 312.5 535.5 313.7 536.6 314.8C537.7 315.9 538.9 317.4 539.6 318.6C540.3 319.8 541.1 320.9 540.8 322C540.5 323.1 538.5 324.8 538 325.4" fill="none" stroke="#111" stroke-width="1.4" />
<path d="M522.6 316.8C523.2 316.5 524.8 315.3 526 315C527.2 314.7 528.7 314.6 530 315C531.3 315.4 532.6 316.4 533.6 317.4C534.6 318.4 535.4 319.7 536 321C536.6 322.3 537 324 537.4 325C537.8 326 538.2 326.5 538.4 326.8" fill="none" stroke="#111" stroke-width="1" />
<path d="M538 325.4 L539.6 326.4 L543 323.6" fill="none" stroke="#111" stroke-width="1" />
<ellipse cx="527.2" cy="328.4" rx="4.5" ry="6" transform="rotate(8 527.2 328.4)" fill="#fff" stroke="#111" stroke-width="1.3"/>
<path d="M524.2 329.2 L530.2 327.8" fill="none" stroke="#111" stroke-width="0.8" />
<path d="M484 322C484.8 323.3 487.2 327.6 489 329.6C490.8 331.6 492.7 332.8 494.7 334C496.7 335.2 498.8 336.1 501 336.6C503.2 337.1 505.8 337.1 508 337C510.2 336.9 512.1 336.3 514 336C515.9 335.7 518.5 335.5 519.4 335.4" fill="none" stroke="#111" stroke-width="1.4" />
<path d="M492 334.6C493 335.1 495.7 337.1 498 337.8C500.3 338.5 503.3 338.9 506 339C508.7 339.1 511.6 338.5 514 338.2C516.4 337.9 519.3 337.2 520.4 337" fill="none" stroke="#111" stroke-width="1" />
</g>
<circle cx="541.5" cy="276" r="75" fill="none" stroke="#111" stroke-width="0.9"/>
<circle cx="507" cy="135" r="30" fill="none" stroke="#111" stroke-width="0.8"/>
<path d="M514.7 164.2 L523.2 203" fill="none" stroke="#111" stroke-width="0.8" />
<path d="M532.8 214.4 L563.8 211 L560.8 208.2 L598 189 L557.6 200.1 L557.9 196Z" fill="#000" stroke="#fff" stroke-width="1.6" stroke-linejoin="miter" paint-order="stroke"/>
<path d="M515.6 326.6 L485.6 319.6 L487.4 323.2 L446.4 328.8 L487.7 331.8 L486.1 335.5Z" fill="#000" stroke="#fff" stroke-width="1.6" stroke-linejoin="miter" paint-order="stroke"/>
<path d="M577.6 291 L592 317.7 L593.5 314 L624.4 340.6 L599.6 308.2 L603.4 306.9Z" fill="#000" stroke="#fff" stroke-width="1.6" stroke-linejoin="miter" paint-order="stroke"/>
<path d="M270.1 452.8 L270.1 452.8 L272.5 452.3 L272.9 452.2" fill="none" stroke="#111" stroke-width="1.4" />
<path d="M272.1 580.1 L270.1 580.7 L267.7 581.3 L265.3 581.6 L262.9 581.8 L260.5 581.8 L258.1 581.6 L255.8 581.2 L253.6 580.7 L251.3 579.9 L249.1 579 L247 578 L245 576.7 L243 575.4 L241.1 573.8 L239.2 572.1 L237.5 570.2 L235.8 568.2 L234.3 566.1 L232.8 563.8 L231.4 561.4 L230.2 558.8 L229 556.2 L228 553.4 L227 550.6 L226.2 547.6 L225.5 544.6 L225 541.4 L224.5 538.3 L224.2 535 L224 531.7 L224 528.4 L224 525 L224.2 521.7 L224.5 518.3 L225 514.9 L225.5 511.5 L226.2 508.1 L227 504.7 L228 501.4 L229 498.1 L230.2 494.9 L231.4 491.7 L232.8 488.6 L234.3 485.6 L235.8 482.6 L237.5 479.8 L239.2 477 L241.1 474.4 L243 471.9 L245 469.5 L247 467.2 L249.1 465.1 L251.3 463.1 L253.6 461.2 L255.8 459.5 L258.1 458 L260.5 456.6 L262.9 455.4 L265.3 454.4 L267.7 453.5 L270.1 452.8" fill="none" stroke="#111" stroke-width="1.4" />
<path d="M275 451.6 L272.6 452.3 L270.2 453.2 L267.8 454.3 L265.4 455.5 L263.1 456.8 L260.8 458.4 L258.5 460.1 L256.3 461.9 L254.1 463.9 L252 466 L249.9 468.3 L247.9 470.7 L246 473.2 L244.2 475.9 L242.4 478.6 L240.7 481.4 L239.2 484.4 L237.7 487.4 L236.3 490.5 L235.1 493.7 L233.9 496.9 L232.9 500.2 L232 503.5 L231.2 506.9 L230.5 510.3 L229.9 513.7 L229.5 517.1 L229.2 520.5 L229 523.9 L228.9 527.2 L229 530.6 L229.2 533.8 L229.5 537.1 L229.9 540.3 L230.5 543.4 L231.2 546.4 L232 549.4 L232.9 552.2 L233.9 555 L235.1 557.6 L236.3 560.2 L237.7 562.6 L239.2 564.9 L240.7 567 L242.4 569 L244.2 570.9 L246 572.6 L247.9 574.2 L249.9 575.6 L252 576.8 L254.1 577.9 L256.3 578.8 L258.5 579.5 L260.8 580 L263.1 580.4 L265.4 580.6 L267.8 580.6 L270.2 580.4 L272.6 580.1 L275 579.6 L277.4 578.9 L279.8 578 L282.2 576.9 L284.6 575.7 L286.9 574.4 L289.2 572.8 L291.5 571.1 L293.7 569.3 L295.9 567.3 L298 565.2 L300.1 562.9 L302.1 560.5 L304 558 L305.8 555.3 L307.6 552.6 L309.3 549.8 L310.8 546.8 L312.3 543.8 L313.7 540.7 L314.9 537.5 L316.1 534.3 L317.1 531 L318 527.7 L318.8 524.3 L319.5 520.9 L320.1 517.5 L320.5 514.1 L320.8 510.7 L321 507.3 L321.1 504 L321 500.6 L320.8 497.4 L320.5 494.1 L320.1 490.9 L319.5 487.8 L318.8 484.8 L318 481.8 L317.1 479 L316.1 476.2 L314.9 473.6 L313.7 471 L312.3 468.6 L310.8 466.3 L309.3 464.2 L307.6 462.2 L305.8 460.3 L304 458.6 L302.1 457 L300.1 455.6 L298 454.4 L295.9 453.3 L293.7 452.4 L291.5 451.7 L289.2 451.2 L286.9 450.8 L284.6 450.6 L282.2 450.6 L279.8 450.8 L277.4 451.1 L275 451.6Z" fill="#fff" stroke="#000" stroke-width="1.7" />
<path d="M275 453.8 L272.7 454.5 L270.3 455.3 L268 456.3 L265.7 457.5 L263.5 458.8 L261.2 460.3 L259 461.9 L256.9 463.7 L254.8 465.7 L252.7 467.7 L250.7 469.9 L248.8 472.2 L247 474.7 L245.2 477.2 L243.5 479.9 L241.9 482.6 L240.4 485.4 L239 488.4 L237.7 491.4 L236.4 494.4 L235.3 497.6 L234.3 500.7 L233.4 503.9 L232.6 507.2 L232 510.5 L231.4 513.7 L231 517 L230.7 520.3 L230.5 523.6 L230.5 526.8 L230.5 530 L230.7 533.2 L231 536.4 L231.4 539.4 L232 542.4 L232.6 545.4 L233.4 548.2 L234.3 551 L235.3 553.7 L236.4 556.2 L237.7 558.7 L239 561 L240.4 563.2 L241.9 565.3 L243.5 567.2 L245.2 569 L247 570.7 L248.8 572.2 L250.7 573.5 L252.7 574.7 L254.8 575.7 L256.9 576.6 L259 577.3 L261.2 577.8 L263.5 578.2 L265.7 578.4 L268 578.4 L270.3 578.2 L272.7 577.9 L275 577.4 L277.3 576.7 L279.7 575.9 L282 574.9 L284.3 573.7 L286.5 572.4 L288.8 570.9 L291 569.3 L293.1 567.5 L295.2 565.5 L297.3 563.5 L299.3 561.3 L301.2 559 L303 556.5 L304.8 554 L306.5 551.3 L308.1 548.6 L309.6 545.8 L311 542.8 L312.3 539.8 L313.6 536.8 L314.7 533.6 L315.7 530.5 L316.6 527.3 L317.4 524 L318 520.7 L318.6 517.5 L319 514.2 L319.3 510.9 L319.5 507.6 L319.5 504.4 L319.5 501.2 L319.3 498 L319 494.8 L318.6 491.8 L318 488.8 L317.4 485.8 L316.6 483 L315.7 480.2 L314.7 477.5 L313.6 475 L312.3 472.5 L311 470.2 L309.6 468 L308.1 465.9 L306.5 464 L304.8 462.2 L303 460.5 L301.2 459 L299.3 457.7 L297.3 456.5 L295.2 455.5 L293.1 454.6 L291 453.9 L288.8 453.4 L286.5 453 L284.3 452.8 L282 452.8 L279.7 453 L277.3 453.3 L275 453.8Z" fill="none" stroke="#111" stroke-width="0.9" />
<path d="M255 507.6 L255.2 507.7 L255.3 507.8 L255.4 508.1 L255.5 508.3 L255.5 508.6 L255.5 508.8 L255.4 509.1 L255.4 509.2 L255 510.6 L255 510.7 L254.6 512.2 L254.6 512.3 L254.3 513.8 L254.2 514 L254 515.5 L254 515.6 L253.8 517.1 L253.8 517.2 L253.6 518.7 L253.6 518.8 L253.5 520.3 L253.5 520.4 L253.5 521.9 L253.5 522 L253.5 523.5 L253.5 523.6 L253.6 525 L253.6 525.1 L253.8 526.6 L253.8 526.7 L254 528.1 L254 528.2 L254.2 529.6 L254.3 529.7 L254.6 531 L254.6 531.1 L255 532.4 L255 532.5 L255.4 533.8 L255.4 533.8 L255.5 534.1 L255.5 534.3 L255.5 534.6 L255.4 534.9 L255.3 535.1 L255.2 535.4 L255 535.6 L241.9 549.3 L241.7 549.5 L241.5 549.6 L241.3 549.6 L241.1 549.6 L241 549.6 L240.8 549.4 L240.8 549.4 L240.6 549.3 L240.6 549.2 L240.4 549.1 L240.4 549.1 L240.2 548.9 L240.1 548.9 L240 548.8 L239.9 548.8 L239.7 548.7 L239.7 548.7 L239.5 548.6 L239.4 548.6 L239.3 548.5 L239.2 548.5 L239.1 548.5 L239 548.5 L238.8 548.5 L238.7 548.5 L238.6 548.5 L238.5 548.5 L238.4 548.5 L238.3 548.5 L238.2 548.5 L238.1 548.6 L238 548.6 L237.8 548.7 L237.8 548.7 L237.6 548.8 L237.6 548.8 L237.4 548.9 L237.4 549 L237.2 549.1 L237.2 549.1 L237.1 549.3 L237 549.3 L236.9 549.5 L236.8 549.6 L236.8 549.6 L236.7 549.7 L236.6 549.9 L236.4 550 L236.2 550 L236 550 L235.9 550 L235.7 549.9 L235.6 549.8 L235.5 549.6 L235.4 549.4 L235.2 549 L235.2 549 L234.7 547.2 L234.7 547.2 L234.2 545.4 L234.2 545.3 L233.8 543.5 L233.7 543.4 L233.4 541.5 L233.4 541.5 L233 539.6 L233 539.6 L232.7 537.6 L232.7 537.6 L232.5 535.6 L232.5 535.6 L232.4 535.1 L232.4 534.9 L232.5 534.6 L232.5 534.4 L232.6 534.1 L232.7 533.9 L232.9 533.7 L233 533.6 L233.2 533.5 L233.4 533.4 L233.5 533.4 L233.5 533.4 L233.6 533.4 L233.8 533.4 L233.8 533.4 L234 533.3 L234 533.3 L234.2 533.3 L234.2 533.2 L234.4 533.2 L234.4 533.1 L234.6 533 L234.6 533 L234.8 532.9 L234.8 532.8 L234.9 532.7 L235 532.6 L235.1 532.5 L235.2 532.4 L235.3 532.3 L235.4 532.2 L235.5 532 L235.6 531.9 L235.6 531.8 L235.7 531.6 L235.8 531.5 L235.9 531.3 L236 531.2 L236.1 531 L236.1 530.9 L236.2 530.6 L236.2 530.5 L236.3 530.3 L236.4 530.2 L236.4 529.9 L236.5 529.8 L236.6 529.5 L236.6 529.4 L236.7 529.1 L236.7 529 L236.7 528.7 L236.8 528.6 L236.8 528.3 L236.8 528.2 L236.9 527.9 L236.9 527.8 L236.9 527.4 L236.9 527.3 L237 527 L237 526.9 L237 526.6 L237 526.5 L237 526.2 L237 526.1 L237 525.7 L237 525.6 L237 525.3 L237 525.2 L236.9 524.9 L236.9 524.8 L236.9 524.5 L236.9 524.4 L236.8 524.1 L236.8 524 L236.8 523.7 L236.7 523.7 L236.7 523.4 L236.7 523.3 L236.6 523 L236.6 522.9 L236.5 522.7 L236.4 522.6 L236.4 522.4 L236.3 522.3 L236.2 522.1 L236.2 522 L236.1 521.8 L236.1 521.7 L236 521.6 L235.9 521.5 L235.8 521.3 L235.7 521.3 L235.6 521.1 L235.6 521 L235.5 520.9 L235.4 520.9 L235.3 520.8 L235.2 520.7 L235.1 520.7 L235 520.6 L234.9 520.6 L234.8 520.5 L234.8 520.5 L234.6 520.4 L234.6 520.4 L234.4 520.4 L234.4 520.4 L234.2 520.4 L234.2 520.4 L234 520.4 L234 520.4 L233.8 520.5 L233.8 520.5 L233.6 520.5 L233.5 520.6 L233.5 520.6 L233.4 520.6 L233.2 520.6 L233 520.6 L232.9 520.6 L232.7 520.4 L232.6 520.3 L232.5 520.1 L232.5 519.9 L232.4 519.7 L232.4 519.4 L232.5 518.9 L232.5 518.9 L232.7 516.8 L232.7 516.8 L233 514.7 L233 514.6 L233.4 512.5 L233.4 512.5 L233.7 510.4 L233.8 510.4 L234.2 508.3 L234.2 508.3 L234.7 506.2 L234.7 506.2 L235.2 504.1 L235.2 504.1 L235.4 503.6 L235.5 503.4 L235.6 503.1 L235.7 503 L235.9 502.8 L236 502.7 L236.2 502.6 L236.4 502.6 L236.6 502.6 L236.7 502.7 L236.8 502.7 L236.8 502.7 L236.9 502.8 L237 502.9 L237.1 502.9 L237.2 503 L237.2 503 L237.4 503.1 L237.4 503.1 L237.6 503.1 L237.6 503.1 L237.8 503.1 L237.8 503.1 L238 503.1 L238.1 503.1 L238.2 503.1 L238.3 503.1 L238.4 503 L238.5 503 L238.6 502.9 L238.7 502.9 L238.8 502.8 L239 502.7 L239.1 502.7 L239.2 502.6 L239.3 502.5 L239.4 502.4 L239.5 502.3 L239.7 502.2 L239.7 502.1 L239.9 502 L240 501.9 L240.1 501.7 L240.2 501.7 L240.4 501.5 L240.4 501.4 L240.6 501.2 L240.6 501.1 L240.8 500.8 L240.8 500.8 L241 500.6 L241.1 500.5 L241.3 500.4 L241.5 500.3 L241.7 500.3 L241.9 500.4 L255 507.6Z" fill="none" stroke="#000" stroke-width="2" />
<path d="M252.5 508.2 L252.7 508.3 L252.8 508.4 L252.9 508.7 L253 508.9 L253 509.2 L253 509.4 L252.9 509.7 L252.9 509.8 L252.5 511.2 L252.5 511.3 L252.1 512.8 L252.1 512.9 L251.8 514.4 L251.7 514.6 L251.5 516.1 L251.5 516.2 L251.3 517.7 L251.3 517.8 L251.1 519.3 L251.1 519.4 L251 520.9 L251 521 L251 522.5 L251 522.6 L251 524.1 L251 524.2 L251.1 525.6 L251.1 525.7 L251.3 527.2 L251.3 527.3 L251.5 528.7 L251.5 528.8 L251.7 530.2 L251.8 530.3 L252.1 531.6 L252.1 531.7 L252.5 533 L252.5 533.1 L252.9 534.4 L252.9 534.4 L253 534.7 L253 534.9 L253 535.2 L252.9 535.5 L252.8 535.7 L252.7 536 L252.5 536.2 L240.5 548.8" fill="none" stroke="#111" stroke-width="1" />
<path d="M236.9 549.2 L236.8 549.1 L236.7 549.1 L236.6 549.1 L236.5 549.1 L236.3 549.1 L236.2 549.1 L236.1 549.1 L236 549.1 L235.9 549.1 L235.8 549.1 L235.7 549.1 L235.6 549.2 L235.5 549.2" fill="none" stroke="#111" stroke-width="1" />
<path d="M235.5 503.7 L235.6 503.7 L235.7 503.7 L235.8 503.7 L235.9 503.6 L236 503.6 L236.1 503.5 L236.2 503.5 L236.3 503.4 L236.5 503.3 L236.6 503.3 L236.7 503.2 L236.8 503.1 L236.8 503.1" fill="none" stroke="#111" stroke-width="1" />
<path d="M240.5 501.6 L252.5 508.2" fill="none" stroke="#111" stroke-width="1" />
<path d="M274 569.2 L274 569.4 L274 569.7 L273.9 570 L273.7 570.2 L273.6 570.4 L273.4 570.5 L273.4 570.6 L273.2 570.7 L273.1 570.8 L272.9 570.9 L272.9 571 L272.7 571.1 L272.6 571.2 L272.4 571.4 L272.4 571.4 L272.2 571.6 L272.2 571.7 L272 571.9 L271.9 572 L271.8 572.1 L271.8 572.2 L271.6 572.4 L271.6 572.5 L271.5 572.7 L271.4 572.8 L271.3 572.9 L271.3 573.1 L271.2 573.2 L271.1 573.4 L271.1 573.5 L271 573.7 L271 573.8 L271 574 L270.9 574.1 L270.9 574.2 L270.9 574.3 L270.8 574.5 L270.8 574.6 L270.8 574.8 L270.8 574.9 L270.8 575.1 L270.8 575.2 L270.8 575.4 L270.9 575.5 L270.9 575.5 L270.9 575.7 L270.9 575.9 L270.8 576.2 L270.7 576.4 L270.6 576.7 L270.5 576.8 L270.3 577 L270.2 577.1 L270 577.2 L269.8 577.3 L269.5 577.3 L269.4 577.3 L268 577.3 L267.9 577.3 L266.5 577.3 L266.5 577.3 L265 577.2 L265 577.2 L263.5 577 L263.5 577 L262.1 576.8 L262.1 576.8 L260.7 576.5 L260.6 576.5 L259.2 576.1 L259.2 576.1 L258.9 576 L258.7 575.9 L258.6 575.8 L258.5 575.6 L258.4 575.4 L258.3 575.2 L258.3 575 L258.3 574.7 L258.4 574.5 L258.5 574.2 L258.5 574 L258.5 574 L258.6 573.9 L258.7 573.8 L258.7 573.7 L258.8 573.5 L258.8 573.4 L258.9 573.2 L258.9 573.1 L258.9 572.9 L259 572.8 L259 572.7 L259 572.5 L259 572.4 L259 572.2 L259 572.1 L259 571.9 L259 571.8 L259 571.6 L259 571.5 L259 571.3 L259 571.2 L258.9 571 L258.9 570.9 L258.9 570.7 L258.8 570.6 L258.8 570.4 L258.7 570.3 L258.7 570.1 L258.6 570 L258.5 569.8 L258.5 569.7 L258.4 569.5 L258.4 569.4 L258.3 569.2 L258.2 569.2 L258.1 569 L258 568.9 L257.9 568.7 L257.9 568.7 L257.7 568.5 L257.7 568.4 L257.5 568.3 L257.4 568.2 L257.3 568 L257.2 568 L257 567.8 L257 567.8 L256.8 567.6 L256.7 567.6 L256.5 567.5 L256.5 567.4 L256.3 567.3 L256.2 567.3 L256 567.2 L255.9 567.2 L255.7 567.1 L255.7 567 L255.4 567 L255.4 566.9 L255.2 566.9 L255.1 566.9 L254.9 566.8 L254.8 566.8 L254.6 566.8 L254.5 566.8 L254.3 566.7 L254.3 566.7 L254 566.7 L254 566.7 L253.8 566.8 L253.7 566.8 L253.5 566.8 L253.4 566.8 L253.2 566.8 L253.1 566.9 L253 566.9 L252.9 566.9 L252.7 567 L252.6 567 L252.5 567.1 L252.4 567.2 L252.2 567.2 L252.1 567.3 L252 567.4 L251.9 567.5 L251.8 567.6 L251.7 567.6 L251.6 567.7 L251.5 567.8 L251.4 567.9 L251.3 568 L251.2 568.1 L251.1 568.3 L251.1 568.3 L251 568.5 L250.9 568.6 L250.8 568.7 L250.8 568.8 L250.7 569 L250.7 569.1 L250.6 569.3 L250.6 569.4 L250.5 569.5 L250.5 569.7 L250.5 569.7 L250.4 569.9 L250.3 570.1 L250.2 570.3 L250.1 570.5 L249.9 570.6 L249.7 570.7 L249.5 570.7 L249.4 570.7 L249.2 570.7 L249.1 570.6 L248.8 570.4 L248.7 570.4 L247.6 569.4 L247.6 569.4 L246.5 568.3 L246.4 568.3 L245.3 567.1 L245.3 567.1 L244.3 565.9 L244.2 565.9 L243.2 564.7 L243.2 564.6 L242.2 563.3 L242.2 563.3 L241.3 562 L241.3 561.9 L241.1 561.6 L241 561.4 L240.9 561.2 L240.9 561 L240.9 560.7 L240.9 560.5 L241 560.2 L241.1 560 L241.2 559.8 L241.3 559.6 L241.5 559.5 L241.5 559.5 L241.6 559.4 L241.7 559.3 L241.7 559.3 L241.9 559.1 L241.9 559.1 L242 558.9 L242.1 558.9 L242.2 558.7 L242.2 558.6 L242.3 558.5 L242.4 558.4 L242.5 558.2 L242.5 558.1 L242.6 558 L242.6 557.8 L242.7 557.7 L242.7 557.5 L242.8 557.4 L242.8 557.2 L242.8 557.1 L242.9 556.9 L242.9 556.7 L242.9 556.5 L243 556.4 L243 556.2 L243 556 L243 555.8 L243 555.7 L243 555.4 L243 555.3 L243 555.1 L243 555 L243 554.7 L243 554.6 L243 554.3 L242.9 554.2 L242.9 553.9 L242.9 553.9 L242.9 553.7 L242.9 553.4 L243 553.1 L243.1 552.9 L243.2 552.6 L243.4 552.4 L256.5 538.7 L256.7 538.5 L256.8 538.4 L257 538.4 L257.2 538.4 L257.4 538.4 L257.6 538.6 L257.7 538.7 L257.7 538.8 L258.4 539.8 L258.4 539.9 L259.1 540.8 L259.2 540.9 L259.9 541.8 L260 541.8 L260.8 542.6 L260.8 542.7 L261.6 543.5 L261.7 543.5 L262.5 544.2 L262.6 544.2 L263.5 544.9 L263.6 544.9 L264.5 545.4 L264.5 545.5 L265.5 546 L265.5 546 L266.5 546.4 L266.6 546.4 L267.6 546.7 L267.7 546.7 L268.7 547 L268.7 547 L269.8 547.2 L269.8 547.2 L270.9 547.2 L271 547.3 L272 547.3 L272.1 547.3 L273.2 547.2 L273.2 547.2 L273.4 547.2 L273.6 547.2 L273.7 547.4 L273.9 547.5 L274 547.7 L274 548 L274 548.2 L274 569.2Z" fill="none" stroke="#000" stroke-width="2" />
<path d="M271.5 569.8 L271.5 570 L271.5 570.3 L271.4 570.6 L271.2 570.8 L271.1 571 L270.9 571.1 L270.9 571.2 L270.7 571.3 L270.6 571.4 L270.4 571.5 L270.4 571.6 L270.2 571.7 L270.1 571.8 L269.9 572 L269.9 572 L269.7 572.2 L269.7 572.3 L269.5 572.5 L269.4 572.6 L269.3 572.7 L269.3 572.8 L269.1 573 L269.1 573.1 L269 573.3 L268.9 573.4 L268.8 573.5 L268.8 573.7 L268.7 573.8 L268.6 574 L268.6 574.1 L268.5 574.3 L268.5 574.4 L268.5 574.6 L268.4 574.7 L268.4 574.8 L268.4 574.9 L268.3 575.1 L268.3 575.2 L268.3 575.4 L268.3 575.5 L268.3 575.7 L268.3 575.8 L268.3 576 L268.4 576.1 L268.4 576.1 L268.4 576.3 L268.4 576.5 L268.3 576.8 L268.2 577 L268.2 577.1" fill="none" stroke="#111" stroke-width="1" />
<path d="M251.7 567.3 L251.5 567.3 L251.5 567.3 L251.3 567.4 L251.2 567.4 L251 567.4 L250.9 567.4 L250.7 567.4 L250.6 567.5 L250.5 567.5 L250.4 567.5 L250.2 567.6 L250.1 567.6 L250 567.7 L249.9 567.8 L249.7 567.8 L249.6 567.9 L249.5 568 L249.4 568.1 L249.3 568.2 L249.2 568.2 L249.1 568.3 L249 568.4 L248.9 568.5 L248.8 568.6 L248.7 568.7 L248.6 568.9 L248.6 568.9 L248.5 569.1 L248.4 569.2 L248.3 569.3 L248.3 569.4 L248.2 569.6" fill="none" stroke="#111" stroke-width="1" />
<path d="M255.6 539.9 L255.9 540.4 L255.9 540.5 L256.6 541.4 L256.7 541.5 L257.4 542.4 L257.5 542.4 L258.3 543.2 L258.3 543.3 L259.1 544.1 L259.2 544.1 L260 544.8 L260.1 544.8 L261 545.5 L261.1 545.5 L262 546 L262 546.1 L263 546.6 L263 546.6 L264 547 L264.1 547 L265.1 547.3 L265.2 547.3 L266.2 547.6 L266.2 547.6 L267.3 547.8 L267.3 547.8 L268.4 547.8 L268.5 547.9 L269.5 547.9 L269.6 547.9 L270.7 547.8 L270.7 547.8 L270.9 547.8 L271.1 547.8 L271.2 548 L271.4 548.1 L271.5 548.3 L271.5 548.6 L271.5 548.8 L271.5 569.8" fill="none" stroke="#111" stroke-width="1" />
<path d="M273.4 463.3 L273.6 463.4 L273.7 463.5 L273.9 463.7 L274 463.9 L274 464.1 L274 464.4 L274 485.3 L274 485.6 L274 485.8 L273.9 486.1 L273.7 486.3 L273.6 486.5 L273.4 486.7 L273.2 486.8 L273.2 486.8 L272.1 487.3 L272 487.3 L271 487.8 L270.9 487.9 L269.8 488.5 L269.8 488.5 L268.7 489.2 L268.7 489.3 L267.7 490 L267.6 490.1 L266.6 490.9 L266.5 490.9 L265.5 491.8 L265.5 491.9 L264.5 492.8 L264.5 492.9 L263.6 493.9 L263.5 494 L262.6 495.1 L262.5 495.1 L261.7 496.3 L261.6 496.3 L260.8 497.5 L260.8 497.6 L260 498.8 L259.9 498.9 L259.2 500.2 L259.1 500.2 L258.4 501.6 L258.4 501.6 L257.7 503 L257.7 503.1 L257.6 503.3 L257.4 503.5 L257.2 503.6 L257 503.7 L256.8 503.8 L256.7 503.8 L256.5 503.7 L243.4 496.6 L243.2 496.5 L243.1 496.3 L243 496.1 L242.9 495.8 L242.9 495.6 L242.9 495.3 L242.9 495.3 L242.9 495 L243 494.9 L243 494.6 L243 494.5 L243 494.2 L243 494.1 L243 493.8 L243 493.7 L243 493.5 L243 493.4 L243 493.1 L243 493 L243 492.8 L242.9 492.7 L242.9 492.5 L242.9 492.4 L242.8 492.2 L242.8 492.1 L242.8 491.9 L242.7 491.8 L242.7 491.7 L242.6 491.6 L242.6 491.4 L242.5 491.3 L242.5 491.2 L242.4 491.1 L242.3 491 L242.2 490.9 L242.2 490.9 L242.1 490.8 L242 490.7 L241.9 490.7 L241.9 490.6 L241.7 490.6 L241.7 490.5 L241.6 490.5 L241.5 490.5 L241.5 490.5 L241.3 490.4 L241.2 490.3 L241.1 490.2 L241 490 L240.9 489.8 L240.9 489.5 L240.9 489.3 L240.9 489.1 L241 488.8 L241.1 488.6 L241.3 488.1 L241.3 488.1 L242.2 486.3 L242.2 486.2 L243.2 484.4 L243.2 484.4 L244.2 482.7 L244.3 482.6 L245.3 480.9 L245.3 480.9 L246.4 479.2 L246.5 479.2 L247.6 477.5 L247.6 477.5 L248.7 475.9 L248.8 475.9 L249.1 475.5 L249.2 475.4 L249.4 475.2 L249.5 475.1 L249.7 475.1 L249.9 475.1 L250.1 475.2 L250.2 475.3 L250.3 475.4 L250.4 475.6 L250.5 475.7 L250.5 475.7 L250.5 475.9 L250.6 476 L250.6 476.1 L250.7 476.2 L250.7 476.3 L250.8 476.4 L250.8 476.5 L250.9 476.6 L251 476.7 L251.1 476.8 L251.1 476.8 L251.2 476.9 L251.3 477 L251.4 477 L251.5 477.1 L251.6 477.1 L251.7 477.2 L251.8 477.2 L251.9 477.2 L252 477.3 L252.1 477.3 L252.2 477.3 L252.4 477.3 L252.5 477.3 L252.6 477.3 L252.7 477.3 L252.9 477.3 L253 477.2 L253.1 477.2 L253.2 477.2 L253.4 477.1 L253.5 477.1 L253.7 477 L253.8 477 L254 476.9 L254 476.9 L254.3 476.8 L254.3 476.7 L254.5 476.6 L254.6 476.6 L254.8 476.4 L254.9 476.4 L255.1 476.2 L255.2 476.2 L255.4 476 L255.4 476 L255.7 475.8 L255.7 475.7 L255.9 475.5 L256 475.5 L256.2 475.2 L256.3 475.2 L256.5 475 L256.5 474.9 L256.7 474.7 L256.8 474.6 L257 474.4 L257 474.3 L257.2 474 L257.3 474 L257.4 473.7 L257.5 473.6 L257.7 473.4 L257.7 473.3 L257.9 473 L257.9 473 L258 472.7 L258.1 472.6 L258.2 472.3 L258.3 472.2 L258.4 472 L258.4 471.9 L258.5 471.6 L258.5 471.5 L258.6 471.3 L258.7 471.2 L258.7 471 L258.8 470.8 L258.8 470.6 L258.9 470.5 L258.9 470.3 L258.9 470.1 L259 470 L259 469.8 L259 469.6 L259 469.5 L259 469.3 L259 469.2 L259 469 L259 468.9 L259 468.7 L259 468.6 L259 468.5 L259 468.3 L258.9 468.2 L258.9 468 L258.9 468 L258.8 467.8 L258.8 467.7 L258.7 467.6 L258.7 467.5 L258.6 467.4 L258.5 467.3 L258.5 467.3 L258.5 467.2 L258.4 467 L258.3 466.7 L258.3 466.5 L258.3 466.2 L258.4 466 L258.5 465.8 L258.6 465.5 L258.7 465.4 L258.9 465.2 L259.2 464.9 L259.2 464.9 L260.6 463.8 L260.7 463.8 L262.1 462.8 L262.1 462.8 L263.5 461.8 L263.5 461.8 L265 460.9 L265 460.9 L266.5 460 L266.5 460 L267.9 459.3 L268 459.3 L269.4 458.6 L269.5 458.6 L269.8 458.4 L270 458.4 L270.2 458.3 L270.3 458.4 L270.5 458.5 L270.6 458.6 L270.7 458.8 L270.8 459 L270.9 459.2 L270.9 459.4 L270.9 459.6 L270.9 459.6 L270.8 459.8 L270.8 460 L270.8 460.1 L270.8 460.2 L270.8 460.3 L270.8 460.5 L270.8 460.6 L270.9 460.8 L270.9 460.9 L270.9 461 L271 461.1 L271 461.3 L271 461.4 L271.1 461.5 L271.1 461.6 L271.2 461.8 L271.3 461.9 L271.3 462 L271.4 462.1 L271.5 462.2 L271.6 462.3 L271.6 462.4 L271.8 462.5 L271.8 462.5 L271.9 462.6 L272 462.7 L272.2 462.8 L272.2 462.8 L272.4 462.9 L272.4 463 L272.6 463.1 L272.7 463.1 L272.9 463.2 L272.9 463.2 L273.1 463.2 L273.2 463.3 L273.4 463.3 L273.4 463.3Z" fill="none" stroke="#000" stroke-width="2" />
<path d="M270.9 463.9 L271.1 464 L271.2 464.1 L271.4 464.3 L271.5 464.5 L271.5 464.7 L271.5 465 L271.5 485.9 L271.5 486.2 L271.5 486.4 L271.4 486.7 L271.2 486.9 L271.1 487.1 L270.9 487.3 L270.7 487.4 L270.7 487.4 L269.6 487.9 L269.5 487.9 L268.5 488.4 L268.4 488.5 L267.3 489.1 L267.3 489.1 L266.2 489.8 L266.2 489.9 L265.2 490.6 L265.1 490.7 L264.1 491.5 L264 491.5 L263 492.4 L263 492.5 L262 493.4 L262 493.5 L261.1 494.5 L261 494.6 L260.1 495.7 L260 495.7 L259.2 496.9 L259.1 496.9 L258.3 498.1 L258.3 498.2 L257.5 499.4 L257.4 499.5 L256.7 500.8 L256.6 500.8 L255.9 502.2 L255.9 502.2 L255.6 502.9" fill="none" stroke="#111" stroke-width="1" />
<path d="M248.2 476.9 L248.3 477 L248.3 477.1 L248.4 477.2 L248.5 477.3 L248.6 477.4 L248.6 477.4 L248.7 477.5 L248.8 477.6 L248.9 477.6 L249 477.7 L249.1 477.7 L249.2 477.8 L249.3 477.8 L249.4 477.8 L249.5 477.9 L249.6 477.9 L249.7 477.9 L249.9 477.9 L250 477.9 L250.1 477.9 L250.2 477.9 L250.4 477.9 L250.5 477.8 L250.6 477.8 L250.7 477.8 L250.9 477.7 L251 477.7 L251.2 477.6 L251.3 477.6 L251.5 477.5 L251.5 477.5 L251.6 477.4" fill="none" stroke="#111" stroke-width="1" />
<path d="M268.2 459.4 L268.3 459.6 L268.4 459.8 L268.4 460 L268.4 460.2 L268.4 460.2 L268.3 460.4 L268.3 460.6 L268.3 460.7 L268.3 460.8 L268.3 460.9 L268.3 461.1 L268.3 461.2 L268.4 461.4 L268.4 461.5 L268.4 461.6 L268.5 461.7 L268.5 461.9 L268.5 462 L268.6 462.1 L268.6 462.2 L268.7 462.4 L268.8 462.5 L268.8 462.6 L268.9 462.7 L269 462.8 L269.1 462.9 L269.1 463 L269.3 463.1 L269.3 463.1 L269.4 463.2 L269.5 463.3 L269.7 463.4 L269.7 463.4 L269.9 463.5 L269.9 463.6 L270.1 463.7 L270.2 463.7 L270.4 463.8 L270.4 463.8 L270.6 463.8 L270.7 463.9 L270.9 463.9 L270.9 463.9" fill="none" stroke="#111" stroke-width="1" />
<path d="M309.5 542.3 L309.7 542.4 L309.8 542.5 L309.9 542.6 L310 542.8 L310.1 543 L310.1 543.3 L310.1 543.5 L310.1 543.7 L310 544 L309.9 544.2 L309.7 544.7 L309.7 544.7 L308.8 546.5 L308.8 546.6 L307.8 548.4 L307.8 548.4 L306.8 550.1 L306.7 550.2 L305.7 551.9 L305.7 551.9 L304.6 553.6 L304.5 553.6 L303.4 555.3 L303.4 555.3 L302.3 556.9 L302.2 556.9 L301.9 557.3 L301.8 557.4 L301.6 557.6 L301.5 557.7 L301.3 557.7 L301.1 557.7 L300.9 557.6 L300.8 557.5 L300.7 557.4 L300.6 557.2 L300.5 557.1 L300.5 557.1 L300.5 556.9 L300.4 556.8 L300.4 556.7 L300.3 556.6 L300.3 556.5 L300.2 556.4 L300.2 556.3 L300.1 556.2 L300 556.1 L299.9 556 L299.9 556 L299.8 555.9 L299.7 555.8 L299.6 555.8 L299.5 555.7 L299.4 555.7 L299.3 555.6 L299.2 555.6 L299.1 555.6 L299 555.5 L298.9 555.5 L298.8 555.5 L298.6 555.5 L298.5 555.5 L298.4 555.5 L298.3 555.5 L298.1 555.5 L298 555.6 L297.9 555.6 L297.8 555.6 L297.6 555.7 L297.5 555.7 L297.3 555.8 L297.2 555.8 L297 555.9 L297 555.9 L296.7 556 L296.7 556.1 L296.5 556.2 L296.4 556.2 L296.2 556.4 L296.1 556.4 L295.9 556.6 L295.8 556.6 L295.6 556.8 L295.6 556.8 L295.3 557 L295.3 557.1 L295.1 557.3 L295 557.3 L294.8 557.6 L294.7 557.6 L294.5 557.8 L294.5 557.9 L294.3 558.1 L294.2 558.2 L294 558.4 L294 558.5 L293.8 558.8 L293.7 558.8 L293.6 559.1 L293.5 559.2 L293.3 559.4 L293.3 559.5 L293.1 559.8 L293.1 559.8 L293 560.1 L292.9 560.2 L292.8 560.5 L292.7 560.6 L292.6 560.8 L292.6 560.9 L292.5 561.2 L292.5 561.3 L292.4 561.5 L292.3 561.6 L292.3 561.8 L292.2 562 L292.2 562.2 L292.1 562.3 L292.1 562.5 L292.1 562.7 L292 562.8 L292 563 L292 563.2 L292 563.3 L292 563.5 L292 563.6 L292 563.8 L292 563.9 L292 564.1 L292 564.2 L292 564.3 L292 564.5 L292.1 564.6 L292.1 564.8 L292.1 564.8 L292.2 565 L292.2 565.1 L292.3 565.2 L292.3 565.3 L292.4 565.4 L292.5 565.5 L292.5 565.5 L292.5 565.6 L292.6 565.8 L292.7 566.1 L292.7 566.3 L292.7 566.6 L292.6 566.8 L292.5 567 L292.4 567.3 L292.3 567.4 L292.1 567.6 L291.8 567.9 L291.8 567.9 L290.4 569 L290.3 569 L288.9 570 L288.9 570 L287.5 571 L287.5 571 L286 571.9 L286 571.9 L284.5 572.8 L284.5 572.8 L283.1 573.5 L283 573.5 L281.6 574.2 L281.5 574.2 L281.2 574.4 L281 574.4 L280.8 574.5 L280.7 574.4 L280.5 574.3 L280.4 574.2 L280.3 574 L280.2 573.8 L280.1 573.6 L280.1 573.4 L280.1 573.2 L280.1 573.2 L280.2 573 L280.2 572.8 L280.2 572.7 L280.2 572.6 L280.2 572.5 L280.2 572.3 L280.2 572.2 L280.1 572 L280.1 571.9 L280.1 571.8 L280 571.7 L280 571.5 L280 571.4 L279.9 571.3 L279.9 571.2 L279.8 571 L279.7 570.9 L279.7 570.8 L279.6 570.7 L279.5 570.6 L279.4 570.5 L279.4 570.4 L279.2 570.3 L279.2 570.3 L279.1 570.2 L279 570.1 L278.8 570 L278.8 570 L278.6 569.9 L278.6 569.8 L278.4 569.7 L278.3 569.7 L278.1 569.6 L278.1 569.6 L277.9 569.6 L277.8 569.5 L277.6 569.5 L277.6 569.5 L277.4 569.4 L277.3 569.3 L277.1 569.1 L277 568.9 L277 568.7 L277 568.4 L277 547.5 L277 547.2 L277 547 L277.1 546.7 L277.3 546.5 L277.4 546.3 L277.6 546.1 L277.8 546 L277.8 546 L278.9 545.5 L279 545.5 L280 545 L280.1 544.9 L281.2 544.3 L281.2 544.3 L282.3 543.6 L282.3 543.5 L283.3 542.8 L283.4 542.7 L284.4 541.9 L284.5 541.9 L285.5 541 L285.5 540.9 L286.5 540 L286.5 539.9 L287.4 538.9 L287.5 538.8 L288.4 537.7 L288.5 537.7 L289.3 536.5 L289.4 536.5 L290.2 535.3 L290.2 535.2 L291 534 L291.1 533.9 L291.8 532.6 L291.9 532.6 L292.6 531.2 L292.6 531.2 L293.3 529.8 L293.3 529.7 L293.4 529.5 L293.6 529.3 L293.8 529.2 L294 529.1 L294.2 529 L294.3 529 L294.5 529.1 L307.6 536.2 L307.8 536.3 L307.9 536.5 L308 536.7 L308.1 537 L308.1 537.2 L308.1 537.5 L308.1 537.5 L308.1 537.8 L308 537.9 L308 538.2 L308 538.3 L308 538.6 L308 538.7 L308 539 L308 539.1 L308 539.3 L308 539.4 L308 539.7 L308 539.8 L308 540 L308.1 540.1 L308.1 540.3 L308.1 540.4 L308.2 540.6 L308.2 540.7 L308.2 540.9 L308.3 541 L308.3 541.1 L308.4 541.2 L308.4 541.4 L308.5 541.5 L308.5 541.6 L308.6 541.7 L308.7 541.8 L308.8 541.9 L308.8 541.9 L308.9 542 L309 542.1 L309.1 542.1 L309.1 542.2 L309.3 542.2 L309.3 542.3 L309.4 542.3 L309.5 542.3 L309.5 542.3Z" fill="none" stroke="#000" stroke-width="2" />
<path d="M307 542.9 L307.2 543 L307.3 543.1 L307.4 543.2 L307.5 543.4 L307.6 543.6 L307.6 543.9 L307.6 544.1 L307.6 544.3 L307.5 544.6 L307.4 544.8 L307.2 545.3 L307.2 545.3 L306.3 547.1 L306.3 547.2 L305.3 549 L305.3 549 L304.3 550.7 L304.2 550.8 L303.2 552.5 L303.2 552.5 L302.1 554.2 L302 554.2 L300.9 555.9 L300.9 555.9 L300.5 556.4" fill="none" stroke="#111" stroke-width="1" />
<path d="M296.2 556.1 L296.1 556.1 L296 556.1 L295.9 556.1 L295.8 556.1 L295.6 556.1 L295.5 556.2 L295.4 556.2 L295.3 556.2 L295.1 556.3 L295 556.3 L294.8 556.4 L294.7 556.4 L294.5 556.5 L294.5 556.5 L294.2 556.6 L294.2 556.7 L294 556.8 L293.9 556.8 L293.7 557 L293.6 557 L293.4 557.2 L293.3 557.2 L293.1 557.4 L293.1 557.4 L292.8 557.6 L292.8 557.7 L292.6 557.9 L292.5 557.9 L292.3 558.2 L292.2 558.2 L292 558.4 L292 558.5 L291.8 558.7 L291.7 558.8 L291.5 559 L291.5 559.1 L291.3 559.4 L291.2 559.4 L291.1 559.7 L291 559.8 L290.8 560 L290.8 560.1 L290.6 560.4 L290.6 560.4 L290.5 560.7 L290.4 560.8 L290.3 561.1 L290.2 561.2 L290.1 561.4 L290.1 561.5 L290 561.8 L290 561.9 L289.9 562.1 L289.8 562.2 L289.8 562.4 L289.7 562.6 L289.7 562.8 L289.6 562.9 L289.6 563.1 L289.6 563.3 L289.5 563.4 L289.5 563.6 L289.5 563.8 L289.5 563.9 L289.5 564.1 L289.5 564.2 L289.5 564.4 L289.5 564.5 L289.5 564.7 L289.5 564.8 L289.5 564.9 L289.5 565.1 L289.6 565.2 L289.6 565.4 L289.6 565.4 L289.7 565.6 L289.7 565.7 L289.8 565.8 L289.8 565.9 L289.9 566 L290 566.1 L290 566.1 L290 566.2 L290.1 566.4 L290.2 566.7 L290.2 566.9 L290.2 567.2 L290.1 567.4 L290 567.6 L289.9 567.9 L289.8 568 L289.6 568.2 L289.3 568.5 L289.3 568.5 L287.9 569.6 L287.8 569.6 L286.4 570.6 L286.4 570.6 L285 571.6 L285 571.6 L283.5 572.5 L283.5 572.5 L282 573.4 L282 573.4 L280.6 574.1" fill="none" stroke="#111" stroke-width="1" />
<path d="M293.2 530.3 L305.1 536.8 L305.3 536.9 L305.4 537.1 L305.5 537.3 L305.6 537.6 L305.6 537.8 L305.6 538.1 L305.6 538.1 L305.6 538.4 L305.5 538.5 L305.5 538.8 L305.5 538.9 L305.5 539.2 L305.5 539.3 L305.5 539.6 L305.5 539.7 L305.5 539.9 L305.5 540 L305.5 540.3 L305.5 540.4 L305.5 540.6 L305.6 540.7 L305.6 540.9 L305.6 541 L305.7 541.2 L305.7 541.3 L305.7 541.5 L305.8 541.6 L305.8 541.7 L305.9 541.8 L305.9 542 L306 542.1 L306 542.2 L306.1 542.3 L306.2 542.4 L306.3 542.5 L306.3 542.5 L306.4 542.6 L306.5 542.7 L306.6 542.7 L306.6 542.8 L306.8 542.8 L306.8 542.9 L306.9 542.9 L307 542.9 L307 542.9" fill="none" stroke="#111" stroke-width="1" />
<path d="M309.9 471.2 L310 471.4 L310.1 471.6 L310.1 471.8 L310.1 472.1 L310.1 472.3 L310 472.6 L309.9 472.8 L309.8 473 L309.7 473.2 L309.5 473.3 L309.5 473.3 L309.4 473.4 L309.3 473.5 L309.3 473.5 L309.1 473.7 L309.1 473.7 L309 473.9 L308.9 473.9 L308.8 474.1 L308.8 474.2 L308.7 474.3 L308.6 474.4 L308.5 474.6 L308.5 474.7 L308.4 474.8 L308.4 475 L308.3 475.1 L308.3 475.3 L308.2 475.4 L308.2 475.6 L308.2 475.7 L308.1 475.9 L308.1 476.1 L308.1 476.3 L308 476.4 L308 476.6 L308 476.8 L308 477 L308 477.1 L308 477.4 L308 477.5 L308 477.7 L308 477.8 L308 478.1 L308 478.2 L308 478.5 L308.1 478.6 L308.1 478.9 L308.1 478.9 L308.1 479.1 L308.1 479.4 L308 479.7 L307.9 479.9 L307.8 480.2 L307.6 480.4 L294.5 494.1 L294.3 494.3 L294.2 494.4 L294 494.4 L293.8 494.4 L293.6 494.4 L293.4 494.2 L293.3 494.1 L293.3 494 L292.6 493 L292.6 492.9 L291.9 492 L291.8 491.9 L291.1 491 L291 491 L290.2 490.2 L290.2 490.1 L289.4 489.3 L289.3 489.3 L288.5 488.6 L288.4 488.6 L287.5 487.9 L287.4 487.9 L286.5 487.4 L286.5 487.3 L285.5 486.8 L285.5 486.8 L284.5 486.4 L284.4 486.4 L283.4 486.1 L283.3 486.1 L282.3 485.8 L282.3 485.8 L281.2 485.6 L281.2 485.6 L280.1 485.6 L280 485.5 L279 485.5 L278.9 485.5 L277.8 485.6 L277.8 485.6 L277.6 485.6 L277.4 485.6 L277.3 485.4 L277.1 485.3 L277 485.1 L277 484.8 L277 484.6 L277 463.6 L277 463.4 L277 463.1 L277.1 462.8 L277.3 462.6 L277.4 462.4 L277.6 462.3 L277.6 462.2 L277.8 462.1 L277.9 462 L278.1 461.9 L278.1 461.8 L278.3 461.7 L278.4 461.6 L278.6 461.4 L278.6 461.4 L278.8 461.2 L278.8 461.1 L279 460.9 L279.1 460.8 L279.2 460.7 L279.2 460.6 L279.4 460.4 L279.4 460.3 L279.5 460.1 L279.6 460 L279.7 459.9 L279.7 459.7 L279.8 459.6 L279.9 459.4 L279.9 459.3 L280 459.1 L280 459 L280 458.8 L280.1 458.7 L280.1 458.6 L280.1 458.5 L280.2 458.3 L280.2 458.2 L280.2 458 L280.2 457.9 L280.2 457.7 L280.2 457.6 L280.2 457.4 L280.1 457.3 L280.1 457.3 L280.1 457.1 L280.1 456.9 L280.2 456.6 L280.3 456.4 L280.4 456.1 L280.5 456 L280.7 455.8 L280.8 455.7 L281 455.6 L281.2 455.5 L281.5 455.5 L281.6 455.5 L283 455.5 L283.1 455.5 L284.5 455.5 L284.5 455.5 L286 455.6 L286 455.6 L287.5 455.8 L287.5 455.8 L288.9 456 L288.9 456 L290.3 456.3 L290.4 456.3 L291.8 456.7 L291.8 456.7 L292.1 456.8 L292.3 456.9 L292.4 457 L292.5 457.2 L292.6 457.4 L292.7 457.6 L292.7 457.8 L292.7 458.1 L292.6 458.3 L292.5 458.6 L292.5 458.8 L292.5 458.8 L292.4 458.9 L292.3 459 L292.3 459.1 L292.2 459.3 L292.2 459.4 L292.1 459.6 L292.1 459.7 L292.1 459.9 L292 460 L292 460.1 L292 460.3 L292 460.4 L292 460.6 L292 460.7 L292 460.9 L292 461 L292 461.2 L292 461.3 L292 461.5 L292 461.6 L292.1 461.8 L292.1 461.9 L292.1 462.1 L292.2 462.2 L292.2 462.4 L292.3 462.5 L292.3 462.7 L292.4 462.8 L292.5 463 L292.5 463.1 L292.6 463.3 L292.6 463.4 L292.7 463.6 L292.8 463.6 L292.9 463.8 L293 463.9 L293.1 464.1 L293.1 464.1 L293.3 464.3 L293.3 464.4 L293.5 464.5 L293.6 464.6 L293.7 464.8 L293.8 464.8 L294 465 L294 465 L294.2 465.2 L294.3 465.2 L294.5 465.3 L294.5 465.4 L294.7 465.5 L294.8 465.5 L295 465.6 L295.1 465.6 L295.3 465.7 L295.3 465.8 L295.6 465.8 L295.6 465.9 L295.8 465.9 L295.9 465.9 L296.1 466 L296.2 466 L296.4 466 L296.5 466 L296.7 466.1 L296.7 466.1 L297 466.1 L297 466.1 L297.2 466 L297.3 466 L297.5 466 L297.6 466 L297.8 466 L297.9 465.9 L298 465.9 L298.1 465.9 L298.3 465.8 L298.4 465.8 L298.5 465.7 L298.6 465.6 L298.8 465.6 L298.9 465.5 L299 465.4 L299.1 465.3 L299.2 465.2 L299.3 465.2 L299.4 465.1 L299.5 465 L299.6 464.9 L299.7 464.8 L299.8 464.7 L299.9 464.5 L299.9 464.5 L300 464.3 L300.1 464.2 L300.2 464.1 L300.2 464 L300.3 463.8 L300.3 463.7 L300.4 463.5 L300.4 463.4 L300.5 463.3 L300.5 463.1 L300.5 463.1 L300.6 462.9 L300.7 462.7 L300.8 462.5 L300.9 462.3 L301.1 462.2 L301.3 462.1 L301.5 462.1 L301.6 462.1 L301.8 462.1 L301.9 462.2 L302.2 462.4 L302.3 462.4 L303.4 463.4 L303.4 463.4 L304.5 464.5 L304.6 464.5 L305.7 465.7 L305.7 465.7 L306.7 466.9 L306.8 466.9 L307.8 468.1 L307.8 468.2 L308.8 469.5 L308.8 469.5 L309.7 470.8 L309.7 470.9 L309.9 471.2Z" fill="none" stroke="#000" stroke-width="2" />
<path d="M307.4 471.8 L307.5 472 L307.6 472.2 L307.6 472.4 L307.6 472.7 L307.6 472.9 L307.5 473.2 L307.4 473.4 L307.3 473.6 L307.2 473.8 L307 473.9 L307 473.9 L306.9 474 L306.8 474.1 L306.8 474.1 L306.6 474.3 L306.6 474.3 L306.5 474.5 L306.4 474.5 L306.3 474.7 L306.3 474.8 L306.2 474.9 L306.1 475 L306 475.2 L306 475.3 L305.9 475.4 L305.9 475.6 L305.8 475.7 L305.8 475.9 L305.7 476 L305.7 476.2 L305.7 476.3 L305.6 476.5 L305.6 476.7 L305.6 476.9 L305.5 477 L305.5 477.2 L305.5 477.4 L305.5 477.6 L305.5 477.7 L305.5 478 L305.5 478.1 L305.5 478.3 L305.5 478.4 L305.5 478.7 L305.5 478.8 L305.5 479.1 L305.6 479.2 L305.6 479.5 L305.6 479.5 L305.6 479.7 L305.6 480 L305.5 480.3 L305.4 480.5 L305.3 480.8 L305.1 481 L293.2 493.5" fill="none" stroke="#111" stroke-width="1" />
<path d="M280.7 456.1 L282 456.1 L282 456.1 L283.5 456.2 L283.5 456.2 L285 456.4 L285 456.4 L286.4 456.6 L286.4 456.6 L287.8 456.9 L287.9 456.9 L289.3 457.3 L289.3 457.3 L289.6 457.4 L289.8 457.5 L289.9 457.6 L290 457.8 L290.1 458 L290.2 458.2 L290.2 458.4 L290.2 458.7 L290.1 458.9 L290 459.2 L290 459.4 L290 459.4 L289.9 459.5 L289.8 459.6 L289.8 459.7 L289.7 459.9 L289.7 460 L289.6 460.2 L289.6 460.3 L289.6 460.5 L289.5 460.6 L289.5 460.7 L289.5 460.9 L289.5 461 L289.5 461.2 L289.5 461.3 L289.5 461.5 L289.5 461.6 L289.5 461.8 L289.5 461.9 L289.5 462.1 L289.5 462.2 L289.6 462.4 L289.6 462.5 L289.6 462.7 L289.7 462.8 L289.7 463 L289.8 463.1 L289.8 463.3 L289.9 463.4 L290 463.6 L290 463.7 L290.1 463.9 L290.1 464 L290.2 464.2 L290.3 464.2 L290.4 464.4 L290.5 464.5 L290.6 464.7 L290.6 464.7 L290.8 464.9 L290.8 465 L291 465.1 L291.1 465.2 L291.2 465.4 L291.3 465.4 L291.5 465.6 L291.5 465.6 L291.7 465.8 L291.8 465.8 L292 465.9 L292 466 L292.2 466.1 L292.3 466.1 L292.5 466.2 L292.6 466.2 L292.8 466.3 L292.8 466.4 L293.1 466.4 L293.1 466.5 L293.3 466.5 L293.4 466.5 L293.6 466.6 L293.7 466.6 L293.9 466.6 L294 466.6 L294.2 466.7 L294.2 466.7 L294.5 466.7 L294.5 466.7 L294.7 466.6 L294.8 466.6 L295 466.6 L295.1 466.6 L295.3 466.6 L295.4 466.5 L295.5 466.5 L295.6 466.5 L295.8 466.4 L295.9 466.4 L296 466.3 L296.1 466.3" fill="none" stroke="#111" stroke-width="1" />
<path d="M300.5 463.7 L300.9 464 L300.9 464 L302 465.1 L302.1 465.1 L303.2 466.3 L303.2 466.3 L304.2 467.5 L304.3 467.5 L305.3 468.7 L305.3 468.8 L306.3 470.1 L306.3 470.1 L307.2 471.4 L307.2 471.5 L307.4 471.8" fill="none" stroke="#111" stroke-width="1" />
<path d="M318.6 497.7 L318.6 497.9 L318.5 498.2 L318.5 498.4 L318.4 498.7 L318.3 498.9 L318.1 499.1 L318 499.2 L317.8 499.3 L317.6 499.4 L317.5 499.4 L317.5 499.4 L317.4 499.4 L317.2 499.4 L317.2 499.4 L317 499.5 L317 499.5 L316.8 499.5 L316.8 499.6 L316.6 499.6 L316.6 499.7 L316.4 499.8 L316.4 499.8 L316.2 499.9 L316.2 500 L316.1 500.1 L316 500.2 L315.9 500.3 L315.8 500.4 L315.7 500.5 L315.6 500.6 L315.5 500.8 L315.4 500.9 L315.4 501 L315.3 501.2 L315.2 501.3 L315.1 501.5 L315 501.6 L314.9 501.8 L314.9 501.9 L314.8 502.2 L314.8 502.3 L314.7 502.5 L314.6 502.6 L314.6 502.9 L314.5 503 L314.4 503.3 L314.4 503.4 L314.3 503.7 L314.3 503.8 L314.3 504.1 L314.2 504.2 L314.2 504.5 L314.2 504.6 L314.1 504.9 L314.1 505 L314.1 505.4 L314.1 505.5 L314 505.8 L314 505.9 L314 506.2 L314 506.3 L314 506.6 L314 506.7 L314 507.1 L314 507.2 L314 507.5 L314 507.6 L314.1 507.9 L314.1 508 L314.1 508.3 L314.1 508.4 L314.2 508.7 L314.2 508.8 L314.2 509.1 L314.3 509.1 L314.3 509.4 L314.3 509.5 L314.4 509.8 L314.4 509.9 L314.5 510.1 L314.6 510.2 L314.6 510.4 L314.7 510.5 L314.8 510.7 L314.8 510.8 L314.9 511 L314.9 511.1 L315 511.2 L315.1 511.3 L315.2 511.5 L315.3 511.5 L315.4 511.7 L315.4 511.8 L315.5 511.9 L315.6 511.9 L315.7 512 L315.8 512.1 L315.9 512.1 L316 512.2 L316.1 512.2 L316.2 512.3 L316.2 512.3 L316.4 512.4 L316.4 512.4 L316.6 512.4 L316.6 512.4 L316.8 512.4 L316.8 512.4 L317 512.4 L317 512.4 L317.2 512.3 L317.2 512.3 L317.4 512.3 L317.5 512.2 L317.5 512.2 L317.6 512.2 L317.8 512.2 L318 512.2 L318.1 512.2 L318.3 512.4 L318.4 512.5 L318.5 512.7 L318.5 512.9 L318.6 513.1 L318.6 513.4 L318.5 513.9 L318.5 513.9 L318.3 516 L318.3 516 L318 518.1 L318 518.2 L317.6 520.3 L317.6 520.3 L317.3 522.4 L317.2 522.4 L316.8 524.5 L316.8 524.5 L316.3 526.6 L316.3 526.6 L315.8 528.7 L315.8 528.7 L315.6 529.2 L315.5 529.4 L315.4 529.7 L315.3 529.8 L315.1 530 L315 530.1 L314.8 530.2 L314.6 530.2 L314.4 530.2 L314.3 530.1 L314.2 530.1 L314.2 530.1 L314.1 530 L314 529.9 L313.9 529.9 L313.8 529.8 L313.8 529.8 L313.6 529.7 L313.6 529.7 L313.4 529.7 L313.4 529.7 L313.2 529.7 L313.2 529.7 L313 529.7 L312.9 529.7 L312.8 529.7 L312.7 529.7 L312.6 529.8 L312.5 529.8 L312.4 529.9 L312.3 529.9 L312.2 530 L312 530.1 L311.9 530.1 L311.8 530.2 L311.7 530.3 L311.6 530.4 L311.5 530.5 L311.3 530.6 L311.3 530.7 L311.1 530.8 L311 530.9 L310.9 531.1 L310.8 531.1 L310.6 531.3 L310.6 531.4 L310.4 531.6 L310.4 531.7 L310.2 532 L310.2 532 L310 532.2 L309.9 532.3 L309.7 532.4 L309.5 532.5 L309.3 532.5 L309.1 532.4 L296 525.2 L295.8 525.1 L295.7 525 L295.6 524.7 L295.5 524.5 L295.5 524.2 L295.5 524 L295.6 523.7 L295.6 523.6 L296 522.2 L296 522.1 L296.4 520.6 L296.4 520.5 L296.7 519 L296.8 518.8 L297 517.3 L297 517.2 L297.2 515.7 L297.2 515.6 L297.4 514.1 L297.4 514 L297.5 512.5 L297.5 512.4 L297.5 510.9 L297.5 510.8 L297.5 509.3 L297.5 509.2 L297.4 507.8 L297.4 507.7 L297.2 506.2 L297.2 506.1 L297 504.7 L297 504.6 L296.8 503.2 L296.7 503.1 L296.4 501.8 L296.4 501.7 L296 500.4 L296 500.3 L295.6 499 L295.6 499 L295.5 498.7 L295.5 498.5 L295.5 498.2 L295.6 497.9 L295.7 497.7 L295.8 497.4 L296 497.2 L309.1 483.5 L309.3 483.3 L309.5 483.2 L309.7 483.2 L309.9 483.2 L310 483.2 L310.2 483.4 L310.2 483.4 L310.4 483.5 L310.4 483.6 L310.6 483.7 L310.6 483.7 L310.8 483.9 L310.9 483.9 L311 484 L311.1 484 L311.3 484.1 L311.3 484.1 L311.5 484.2 L311.6 484.2 L311.7 484.3 L311.8 484.3 L311.9 484.3 L312 484.3 L312.2 484.3 L312.3 484.3 L312.4 484.3 L312.5 484.3 L312.6 484.3 L312.7 484.3 L312.8 484.3 L312.9 484.2 L313 484.2 L313.2 484.1 L313.2 484.1 L313.4 484 L313.4 484 L313.6 483.9 L313.6 483.8 L313.8 483.7 L313.8 483.7 L313.9 483.5 L314 483.5 L314.1 483.3 L314.2 483.2 L314.2 483.2 L314.3 483.1 L314.4 482.9 L314.6 482.8 L314.8 482.8 L315 482.8 L315.1 482.8 L315.3 482.9 L315.4 483 L315.5 483.2 L315.6 483.4 L315.8 483.8 L315.8 483.8 L316.3 485.6 L316.3 485.6 L316.8 487.4 L316.8 487.5 L317.2 489.3 L317.3 489.4 L317.6 491.3 L317.6 491.3 L318 493.2 L318 493.2 L318.3 495.2 L318.3 495.2 L318.5 497.2 L318.5 497.2 L318.6 497.7Z" fill="none" stroke="#000" stroke-width="2" />
<path d="M316.1 498.3 L316.1 498.5 L316 498.8 L316 499 L315.9 499.3 L315.8 499.5 L315.6 499.7 L315.5 499.8 L315.3 499.9 L315.1 500 L315 500 L315 500 L314.9 500 L314.7 500 L314.7 500 L314.5 500.1 L314.5 500.1 L314.3 500.1 L314.3 500.2 L314.1 500.2 L314.1 500.3 L313.9 500.4 L313.9 500.4 L313.7 500.5 L313.7 500.6 L313.6 500.7 L313.5 500.8 L313.4 500.9 L313.3 501 L313.2 501.1 L313.1 501.2 L313 501.4 L312.9 501.5 L312.9 501.6 L312.8 501.8 L312.7 501.9 L312.6 502.1 L312.5 502.2 L312.4 502.4 L312.4 502.5 L312.3 502.8 L312.3 502.9 L312.2 503.1 L312.1 503.2 L312.1 503.5 L312 503.6 L311.9 503.9 L311.9 504 L311.8 504.3 L311.8 504.4 L311.8 504.7 L311.7 504.8 L311.7 505.1 L311.7 505.2 L311.6 505.5 L311.6 505.6 L311.6 506 L311.6 506.1 L311.5 506.4 L311.5 506.5 L311.5 506.8 L311.5 506.9 L311.5 507.2 L311.5 507.3 L311.5 507.7 L311.5 507.8 L311.5 508.1 L311.5 508.2 L311.6 508.5 L311.6 508.6 L311.6 508.9 L311.6 509 L311.7 509.3 L311.7 509.4 L311.7 509.7 L311.8 509.7 L311.8 510 L311.8 510.1 L311.9 510.4 L311.9 510.5 L312 510.7 L312.1 510.8 L312.1 511 L312.2 511.1 L312.3 511.3 L312.3 511.4 L312.4 511.6 L312.4 511.7 L312.5 511.8 L312.6 511.9 L312.7 512.1 L312.8 512.1 L312.9 512.3 L312.9 512.4 L313 512.5 L313.1 512.5 L313.2 512.6 L313.3 512.7 L313.4 512.7 L313.5 512.8 L313.6 512.8 L313.7 512.9 L313.7 512.9 L313.9 513 L313.9 513 L314.1 513 L314.1 513 L314.3 513 L314.3 513 L314.5 513 L314.5 513 L314.7 512.9 L314.7 512.9 L314.9 512.9 L315 512.8 L315 512.8 L315.1 512.8 L315.3 512.8 L315.5 512.8 L315.6 512.8 L315.8 513 L315.9 513.1 L316 513.3 L316 513.5 L316.1 513.7 L316.1 514 L316 514.5 L316 514.5 L315.8 516.6 L315.8 516.6 L315.5 518.7 L315.5 518.8 L315.1 520.9 L315.1 520.9 L314.8 523 L314.7 523 L314.3 525.1 L314.3 525.1 L313.8 527.2 L313.8 527.2 L313.3 529.3 L313.3 529.3 L313.2 529.4" fill="none" stroke="#111" stroke-width="1" />
<path d="M311.2 530.4 L311.1 530.3 L311.1 530.3 L310.9 530.3 L310.9 530.3 L310.7 530.3 L310.7 530.3 L310.5 530.3 L310.4 530.3 L310.3 530.3 L310.2 530.3 L310.1 530.4 L310 530.4 L309.9 530.5 L309.8 530.5 L309.7 530.6 L309.5 530.7 L309.4 530.7 L309.3 530.8 L309.2 530.9 L309.1 531 L309 531.1 L308.8 531.2 L308.8 531.3 L308.6 531.4 L308.5 531.5 L308.4 531.7 L308.4 531.7" fill="none" stroke="#111" stroke-width="1" />
<path d="M308.4 484.5 L308.5 484.6 L308.6 484.6 L308.8 484.7 L308.8 484.7 L309 484.8 L309.1 484.8 L309.2 484.9 L309.3 484.9 L309.4 484.9 L309.5 484.9 L309.7 484.9 L309.8 484.9 L309.9 484.9 L310 484.9 L310.1 484.9 L310.2 484.9 L310.3 484.9 L310.4 484.8 L310.5 484.8 L310.7 484.7 L310.7 484.7 L310.9 484.6 L310.9 484.6 L311.1 484.5 L311.1 484.4 L311.2 484.4" fill="none" stroke="#111" stroke-width="1" />
<path d="M313.3 484.3 L313.3 484.4 L313.3 484.4 L313.8 486.2 L313.8 486.2 L314.3 488 L314.3 488.1 L314.7 489.9 L314.8 490 L315.1 491.9 L315.1 491.9 L315.5 493.8 L315.5 493.8 L315.8 495.8 L315.8 495.8 L316 497.8 L316 497.8 L316.1 498.3" fill="none" stroke="#111" stroke-width="1" />
<path d="M274.5 484.7 L274.5 462.2" fill="none" stroke="#000" stroke-width="4.2" stroke-linecap="butt"/>
<path d="M274.5 548.1 L274.5 570.6" fill="none" stroke="#000" stroke-width="4.2" stroke-linecap="butt"/>
<path d="M275.5 456.6 L275.1 456.8 L274.7 457.2 L274.3 457.6 L274 458.2 L273.9 458.8 L273.8 459.4 L273.9 460 L274 460.5 L274.3 460.9 L274.7 461.2 L275.1 461.3 L275.5 461.3 L275.9 461.1 L276.3 460.8 L276.7 460.3 L277 459.8 L277.1 459.2 L277.2 458.5 L277.1 458 L277 457.4 L276.7 457 L276.3 456.7 L275.9 456.6 L275.5 456.6Z" fill="#fff" stroke="#111" stroke-width="1.2" />
<path d="M254.7 469.6 L254.3 469.8 L253.9 470.1 L253.5 470.6 L253.2 471.1 L253.1 471.7 L253 472.3 L253.1 472.9 L253.2 473.4 L253.5 473.9 L253.9 474.1 L254.3 474.3 L254.7 474.2 L255.1 474 L255.5 473.7 L255.9 473.3 L256.2 472.7 L256.3 472.1 L256.4 471.5 L256.3 470.9 L256.2 470.4 L255.9 470 L255.5 469.7 L255.1 469.6 L254.7 469.6Z" fill="#fff" stroke="#111" stroke-width="1.2" />
<path d="M239.5 494.4 L239 494.6 L238.6 495 L238.3 495.4 L238 496 L237.8 496.6 L237.8 497.2 L237.8 497.8 L238 498.3 L238.3 498.7 L238.6 499 L239 499.1 L239.5 499.1 L239.9 498.9 L240.3 498.6 L240.7 498.1 L240.9 497.6 L241.1 497 L241.2 496.3 L241.1 495.8 L240.9 495.2 L240.7 494.8 L240.3 494.5 L239.9 494.4 L239.5 494.4Z" fill="#fff" stroke="#111" stroke-width="1.2" />
<path d="M233.9 524.6 L233.5 524.8 L233.1 525.1 L232.7 525.5 L232.4 526.1 L232.3 526.7 L232.2 527.3 L232.3 527.9 L232.4 528.4 L232.7 528.8 L233.1 529.1 L233.5 529.2 L233.9 529.2 L234.3 529 L234.7 528.7 L235.1 528.2 L235.4 527.7 L235.5 527.1 L235.6 526.5 L235.5 525.9 L235.4 525.4 L235.1 524.9 L234.7 524.7 L234.3 524.5 L233.9 524.6Z" fill="#fff" stroke="#111" stroke-width="1.2" />
<path d="M239.5 551.9 L239 552.1 L238.6 552.4 L238.3 552.9 L238 553.4 L237.8 554 L237.8 554.6 L237.8 555.2 L238 555.7 L238.3 556.1 L238.6 556.4 L239 556.6 L239.5 556.5 L239.9 556.3 L240.3 556 L240.7 555.5 L240.9 555 L241.1 554.4 L241.2 553.8 L241.1 553.2 L240.9 552.7 L240.7 552.3 L240.3 552 L239.9 551.8 L239.5 551.9Z" fill="#fff" stroke="#111" stroke-width="1.2" />
<path d="M254.7 569.1 L254.3 569.2 L253.9 569.6 L253.5 570 L253.2 570.6 L253.1 571.2 L253 571.8 L253.1 572.4 L253.2 572.9 L253.5 573.3 L253.9 573.6 L254.3 573.7 L254.7 573.7 L255.1 573.5 L255.5 573.2 L255.9 572.7 L256.2 572.2 L256.3 571.6 L256.4 571 L256.3 570.4 L256.2 569.8 L255.9 569.4 L255.5 569.2 L255.1 569 L254.7 569.1Z" fill="#fff" stroke="#111" stroke-width="1.2" />
<path d="M275.5 571.5 L275.1 571.7 L274.7 572 L274.3 572.5 L274 573 L273.9 573.6 L273.8 574.3 L273.9 574.8 L274 575.4 L274.3 575.8 L274.7 576.1 L275.1 576.2 L275.5 576.2 L275.9 576 L276.3 575.6 L276.7 575.2 L277 574.6 L277.1 574 L277.2 573.4 L277.1 572.8 L277 572.3 L276.7 571.9 L276.3 571.6 L275.9 571.5 L275.5 571.5Z" fill="#fff" stroke="#111" stroke-width="1.2" />
<path d="M296.3 558.6 L295.9 558.8 L295.5 559.1 L295.1 559.5 L294.8 560.1 L294.7 560.7 L294.6 561.3 L294.7 561.9 L294.8 562.4 L295.1 562.8 L295.5 563.1 L295.9 563.2 L296.3 563.2 L296.7 563 L297.1 562.7 L297.5 562.2 L297.8 561.7 L297.9 561.1 L298 560.5 L297.9 559.9 L297.8 559.4 L297.5 558.9 L297.1 558.7 L296.7 558.5 L296.3 558.6Z" fill="#fff" stroke="#111" stroke-width="1.2" />
<path d="M311.5 533.7 L311.1 533.9 L310.7 534.2 L310.3 534.7 L310.1 535.2 L309.9 535.8 L309.8 536.5 L309.9 537 L310.1 537.6 L310.3 538 L310.7 538.3 L311.1 538.4 L311.5 538.4 L312 538.2 L312.4 537.8 L312.7 537.4 L313 536.8 L313.2 536.2 L313.2 535.6 L313.2 535 L313 534.5 L312.7 534.1 L312.4 533.8 L312 533.7 L311.5 533.7Z" fill="#fff" stroke="#111" stroke-width="1.2" />
<path d="M317.1 503.6 L316.7 503.8 L316.3 504.1 L315.9 504.6 L315.6 505.1 L315.5 505.7 L315.4 506.3 L315.5 506.9 L315.6 507.4 L315.9 507.9 L316.3 508.1 L316.7 508.3 L317.1 508.2 L317.5 508 L317.9 507.7 L318.3 507.3 L318.6 506.7 L318.7 506.1 L318.8 505.5 L318.7 504.9 L318.6 504.4 L318.3 504 L317.9 503.7 L317.5 503.6 L317.1 503.6Z" fill="#fff" stroke="#111" stroke-width="1.2" />
<path d="M311.5 476.3 L311.1 476.5 L310.7 476.8 L310.3 477.3 L310.1 477.8 L309.9 478.4 L309.8 479 L309.9 479.6 L310.1 480.1 L310.3 480.5 L310.7 480.8 L311.1 481 L311.5 480.9 L312 480.7 L312.4 480.4 L312.7 479.9 L313 479.4 L313.2 478.8 L313.2 478.2 L313.2 477.6 L313 477.1 L312.7 476.7 L312.4 476.4 L312 476.2 L311.5 476.3Z" fill="#fff" stroke="#111" stroke-width="1.2" />
<path d="M296.3 459.1 L295.9 459.3 L295.5 459.6 L295.1 460.1 L294.8 460.6 L294.7 461.2 L294.6 461.8 L294.7 462.4 L294.8 463 L295.1 463.4 L295.5 463.6 L295.9 463.8 L296.3 463.7 L296.7 463.6 L297.1 463.2 L297.5 462.8 L297.8 462.2 L297.9 461.6 L298 461 L297.9 460.4 L297.8 459.9 L297.5 459.5 L297.1 459.2 L296.7 459.1 L296.3 459.1Z" fill="#fff" stroke="#111" stroke-width="1.2" />
<path d="M251.9 522.5 L252 525.2 L252.2 527.8 L252.6 530.3 L253.2 532.7 L254 535 L254.8 537.1 L255.9 539.1 L257 540.9 L258.3 542.6 L259.8 544 L261.3 545.2 L262.9 546.3 L264.6 547.1 L266.4 547.7 L268.2 548 L270.1 548.1 L272 548 L273.9 547.6 L275.8 547 L277.7 546.2 L279.6 545.1 L281.4 543.9 L283.2 542.4 L284.9 540.7 L286.5 538.9 L288 536.9 L289.5 534.7 L290.8 532.4 L291.9 530 L293 527.5 L293.8 524.9 L294.6 522.3 L295.2 519.6 L295.6 516.9 L295.8 514.1 L295.9 511.5 L295.8 508.8 L295.6 506.2 L295.2 503.7 L294.6 501.3 L293.8 499 L293 496.9 L291.9 494.9 L290.8 493.1 L289.5 491.4 L288 490 L286.5 488.8 L284.9 487.7 L283.2 486.9 L281.4 486.3 L279.6 486 L277.7 485.9 L275.8 486 L273.9 486.4 L272 487 L270.1 487.8 L268.2 488.9 L266.4 490.1 L264.6 491.6 L262.9 493.3 L261.3 495.1 L259.8 497.1 L258.3 499.3 L257 501.6 L255.9 504 L254.8 506.5 L254 509.1 L253.2 511.7 L252.6 514.4 L252.2 517.1 L252 519.9 L251.9 522.5Z" fill="#fff" stroke="#111" stroke-width="1.7" />
<path d="M254.7 521.9 L254.8 524.5 L255 527.1 L255.4 529.5 L256 531.9 L256.7 534.1 L257.5 536.2 L258.5 538.2 L259.7 540 L260.9 541.6 L262.3 543 L263.7 544.2 L265.3 545.3 L266.9 546 L268.6 546.6 L270.4 547 L272.2 547.1 L274.1 547 L275.9 546.6 L277.7 546 L279.6 545.2 L281.4 544.2 L283.2 543 L284.9 541.5 L286.5 539.9 L288.1 538.1 L289.5 536.1 L290.9 534 L292.1 531.8 L293.3 529.4 L294.3 527 L295.1 524.4 L295.8 521.8 L296.4 519.2 L296.8 516.5 L297 513.9 L297.1 511.3 L297 508.7 L296.8 506.1 L296.4 503.7 L295.8 501.3 L295.1 499.1 L294.3 497 L293.3 495 L292.1 493.2 L290.9 491.6 L289.5 490.2 L288.1 489 L286.5 487.9 L284.9 487.2 L283.2 486.6 L281.4 486.2 L279.6 486.1 L277.7 486.2 L275.9 486.6 L274.1 487.2 L272.2 488 L270.4 489 L268.6 490.2 L266.9 491.7 L265.3 493.3 L263.7 495.1 L262.3 497.1 L260.9 499.2 L259.7 501.4 L258.5 503.8 L257.5 506.2 L256.7 508.8 L256 511.4 L255.4 514 L255 516.7 L254.8 519.3 L254.7 521.9Z" fill="#fff" stroke="#111" stroke-width="1.3" />
<path d="M260.1 520.9 L260.2 523.5 L260.4 525.9 L260.8 528.4 L261.3 530.7 L261.9 532.9 L262.7 535 L263.7 536.9 L264.7 538.7 L265.9 540.3 L267.1 541.7 L268.5 542.9 L269.9 543.9 L271.5 544.7 L273.1 545.3 L274.7 545.6 L276.4 545.8 L278.1 545.7 L279.8 545.4 L281.5 544.8 L283.2 544 L284.9 543.1 L286.5 541.9 L288.1 540.5 L289.6 538.9 L291.1 537.2 L292.5 535.3 L293.7 533.2 L294.9 531 L295.9 528.7 L296.9 526.3 L297.7 523.9 L298.3 521.3 L298.8 518.8 L299.2 516.2 L299.4 513.6 L299.5 511 L299.4 508.4 L299.2 506 L298.8 503.5 L298.3 501.2 L297.7 499 L296.9 496.9 L295.9 495 L294.9 493.2 L293.7 491.6 L292.5 490.2 L291.1 489 L289.7 488 L288.1 487.2 L286.5 486.6 L284.9 486.3 L283.2 486.1 L281.5 486.2 L279.8 486.5 L278.1 487.1 L276.4 487.9 L274.7 488.8 L273.1 490 L271.5 491.4 L269.9 493 L268.5 494.7 L267.1 496.6 L265.9 498.7 L264.7 500.9 L263.7 503.2 L262.7 505.6 L261.9 508 L261.3 510.6 L260.8 513.1 L260.4 515.7 L260.2 518.3 L260.1 520.9Z" fill="#fff" stroke="#111" stroke-width="1.5" />
<path d="M263.5 520.4 L263.6 522.4 L263.7 524.4 L264.1 526.4 L264.5 528.2 L265 530 L265.7 531.7 L266.4 533.2 L267.3 534.6 L268.3 535.9 L269.3 537 L270.5 538 L271.6 538.8 L272.9 539.5 L274.2 539.9 L275.6 540.2 L277 540.3 L278.4 540.2 L279.8 539.9 L281.2 539.5 L282.6 538.9 L284 538.1 L285.4 537.1 L286.7 536 L287.9 534.7 L289.1 533.3 L290.3 531.8 L291.3 530.1 L292.3 528.3 L293.2 526.5 L293.9 524.5 L294.6 522.5 L295.1 520.5 L295.5 518.4 L295.9 516.3 L296 514.2 L296.1 512.1 L296 510.1 L295.9 508.1 L295.5 506.1 L295.1 504.3 L294.6 502.5 L293.9 500.8 L293.2 499.3 L292.3 497.9 L291.3 496.6 L290.3 495.5 L289.1 494.5 L287.9 493.7 L286.7 493 L285.4 492.6 L284 492.3 L282.6 492.2 L281.2 492.3 L279.8 492.5 L278.4 493 L277 493.6 L275.6 494.4 L274.2 495.4 L272.9 496.5 L271.6 497.8 L270.5 499.2 L269.3 500.7 L268.3 502.4 L267.3 504.2 L266.4 506 L265.7 508 L265 510 L264.5 512 L264.1 514.1 L263.7 516.2 L263.6 518.3 L263.5 520.4Z" fill="#0c0c0c" stroke="#111" stroke-width="1.3" />
<path d="M264.3 520.4 L264.4 522.1 L264.6 523.7 L264.9 525.3 L265.3 526.8 L265.7 528.2 L266.2 529.6 L266.8 530.8 L267.4 531.9 L268.1 532.9 L268.9 533.8 L269.7 534.5 L270.5 535.1 L271.4 535.5 L272.3 535.8 L273.3 536 L274.2 536 L275.1 535.8 L276.1 535.5 L277 535 L278 534.4 L278.9 533.7 L279.8 532.8 L280.6 531.8 L281.4 530.6 L282.2 529.4 L282.9 528 L283.5 526.6 L284.1 525.1 L284.6 523.5 L285 521.8 L285.4 520.1 L285.7 518.4 L285.9 516.6 L286 514.9 L286.1 513.2 L286 511.4 L285.9 509.7 L285.7 508.1 L285.4 506.5 L285 505 L284.6 503.6 L284.1 502.2 L283.5 501 L282.9 499.9 L282.2 498.9 L281.4 498 L280.6 497.3 L279.8 496.7 L278.9 496.3 L278 496 L277 495.8 L276.1 495.8 L275.1 496 L274.2 496.3 L273.3 496.8 L272.3 497.4 L271.4 498.1 L270.9 498.7 L270.5 499.2 L269.3 500.7 L268.3 502.4 L267.3 504.2 L266.7 505.5 L266.2 506.7 L265.7 508.3 L265.3 510 L264.9 511.7 L264.6 513.4 L264.4 515.2 L264.3 516.9 L264.2 518.6 L264.3 520.4Z" fill="#fff" stroke="#111" stroke-width="0.6" />
<circle cx="265.2" cy="570" r="2.3" fill="#111"/>
<path d="M265.5 570 L265.5 600" fill="none" stroke="#111" stroke-width="1" />
<circle cx="265" cy="613.2" r="13" fill="#fdc420" stroke="#4a4030" stroke-width="0.9"/>
<text x="265" y="619" font-size="16.6" text-anchor="middle" fill="#1a1a1a" stroke="#1a1a1a" stroke-width="0.25">4</text>
<path d="M87.6 388.9 L86.5 388.9 L82.7 389.3 L78.8 390.1 L75 391.3 L71.1 392.8 L67.4 394.7 L63.7 396.9 L60.1 399.4 L56.6 402.3 L53.2 405.5 L49.9 409 L46.9 412.7 L43.9 416.8 L41.2 421 L38.7 425.5 L36.4 430.1 L34.3 435 L32.4 440 L30.8 445.1 L29.4 450.3 L28.3 455.6 L27.4 460.9 L26.8 466.3 L26.5 471.6 L26.4 477 L26.6 482.2 L27.1 487.4 L27.8 492.5 L28.8 497.4 L30.1 502.2 L31.6 506.9 L33.4 511.3 L35.4 515.5 L37.6 519.4 L40 523.1 L42.7 526.5 L45.5 529.6 L48.5 532.4 L51.7 534.9 L55 537.1 L58.5 538.8 L62 540.3 L63 540.5" fill="none" stroke="#111" stroke-width="1.2" />
<path d="M84.2 388.7 L95.4 387.9" fill="none" stroke="#111" stroke-width="1" />
<path d="M142.8 476.7 L143.6 471.2 L144.3 465.7 L144.6 460.3 L144.7 454.8 L144.5 449.4 L144 444.1 L143.2 438.9 L142.2 433.9 L140.9 429 L139.4 424.3 L137.6 419.7 L135.6 415.5 L133.3 411.4 L130.9 407.6 L128.2 404.2 L125.3 401 L122.3 398.1 L119.1 395.6 L115.7 393.4 L112.2 391.6 L108.6 390.1 L104.9 389.1 L101.1 388.3 L97.2 388 L93.3 388.1 L89.4 388.5 L85.5 389.3 L81.5 390.5 L77.7 392.1 L73.8 394 L70.1 396.3 L66.4 398.9 L62.9 401.8 L59.4 405.1 L56.1 408.7 L53 412.5 L50 416.6 L47.2 421 L44.7 425.5 L42.3 430.3 L40.2 435.3 L38.3 440.4 L36.6 445.6 L35.2 450.9 L34 456.3 L33.2 461.8 L32.5 467.3 L32.2 472.7 L32.1 478.2 L32.3 483.6 L32.8 488.9 L33.6 494.1 L34.6 499.1 L35.9 504 L37.4 508.7 L39.2 513.3 L41.2 517.5 L43.5 521.6 L45.9 525.4 L48.6 528.8 L51.5 532 L54.5 534.9 L57.7 537.4 L61.1 539.6 L64.6 541.4 L68.2 542.9 L71.9 543.9 L75.7 544.7 L79.6 545 L83.5 544.9 L87.4 544.5 L91.3 543.7 L95.3 542.5 L99.1 540.9 L103 539 L106.7 536.7 L110.4 534.1 L113.9 531.2 L117.4 527.9 L120.7 524.3 L123.8 520.5 L126.8 516.4 L129.6 512 L132.1 507.5 L134.5 502.7 L136.6 497.7 L138.5 492.6 L140.2 487.4 L141.6 482.1 L142.8 476.7Z" fill="#fff" stroke="#111" stroke-width="1.3" />
<path d="M132 475.6 L132.7 471.1 L133.2 466.7 L133.5 462.2 L133.5 457.8 L133.4 453.4 L133 449.1 L132.4 444.9 L131.6 440.8 L130.5 436.8 L129.3 433 L127.8 429.3 L126.2 425.8 L124.3 422.5 L122.3 419.5 L120.2 416.6 L117.8 414 L115.3 411.7 L112.7 409.7 L110 407.9 L107.1 406.4 L104.2 405.2 L101.2 404.3 L98.1 403.8 L95 403.5 L91.8 403.5 L88.6 403.9 L85.4 404.6 L82.2 405.5 L79.1 406.8 L76 408.4 L72.9 410.2 L69.9 412.3 L67 414.7 L64.2 417.4 L61.6 420.3 L59 423.4 L56.6 426.7 L54.3 430.3 L52.2 434 L50.3 437.9 L48.6 441.9 L47 446.1 L45.7 450.3 L44.5 454.6 L43.6 459 L42.9 463.5 L42.4 467.9 L42.1 472.4 L42.1 476.8 L42.2 481.2 L42.6 485.5 L43.2 489.7 L44 493.8 L45.1 497.8 L46.3 501.6 L47.8 505.3 L49.4 508.8 L51.3 512.1 L53.3 515.1 L55.4 518 L57.8 520.6 L60.3 522.9 L62.9 524.9 L65.6 526.7 L68.5 528.2 L71.4 529.4 L74.4 530.3 L77.5 530.8 L80.6 531.1 L83.8 531.1 L87 530.7 L90.2 530 L93.4 529.1 L96.5 527.8 L99.6 526.2 L102.7 524.4 L105.7 522.3 L108.6 519.9 L111.4 517.2 L114 514.3 L116.6 511.2 L119 507.9 L121.3 504.3 L123.4 500.6 L125.3 496.7 L127 492.7 L128.6 488.5 L129.9 484.3 L131.1 480 L132 475.6Z" fill="none" stroke="#111" stroke-width="1.3" />
<path d="M130 475.8 L130.7 471.3 L131.2 466.9 L131.5 462.4 L131.5 458 L131.4 453.6 L131 449.3 L130.4 445.1 L129.6 441 L128.5 437 L127.3 433.2 L125.8 429.5 L124.2 426 L122.3 422.7 L120.3 419.7 L118.2 416.8 L115.8 414.2 L113.3 411.9 L110.7 409.9 L108 408.1 L105.1 406.6 L102.2 405.4 L99.2 404.5 L96.1 404 L93 403.7 L90 403.7" fill="none" stroke="#111" stroke-width="1.3" />
<path d="M83.6 531.1 L85 530.9 L88.2 530.2 L91.4 529.3 L94.5 528 L97.6 526.4 L100.7 524.6 L103.7 522.5 L106.6 520.1 L109.4 517.4 L112 514.5 L114.6 511.4 L117 508.1 L119.3 504.5 L121.4 500.8 L123.3 496.9 L125 492.9 L126.6 488.7 L127.9 484.5 L129.1 480.2 L130 475.8" fill="none" stroke="#111" stroke-width="1.3" />
<path d="M108.4 471.2 L108.7 469 L109 466.7 L109.1 464.4 L109.2 462.2 L109.1 459.9 L108.9 457.7 L108.6 455.6 L108.1 453.5 L107.6 451.4 L107 449.5 L106.2 447.6 L105.4 445.8 L104.5 444.1 L103.4 442.6 L102.3 441.1 L101.1 439.8 L99.9 438.6 L98.5 437.6 L97.1 436.7 L95.7 435.9 L94.2 435.3 L92.6 434.9 L91.1 434.6 L89.5 434.4 L87.8 434.5 L86.2 434.6 L84.6 435 L83 435.5 L81.3 436.1 L79.8 436.9 L78.2 437.9 L76.7 438.9 L75.2 440.2 L73.8 441.5 L72.4 443 L71.1 444.6 L69.9 446.3 L68.7 448.1 L67.7 450 L66.7 452 L65.8 454 L65 456.2 L64.3 458.3 L63.7 460.5 L63.2 462.8 L62.9 465 L62.6 467.3 L62.5 469.6 L62.4 471.8 L62.5 474.1 L62.7 476.3 L63 478.4 L63.5 480.5 L64 482.6 L64.6 484.5 L65.4 486.4 L66.2 488.2 L67.1 489.9 L68.2 491.4 L69.3 492.9 L70.5 494.2 L71.7 495.4 L73.1 496.4 L74.5 497.3 L75.9 498.1 L77.4 498.7 L79 499.1 L80.5 499.4 L82.1 499.6 L83.8 499.5 L85.4 499.4 L87 499 L88.6 498.5 L90.3 497.9 L91.8 497.1 L93.4 496.1 L94.9 495.1 L96.4 493.8 L97.8 492.5 L99.2 491 L100.5 489.4 L101.7 487.7 L102.9 485.9 L103.9 484 L104.9 482 L105.8 480 L106.6 477.8 L107.3 475.7 L107.9 473.5 L108.4 471.2Z" fill="#fff" stroke="#111" stroke-width="1.3" />
<path d="M103.1 471.3 L103.4 469.1 L103.7 466.9 L103.8 464.7 L103.9 462.5 L103.8 460.3 L103.6 458.2 L103.3 456.1 L102.9 454.1 L102.3 452.1 L101.7 450.2 L101 448.4 L100.2 446.7 L99.3 445 L98.3 443.5 L97.2 442.1 L96.1 440.8 L94.8 439.7 L93.5 438.7 L92.2 437.8 L90.8 437 L89.3 436.5 L87.8 436 L86.3 435.7 L84.7 435.6 L83.2 435.6 L82.3 435.7" fill="none" stroke="#111" stroke-width="1.1" />
<path d="M77.8 498.8 L79.2 498.8 L80.8 498.6 L82.4 498.3 L84 497.8 L85.5 497.2 L87.1 496.4 L88.6 495.5 L90 494.4 L91.5 493.2 L92.9 491.9 L94.2 490.5 L95.5 488.9 L96.6 487.3 L97.8 485.5 L98.8 483.7 L99.8 481.8 L100.6 479.8 L101.4 477.7 L102.1 475.6 L102.6 473.5 L103.1 471.3" fill="none" stroke="#111" stroke-width="1.1" />
<path d="M102.8 459.2 L108.6 460.2" fill="none" stroke="#111" stroke-width="0.9" />
<ellipse cx="126.1" cy="410.1" rx="2.1" ry="2.9" transform="rotate(12 126.1 410.1)" fill="#fff" stroke="#111" stroke-width="1.15"/>
<ellipse cx="136.5" cy="432.6" rx="2.1" ry="2.9" transform="rotate(12 136.5 432.6)" fill="#fff" stroke="#111" stroke-width="1.15"/>
<ellipse cx="49.5" cy="430.2" rx="2.1" ry="2.9" transform="rotate(12 49.5 430.2)" fill="#fff" stroke="#111" stroke-width="1.15"/>
<ellipse cx="38.9" cy="458.1" rx="2.1" ry="2.9" transform="rotate(12 38.9 458.1)" fill="#fff" stroke="#111" stroke-width="1.15"/>
<ellipse cx="76.7" cy="538.9" rx="2.1" ry="2.9" transform="rotate(12 76.7 538.9)" fill="#fff" stroke="#111" stroke-width="1.15"/>
<ellipse cx="98.2" cy="533.7" rx="2.1" ry="2.9" transform="rotate(12 98.2 533.7)" fill="#fff" stroke="#111" stroke-width="1.15"/>
<ellipse cx="85.9" cy="409.7" rx="1.5" ry="2.1" transform="rotate(12 85.9 409.7)" fill="#fff" stroke="#111" stroke-width="0.9"/>
<ellipse cx="122.4" cy="428.7" rx="1.5" ry="2.1" transform="rotate(12 122.4 428.7)" fill="#fff" stroke="#111" stroke-width="0.9"/>
<ellipse cx="49" cy="447.2" rx="1.5" ry="2.1" transform="rotate(12 49 447.2)" fill="#fff" stroke="#111" stroke-width="0.9"/>
<ellipse cx="122.4" cy="486.3" rx="1.5" ry="2.1" transform="rotate(12 122.4 486.3)" fill="#fff" stroke="#111" stroke-width="0.9"/>
<ellipse cx="49" cy="505.3" rx="1.5" ry="2.1" transform="rotate(12 49 505.3)" fill="#fff" stroke="#111" stroke-width="0.9"/>
<ellipse cx="85.9" cy="524.1" rx="1.5" ry="2.1" transform="rotate(12 85.9 524.1)" fill="#fff" stroke="#111" stroke-width="0.9"/>
<circle cx="62.4" cy="537.6" r="2.3" fill="#111"/>
<path d="M62.5 537.6 L62.5 569" fill="none" stroke="#111" stroke-width="1" />
<circle cx="63" cy="582" r="13" fill="#fdc420" stroke="#4a4030" stroke-width="0.9"/>
<text x="63" y="587.8" font-size="16.6" text-anchor="middle" fill="#1a1a1a" stroke="#1a1a1a" stroke-width="0.25">3</text>
<path d="M144.4 492.1 L159.5 488.2 L205.6 499.3 L220 496.4 L221.4 506.5 L177.5 507.4 L189 503.4Z" fill="#000" stroke="#111" stroke-width="0" />
<path d="M323.7 534.3 L366.9 533.9 L353.2 537.8 L398.6 549 L382 553.4 L336.6 542.1 L323.7 545Z" fill="#000" stroke="#111" stroke-width="0" />
<text x="185.3" y="175" font-style="italic" font-size="34" fill="#0a0a0a" stroke="#0a0a0a" stroke-width="0.35">B</text>
<text transform="translate(556.2 175) scale(0.94 1)" font-style="italic" font-size="34" fill="#0a0a0a" stroke="#0a0a0a" stroke-width="0.35">A</text>
<text x="172.8" y="485.3" font-style="italic" font-size="34" fill="#0a0a0a" stroke="#0a0a0a" stroke-width="0.35">B</text>
<text transform="translate(375.8 534.4) scale(0.94 1)" font-style="italic" font-size="34" fill="#0a0a0a" stroke="#0a0a0a" stroke-width="0.35">A</text>
<text x="341.8" y="433.8" font-size="16.1" text-anchor="middle" fill="#1a1a1a" stroke="#1a1a1a" stroke-width="0.2">7</text>
<path d="M341.5 438 L341.5 468" fill="none" stroke="#111" stroke-width="1" />
<ellipse cx="337.4" cy="474.3" rx="3.7" ry="4.8" transform="rotate(15 337.4 474.3)" fill="#fff" stroke="#111" stroke-width="1.7"/>
<ellipse cx="337.6" cy="474.5" rx="1.5" ry="2.1" transform="rotate(15 337.6 474.5)" fill="#fff" stroke="#111" stroke-width="0.9"/>
<circle cx="342" cy="468" r="2.3" fill="#111"/>
<text x="360.7" y="440.8" font-size="16.1" text-anchor="middle" fill="#1a1a1a" stroke="#1a1a1a" stroke-width="0.2">8</text>
<path d="M360.5 445 L360.5 474.5" fill="none" stroke="#111" stroke-width="1" />
<path d="M350.6 475.4 L361 478 L361 484 L350.2 481.4 Q348.4 478.4 350.6 475.4Z" fill="#fff" stroke="#111" stroke-width="1"/>
<ellipse cx="363.6" cy="481" rx="3.6" ry="4.6" transform="rotate(12 363.6 481)" fill="#fff" stroke="#111" stroke-width="1.2"/>
<ellipse cx="364.8" cy="481.2" rx="2.6" ry="3.7" transform="rotate(12 364.8 481.2)" fill="#111"/>
<circle cx="360.6" cy="474.9" r="2.3" fill="#111"/>
<path d="M388.4 579.8 L403 583.3 Q404.8 586 402.4 588.8 L388 585.4Z" fill="#fff" stroke="#111" stroke-width="1"/>
<ellipse cx="402.3" cy="586.1" rx="1.4" ry="2.7" transform="rotate(12 402.3 586.1)" fill="#fff" stroke="#111" stroke-width="0.8"/>
<ellipse cx="386.4" cy="582.3" rx="3" ry="4.2" transform="rotate(12 386.4 582.3)" fill="#fff" stroke="#111" stroke-width="1.2"/>
<path d="M387.6 578.4 L389.4 579.2 L389.6 585.6 L388 586.4" fill="none" stroke="#111" stroke-width="0.9" />
<circle cx="385.1" cy="589.1" r="2.3" fill="#111"/>
<path d="M385.5 589 L385.5 619" fill="none" stroke="#111" stroke-width="1" />
<text x="385.3" y="639.2" font-size="16.1" text-anchor="middle" fill="#1a1a1a" stroke="#1a1a1a" stroke-width="0.2">6</text>
<ellipse cx="413.3" cy="588.6" rx="3.6" ry="4.7" transform="rotate(15 413.3 588.6)" fill="#fff" stroke="#111" stroke-width="1.7"/>
<ellipse cx="413.3" cy="588.8" rx="1.4" ry="2.0" transform="rotate(15 413.3 588.8)" fill="#fff" stroke="#111" stroke-width="0.9"/>
<circle cx="410.5" cy="597.1" r="2.3" fill="#111"/>
<path d="M410.5 597 L410.5 626.6" fill="none" stroke="#111" stroke-width="1" />
<text x="410.6" y="647.0" font-size="16.1" text-anchor="middle" fill="#1a1a1a" stroke="#1a1a1a" stroke-width="0.2">5</text>
<path d="M433.2 554.1 L477.9 489.5 L497.8 483.6" fill="none" stroke="#111" stroke-width="1.7" />
<path d="M435.4 554.6 L479.3 491.8 L497.8 485.9" fill="none" stroke="#111" stroke-width="1.1" />
<path d="M438.1 553 L479.9 494.3 L483.4 492.3" fill="none" stroke="#111" stroke-width="1.5" />
<path d="M483.4 493C481.5 495.5 475.6 503.2 472 508C468.4 512.8 464 518.8 462.1 521.8C460.2 524.8 460.6 524.6 460.5 526C460.4 527.4 460.7 528.6 461.6 530.4C462.5 532.2 464.6 534.6 466 536.6C467.4 538.6 469.1 541.3 470.3 542.4C471.5 543.5 472.6 543.1 473.1 543.3" fill="none" stroke="#111" stroke-width="1.5" />
<path d="M485.6 495.2C483.8 497.6 478.4 504.8 475 509.4C471.6 514 467.3 519.8 465.5 522.7C463.7 525.6 464.1 525.3 464.1 526.6C464.1 527.9 464.7 529.2 465.5 530.7C466.3 532.2 467.9 534 469 535.6C470.1 537.2 471.6 539.5 472.4 540.4C473.2 541.3 473.7 540.9 474 541" fill="none" stroke="#111" stroke-width="1.1" />
<path d="M487.8 497.6C486.1 499.8 480.8 506.7 477.6 511C474.4 515.3 470.3 521 468.6 523.6C466.9 526.2 467.4 525.7 467.4 526.8C467.4 527.9 467.9 528.9 468.6 530.2C469.3 531.5 470.4 533 471.4 534.4C472.4 535.8 474.1 537.9 474.6 538.6" fill="none" stroke="#111" stroke-width="1.1" />
<path d="M473.1 543.3C473.7 542.1 475.4 538.4 476.4 536C477.4 533.6 478.8 529.9 479.3 528.7" fill="none" stroke="#111" stroke-width="1.5" />
<path d="M479.3 528.7 L478.6 526.6 L485.4 514.9 L496.4 504" fill="none" stroke="#111" stroke-width="1.5" />
<path d="M474 541 L476.8 534.6 L479.3 528.7" fill="none" stroke="#111" stroke-width="1.1" />
<ellipse cx="487.5" cy="501.9" rx="4.8" ry="6.3" transform="rotate(15 487.5 501.9)" fill="#fff" stroke="#111" stroke-width="1.5"/>
<ellipse cx="487.3" cy="502" rx="2.2" ry="2.9" transform="rotate(15 487.3 502)" fill="#fff" stroke="#111" stroke-width="1.1"/>
<ellipse cx="500.3" cy="496.8" rx="3.6" ry="4.9" transform="rotate(15 500.3 496.8)" fill="#fff" stroke="#111" stroke-width="1.5"/>
<path d="M497.2 485.4 L497.6 494" fill="none" stroke="#111" stroke-width="1.5" />
<path d="M501.2 486.6 L501.4 492" fill="none" stroke="#111" stroke-width="1.1" />
<path d="M496.4 482.4C496.6 481.8 496.9 479.9 497.4 479C497.9 478.1 498.7 477.2 499.6 476.8C500.5 476.4 502.1 476.6 502.6 476.6" fill="none" stroke="#111" stroke-width="1.5" />
<path d="M502.6 476.6 L529.4 484.4" fill="none" stroke="#111" stroke-width="1.5" />
<path d="M496.4 482.4 L499.9 484.2 L527.4 492.2" fill="none" stroke="#111" stroke-width="1.5" />
<path d="M500.8 479.4 L528.4 487.6" fill="none" stroke="#111" stroke-width="1.1" />
<path d="M528 482.4 L532.6 481.8 L533.4 496 L532 503.4 L526.6 504.8 L527.2 496.6 L528 482.4" fill="#fff" stroke="#111" stroke-width="1.5" />
<ellipse cx="530.5" cy="489.8" rx="1.1" ry="1.5" transform="rotate(0 530.5 489.8)" fill="#fff" stroke="#111" stroke-width="0.9"/>
<path d="M526.6 504.8 L525.6 506.6 L531.6 505.6 L532 503.4" fill="none" stroke="#111" stroke-width="1.1" />
<path d="M524.6 474.9C524.8 474.3 525.1 472.3 525.6 471.4C526.1 470.5 526.7 470 527.4 469.6C528.1 469.2 529.2 469.3 529.6 469.2" fill="none" stroke="#111" stroke-width="1.5" />
<path d="M529.6 469.2 L561.7 478.2" fill="none" stroke="#111" stroke-width="1.5" />
<path d="M524.6 474.9 L525.5 477 L556.2 485.7" fill="none" stroke="#111" stroke-width="1.5" />
<path d="M528.6 472.4 L559.6 481.2" fill="none" stroke="#111" stroke-width="1.1" />
<path d="M555.4 481.6 L560.2 477.4 L562.4 479.6 L562.4 491.2 L556.2 494 L554.8 490 L555.4 481.6" fill="#fff" stroke="#111" stroke-width="1.5" />
<ellipse cx="558.3" cy="483" rx="1.1" ry="1.5" transform="rotate(0 558.3 483)" fill="#fff" stroke="#111" stroke-width="0.9"/>
<path d="M554.8 490 L554.2 494 L561 494.6 L562.4 491.2" fill="none" stroke="#111" stroke-width="1.1" />
<path d="M515 478.2 L528 482.3" fill="none" stroke="#111" stroke-width="1.1" />
<path d="M542.5 472C544.1 471.6 548.8 470.1 552 469.4C555.2 468.7 559.1 467.7 561.7 467.9C564.4 468.1 566.1 469.4 567.9 470.4C569.7 471.3 571.9 473.1 572.7 473.6" fill="none" stroke="#111" stroke-width="2" />
<path d="M529.4 469.2 L542.5 472" fill="none" stroke="#111" stroke-width="1.1" />
<path d="M545 475 L562 468.6" fill="none" stroke="#111" stroke-width="1.1" />
<path d="M562.4 479.6 L566.4 473" fill="none" stroke="#111" stroke-width="1.1" />
<ellipse cx="570" cy="480.9" rx="5" ry="6.4" transform="rotate(15 570 480.9)" fill="#fff" stroke="#111" stroke-width="1.4"/>
<ellipse cx="569.8" cy="481" rx="2.4" ry="3.1" transform="rotate(15 569.8 481)" fill="#fff" stroke="#111" stroke-width="1"/>
<path d="M564.8 484 L565 490.4 L571.6 492" fill="none" stroke="#111" stroke-width="1.1" />
<path d="M575.4 481.6 L585.1 498.1" fill="none" stroke="#111" stroke-width="2" />
<path d="M564.5 492.6C566.5 492.9 572.9 493.4 576.8 494.6C580.7 495.9 584.4 498.2 587.8 500.1C591.2 502.1 595.3 504.8 597.4 506.3C599.5 507.8 599.7 508.6 600.2 509.1" fill="none" stroke="#111" stroke-width="2.3" />
<path d="M600.2 509.1 L599.5 514.6 L604.3 522.8 L611.2 535.9" fill="none" stroke="#111" stroke-width="2.3" />
<path d="M600.2 509.1 L609.8 525.5" fill="none" stroke="#111" stroke-width="1.5" />
<path d="M607.8 526.6 L611.2 525.2 L613.2 531.4 L609.8 532.8" fill="none" stroke="#111" stroke-width="1.1" />
<path d="M608.6 524.7 L632.4 531.1 L634.2 533.5 L634.4 573.6" fill="none" stroke="#111" stroke-width="1.5" />
<path d="M611.2 535.9 L624.6 532.6" fill="none" stroke="#111" stroke-width="1.5" />
<path d="M624.6 532.6 L625.4 561.5 L627.6 565.6 L634.4 568.6" fill="none" stroke="#111" stroke-width="1.5" />
<path d="M624.6 532.6 L627 530.6 L632.4 531.1" fill="none" stroke="#111" stroke-width="1.1" />
<ellipse cx="630" cy="535.6" rx="1.9" ry="2.7" transform="rotate(0 630 535.6)" fill="#fff" stroke="#111" stroke-width="1.1"/>
<ellipse cx="630.1" cy="558.4" rx="1.9" ry="2.7" transform="rotate(0 630.1 558.4)" fill="#fff" stroke="#111" stroke-width="1.1"/>
<path d="M595.8 583.7 L635.6 573" fill="none" stroke="#111" stroke-width="3" />
<path d="M552.1 495.3 L563.8 511.8" fill="none" stroke="#111" stroke-width="3" />
<path d="M566.1 513 L566.1 559" fill="none" stroke="#111" stroke-width="3" />
<path d="M563.8 512C565.7 511.7 571.6 510.2 575.4 510.4C579.2 510.6 582.7 511.8 586.4 513.2C590.1 514.6 594.4 516.8 597.4 518.7C600.4 520.7 603.1 523.9 604.3 524.9" fill="none" stroke="#111" stroke-width="3" />
<path d="M604.3 524.9 L589.6 554.4" fill="none" stroke="#111" stroke-width="3" />
<path d="M479.3 526.6C481.1 527.1 486.1 528.7 490 529.7C493.9 530.7 498.3 531.1 502.4 532.8C506.5 534.4 511 537.2 514.7 539.6C518.4 542 521.3 544.1 524.6 547C527.9 549.9 531.5 554 534.5 556.9C537.5 559.8 541.2 563.1 542.5 564.3" fill="none" stroke="#111" stroke-width="3" />
<path d="M505.4 499.1 L528 506.2" fill="none" stroke="#111" stroke-width="1.1" />
<path d="M504 501.4 L527 508.6" fill="none" stroke="#111" stroke-width="1.1" />
<path d="M533.5 495.6 L553.5 492.6" fill="none" stroke="#111" stroke-width="1.1" />
<path d="M533.4 490.6 L555 490" fill="none" stroke="#111" stroke-width="1.1" />
<path d="M550.7 492.6C549.3 493.1 546.4 492.8 542.5 495.3C538.6 497.8 531.7 503.9 527.1 507.4C522.5 510.9 518.8 512.2 514.7 516.1C510.6 520 505.9 525.4 502.4 530.9C498.9 536.4 495.6 544.9 493.7 549.4C491.8 553.9 491.4 556.6 491 558" fill="none" stroke="#111" stroke-width="1.5" />
<path d="M547 492.6C545.5 493.3 541.9 494.3 538 496.6C534.1 498.9 527.9 502.9 523.4 506.2C518.9 509.4 514.9 512.2 511 516.1C507.1 520 503.2 524.4 499.9 529.7C496.6 535.1 493.1 543.7 491.2 548.2C489.3 552.7 489 555.2 488.6 556.6" fill="none" stroke="#111" stroke-width="1.1" />
<path d="M496.4 504C495.2 505.3 491.4 509 489 512C486.6 515 483.6 519.2 482 522C480.4 524.8 479.8 527.6 479.3 528.7" fill="none" stroke="#111" stroke-width="1.1" />
<path d="M533 497.4C531.3 498.5 526.2 501.5 523 504C519.8 506.5 516.8 509.5 514 512.4C511.2 515.3 508.3 518.7 506 521.6C503.7 524.5 501.3 528.6 500.4 530" fill="none" stroke="#111" stroke-width="1.1" />
<path d="M564.2 512.4C562.1 513.4 555.9 515.8 551.8 518.5C547.7 521.2 543.3 524.7 539.4 528.4C535.5 532.1 531.2 537.3 528.3 540.8C525.4 544.3 523.8 546.5 522.1 549.4C520.5 552.3 519 556.6 518.4 558.1" fill="none" stroke="#111" stroke-width="1.5" />
<path d="M564.6 514C562.6 515 556.8 517.4 552.8 520C548.8 522.6 544.5 526.1 540.6 529.8C536.7 533.5 532.4 538.6 529.6 542C526.8 545.4 525.2 547.6 523.6 550.4C522 553.2 520.4 557.2 519.8 558.6" fill="none" stroke="#111" stroke-width="0.8" />
<path d="M565 515.6C563.1 516.6 557.6 519 553.8 521.6C549.9 524.2 545.7 527.6 541.9 531.2C538.1 534.8 533.8 540 531 543.4C528.2 546.8 526.6 549.2 525 551.8C523.4 554.4 522 558 521.4 559.2" fill="none" stroke="#111" stroke-width="1.5" />
<path d="M433.2 554.1C432.9 555.4 431.8 558.9 431.2 562C430.6 565.1 430 569.1 429.3 572.7C428.6 576.3 427.6 579.9 427.1 583.5C426.6 587.1 426.2 591.6 426.4 594.5C426.5 597.4 427.3 599 428 601C428.7 603 429.2 604.6 430.5 606.8C431.8 609 434.2 611.7 436 614C437.8 616.3 439.3 618.2 441.5 620.5C443.7 622.8 447.4 625.6 449.4 627.9C451.4 630.1 452.3 631.6 453.6 634C454.9 636.4 452.5 632 457.3 642C462.1 652 477.7 684.2 482.4 693.8C487.1 703.3 485 698.4 485.5 699.3" fill="none" stroke="#111" stroke-width="1.9" />
<path d="M433.3 562.4C432.9 564.2 431.7 571.3 431.4 573.1C431.1 574.8 431.7 571.3 431.4 573.1C431 574.9 429.7 580.2 429.2 583.8C428.7 587.3 428.4 591.6 428.5 594.3C428.7 597.1 429.4 598.4 430 600.3C430.6 602.2 431.1 603.7 432.3 605.7C433.6 607.8 435.9 610.5 437.6 612.7C439.4 614.9 440.8 616.8 443 619.1C445.2 621.3 449.5 625.1 450.8 626.4C452.2 627.6 450.9 626.5 451 626.5C451 626.6 450.4 625.7 451.1 626.7C451.9 627.8 454.6 631.8 455.3 632.8C456 633.9 455.4 632.9 455.4 633C455.5 633 454.9 631.8 455.5 633.1C456.1 634.5 454.4 631.2 459.2 641.1C464 651.1 479.6 683.3 484.3 692.8C488.9 702.4 486.8 697.4 487.3 698.3C487.8 699.2 487.3 698.3 487.3 698.3" fill="none" stroke="#111" stroke-width="1.1" />
<path d="M444.5 617.6C445.8 618.8 450.9 623.6 452.3 624.8C453.6 626.1 452.5 625 452.6 625.2C452.7 625.3 452.1 624.4 452.9 625.5C453.6 626.6 456.3 630.6 457.1 631.6C457.8 632.7 457.2 631.8 457.2 631.9C457.3 632 456.8 630.9 457.4 632.2C458.1 633.6 456.3 630.3 461.1 640.2C465.9 650.1 481.4 682.3 486.1 691.9C490.8 701.4 488.7 696.3 489.2 697.2C489.7 698.1 489.2 697.2 489.2 697.2" fill="none" stroke="#111" stroke-width="1.1" />
<path d="M435.3 572.5C434.9 574.8 433.3 582.1 433.2 586.2C433.1 590.3 433.5 593.5 434.6 597.2C435.8 600.9 437.8 605 440.1 608.2C442.4 611.4 447 615 448.4 616.4" fill="none" stroke="#111" stroke-width="1.1" />
<path d="M435.4 555.2C435.8 554.8 437 553.5 438.1 553C439.2 552.4 440.8 551.9 442 551.9C443.2 551.9 444.4 552.2 445.3 553C446.2 553.7 447.1 555.7 447.5 556.3" fill="none" stroke="#111" stroke-width="1.5" />
<path d="M447.5 556.3 L453 565.1" fill="none" stroke="#111" stroke-width="2" />
<path d="M453 565.1 L442 576 L438.7 576.6 L436.5 562.3 L442.5 561.2 L443.1 572.7 L442 576" fill="none" stroke="#111" stroke-width="1.5" />
<path d="M435.4 556.3 L436.5 562.3" fill="none" stroke="#111" stroke-width="1.1" />
<path d="M451.8 556.7 L453.8 551.2 L458 549.1 L462.1 550.5 L490 557.1 L514.7 557.5 L519.7 555.6 L522.4 549.4 L526 552 L521 559 L506.5 563 L506.5 598.4 L496.7 607 L478 603.4 L477.9 586.2 L471.7 578 L453.8 561.5Z" fill="#fff" stroke="#111" stroke-width="0" />
<path d="M490 557.1 L514.7 557.5 L519.7 555.6 L522.4 549.4" fill="none" stroke="#111" stroke-width="1.5" />
<path d="M493.7 559.3 L499.3 563 L517.2 560.6 L520.9 558.1" fill="none" stroke="#111" stroke-width="1.1" />
<path d="M451.8 556.7C452.1 555.8 452.8 552.5 453.8 551.2C454.8 549.9 456.6 549.2 458 549.1C459.4 549 461.4 550.3 462.1 550.5" fill="none" stroke="#111" stroke-width="1.5" />
<path d="M462.1 550.5 L496.4 563.5 L504.7 562.9" fill="none" stroke="#111" stroke-width="1.5" />
<path d="M496.4 563.5 L504.7 562.9 L505.4 591.7 L497.1 605.4 L495.1 606.1 L495.1 569.7" fill="none" stroke="#111" stroke-width="1.5" />
<ellipse cx="499.2" cy="570" rx="1.6" ry="2" transform="rotate(0 499.2 570)" fill="#fff" stroke="#111" stroke-width="1"/>
<ellipse cx="499.2" cy="593.1" rx="1.6" ry="2" transform="rotate(0 499.2 593.1)" fill="#fff" stroke="#111" stroke-width="1"/>
<path d="M451.8 556.7 L451.8 558.7 L456.6 560.1 L495.1 570.4" fill="none" stroke="#111" stroke-width="1.5" />
<path d="M458 553 L496 566.4" fill="none" stroke="#111" stroke-width="1.1" />
<path d="M464.8 542.4 L461.4 549.3" fill="none" stroke="#111" stroke-width="1.1" />
<path d="M473.1 543.3 L464.8 542.4" fill="none" stroke="#111" stroke-width="1.1" />
<path d="M470 545 L467 552.2" fill="none" stroke="#111" stroke-width="1.1" />
<path d="M453.8 561.5C455.3 562.9 460 567.2 463 570C466 572.8 469.4 576 471.7 578C473.9 580 475.5 580.7 476.5 582.1C477.5 583.5 477.7 582.8 477.9 586.2C478.1 589.6 477.9 600 477.9 602.7" fill="none" stroke="#111" stroke-width="1.5" />
<path d="M456.6 560.6C458.2 562 463.1 566.4 466 569C468.9 571.6 471.8 574.5 474 576.4C476.2 578.3 477.9 579.1 479 580.6C480.1 582.1 480.2 581.9 480.4 585.6C480.6 589.3 480.4 600.1 480.4 603" fill="none" stroke="#111" stroke-width="1.1" />
<path d="M451.1 564.2C452.6 565.6 457 569.6 460 572.4C463 575.1 466.9 578.6 469 580.7C471.1 582.8 471.8 584.1 472.4 584.8" fill="none" stroke="#111" stroke-width="1.5" />
<path d="M472.4 584.8C471.4 585.3 467.8 586 466.2 587.6C464.6 589.2 463 592.2 462.8 594.5C462.6 596.8 463.3 599.5 464.8 601.3C466.3 603.1 470.6 604.7 471.7 605.4" fill="none" stroke="#111" stroke-width="1.5" />
<path d="M475.8 586.9C474.9 587.5 471.4 588.9 470.3 590.3C469.2 591.7 468.9 593.5 469 595.1C469.1 596.7 470.1 598.8 471 599.9C471.9 601 473.9 601.6 474.5 602" fill="none" stroke="#111" stroke-width="1.1" />
<path d="M471.7 605.4C472.9 605.2 475.9 603.9 478.6 604.1C481.3 604.3 485 605.6 488 606.4C491 607.2 492.7 609.1 496.4 608.9C500.1 608.7 505.2 606.5 510 605C514.8 603.5 520.5 601.1 525 599.9C529.5 598.7 535.2 598.1 537.3 597.7" fill="none" stroke="#111" stroke-width="3" />
<path d="M450.4 564.2C448.4 566.3 441.3 572.9 438.7 576.6C436.1 580.3 435.2 582.8 434.6 586.2C434 589.6 434.4 593.8 435.3 597.2C436.2 600.6 437.8 603.8 440.1 606.8C442.4 609.8 447.5 613.7 449 615.1" fill="none" stroke="#111" stroke-width="1.5" />
<path d="M449 615.1 L471.7 606.1" fill="none" stroke="#111" stroke-width="1.5" />
<path d="M449.4 617.4 L473 608" fill="none" stroke="#111" stroke-width="1.1" />
<ellipse cx="455.9" cy="621.2" rx="2.6" ry="3.2" transform="rotate(0 455.9 621.2)" fill="#fff" stroke="#111" stroke-width="1.5"/>
<ellipse cx="455.9" cy="621.4" rx="1.3" ry="1.7" transform="rotate(0 455.9 621.4)" fill="#fff" stroke="#111" stroke-width="1.1"/>
<path d="M452.6 616.4 L454 623.6" fill="none" stroke="#111" stroke-width="1.1" />
<path d="M459.6 613.8 L459.6 621" fill="none" stroke="#111" stroke-width="1.1" />
<path d="M479.9 608.2C480 609.8 480.3 614.8 480.8 618C481.3 621.2 481.6 623.7 482.7 627.4C483.8 631.1 484.5 634.8 487.1 640.4C489.7 646 493.7 655.3 498.1 660.8C502.6 666.3 508.8 670.5 513.8 673.4C518.8 676.3 522 677 528 678.1C534 679.2 546.2 679.4 549.9 679.7" fill="none" stroke="#111" stroke-width="1.5" />
<path d="M482.7 608.8C482.9 610.3 483.2 614.9 483.8 618C484.4 621.1 484.9 623.9 486 627.4C487.1 630.9 487.8 633.5 490.3 638.8C492.9 644.1 497.1 653.9 501.3 659.3C505.5 664.7 510.4 668.1 515.4 671C520.4 673.9 525.7 675.3 531.1 676.5C536.5 677.7 545.2 677.8 548 678" fill="none" stroke="#111" stroke-width="1.1" />
<path d="M506 609.6C506.1 611 506.3 615 506.8 618C507.3 621 507.6 623.7 508.8 627.4C510 631.1 511.4 635.9 513.8 640.1C516.2 644.3 519.8 649.1 523.2 652.8C526.6 656.5 530.3 660 534.2 662.4C538.1 664.8 542.5 666 546.8 667C551.1 668 557.8 668.3 560 668.6" fill="none" stroke="#111" stroke-width="1.5" />
<path d="M509 608.4C509.2 610 509.4 614.8 510 618C510.6 621.2 511.3 624.1 512.4 627.4C513.5 630.7 514.2 634.1 516.4 638C518.6 641.9 522.3 647.2 525.6 651C528.9 654.8 532.4 658.2 536 660.6C539.6 663 543 664.1 547 665.2C551 666.3 557.8 666.7 560 667" fill="none" stroke="#111" stroke-width="1.8" />
<path d="M458.8 627.9C460.1 631.3 463 641.8 466.7 648.3C470.4 654.8 475.6 662.1 480.8 667.1C486 672.1 492.3 675.7 498.1 678.1C503.9 680.5 507 680.9 515.4 681.5C523.8 682.1 542.9 681.9 548.4 682" fill="none" stroke="#111" stroke-width="1.5" />
<path d="M485.5 699.3C486.1 699.6 487.7 701 489 701.4C490.3 701.8 491.6 702.2 493.4 701.9C495.2 701.6 498.3 700.3 499.7 699.5C501.1 698.7 501.6 697.4 502 697" fill="none" stroke="#111" stroke-width="1.6" />
<path d="M487.1 671.8 L484.6 692.6" fill="none" stroke="#111" stroke-width="1.1" />
<path d="M490.3 672.6 L488.7 697" fill="none" stroke="#111" stroke-width="1.5" />
<path d="M495 675 L494.2 687.5" fill="none" stroke="#111" stroke-width="1.1" />
<path d="M509.1 678.9 L502 697" fill="none" stroke="#111" stroke-width="1.5" />
<ellipse cx="496.9" cy="693.5" rx="3.9" ry="5" transform="rotate(15 496.9 693.5)" fill="#fff" stroke="#111" stroke-width="1.5"/>
<ellipse cx="496.9" cy="693.6" rx="1.9" ry="2.7" transform="rotate(15 496.9 693.6)" fill="#fff" stroke="#111" stroke-width="1.1"/>
<path d="M502 697 L548.4 682.8 L551.5 684.4" fill="none" stroke="#111" stroke-width="1.5" />
<path d="M553.8 677C554 677.8 554.3 680.6 554.9 682C555.5 683.3 556.5 684.5 557.6 685.1C558.6 685.8 560 686.1 561.2 685.8C562.4 685.4 563.8 684.6 564.8 683.2C565.8 681.9 566.4 679.5 567 677.7C567.6 676 568.3 673.4 568.6 672.6" fill="none" stroke="#111" stroke-width="1.5" />
<path d="M557 677.3C557.1 677.8 557.1 679.6 557.6 680.4C558.1 681.2 559.2 682 560.1 682C561 682 562.3 681.3 562.9 680.4C563.6 679.6 563.7 677.5 563.9 677" fill="none" stroke="#111" stroke-width="1.1" />
<path d="M540 681.7 L547.9 679.8 L552.3 682.9 L549.7 684.2" fill="none" stroke="#111" stroke-width="1.1" />
<path d="M551.5 684.4 L554.9 682.9" fill="none" stroke="#111" stroke-width="1.5" />
<path d="M473.8 660 L485.5 663.2 L502 664.8 L521.7 655.3 L537 635" fill="none" stroke="#111" stroke-width="3" />
<path d="M521.7 655.3C522.8 656.2 524.9 659.1 528 660.8C531.1 662.5 538.4 664.7 540.5 665.5" fill="none" stroke="#111" stroke-width="3" />
<path d="M537.4 572 L538.4 567.8 L542.3 564.2 L590.9 554.1 L594.2 554.9 L595.5 558.2 L595.8 650.5 L592 655 L576 665 L555.7 669.9 L540 668 L537.4 667Z" fill="#fff" stroke="#111" stroke-width="1.7" />
<path d="M537.6 570 L539.4 566.7 L542.5 564.3 L590.9 554.1" fill="none" stroke="#111" stroke-width="2.6" />
<path d="M537.5 570 L537.5 667" fill="none" stroke="#111" stroke-width="2.2" />
<path d="M540.6 568 L540.9 668" fill="none" stroke="#111" stroke-width="1.1" />
<path d="M537.4 667C539.2 667.4 544.6 669.2 548 669.6C551.4 670 554.1 670 558 669.6C561.9 669.2 567.1 669.1 571.4 667.5C575.7 665.9 580 662.6 584 660C588 657.4 593.4 653.2 595.3 651.8" fill="none" stroke="#111" stroke-width="2" />
<ellipse cx="547.7" cy="573.8" rx="1.7" ry="2.3" transform="rotate(8 547.7 573.8)" fill="#fff" stroke="#111" stroke-width="1.1"/>
<ellipse cx="547.7" cy="584.1" rx="1.7" ry="2.3" transform="rotate(8 547.7 584.1)" fill="#fff" stroke="#111" stroke-width="1.1"/>
<ellipse cx="547.7" cy="624.1" rx="1.7" ry="2.3" transform="rotate(8 547.7 624.1)" fill="#fff" stroke="#111" stroke-width="1.1"/>
<ellipse cx="547.7" cy="650.8" rx="1.7" ry="2.3" transform="rotate(8 547.7 650.8)" fill="#fff" stroke="#111" stroke-width="1.1"/>
<ellipse cx="587.4" cy="563.1" rx="1.7" ry="2.3" transform="rotate(8 587.4 563.1)" fill="#fff" stroke="#111" stroke-width="1.1"/>
<ellipse cx="587.4" cy="573.8" rx="1.7" ry="2.3" transform="rotate(8 587.4 573.8)" fill="#fff" stroke="#111" stroke-width="1.1"/>
<ellipse cx="587.4" cy="613.4" rx="1.7" ry="2.3" transform="rotate(8 587.4 613.4)" fill="#fff" stroke="#111" stroke-width="1.1"/>
<ellipse cx="587.4" cy="640.8" rx="1.7" ry="2.3" transform="rotate(8 587.4 640.8)" fill="#fff" stroke="#111" stroke-width="1.1"/>
<path d="M550.5 586.2C550.9 584.6 551.4 579.3 553 576.3C554.6 573.3 557.6 570 560.4 568.1C563.1 566.2 566.6 565.1 569.5 564.8C572.4 564.5 575.4 565 577.7 566.4C580 567.8 582.1 570.2 583.5 573C584.9 575.8 585.6 579.3 585.9 582.9C586.2 586.5 585.9 591.2 585.1 594.4C584.3 597.6 582.4 600.2 581 601.9C579.6 603.5 577.6 603.9 576.9 604.3" fill="none" stroke="#111" stroke-width="1.5" />
<path d="M576.9 604.3 L576.9 606.8 L581.8 608.5 L583.5 611 L583.5 642.2 L581 647.2 L576 651.3 L557.1 657.1 L553 655.4 L551.3 650.5 L551.3 618.3 L553.8 614.2" fill="none" stroke="#111" stroke-width="1.5" />
<path d="M553.8 614.2C553.2 613.1 551.5 610.4 550.5 607.6C549.5 604.9 548 601.3 548 597.7C548 594.1 550.1 588.1 550.5 586.2" fill="none" stroke="#111" stroke-width="1.5" />
<path d="M574.4 565.6C575.4 566.7 578.9 569.3 580.2 572.2C581.5 575.1 582.1 579.2 582.3 582.9C582.5 586.6 582.1 591.4 581.3 594.4C580.5 597.4 578.3 599.9 577.7 601" fill="none" stroke="#111" stroke-width="1.1" />
<path d="M577.7 607.6 L578 642.2 L576 646.4 L555.4 653.8" fill="none" stroke="#111" stroke-width="1.1" />
<path d="M576.9 617.5C575.7 619.7 572.3 626.5 569.5 630.7C566.7 635 562.8 639.7 560 643C557.2 646.3 554.2 649.2 553 650.5" fill="none" stroke="#111" stroke-width="1.1" />
<path d="M526.6 545 L542.3 563.1" fill="none" stroke="#111" stroke-width="0" />
<path d="M595.8 624.1 L606.4 636" fill="none" stroke="#111" stroke-width="3" />
<path d="M620.8 577C620.5 580.7 620.3 591.8 618.9 599.4C617.5 607 614.4 616.6 612.3 622.5C610.1 628.4 607.6 631.6 606 634.6C604.4 637.6 604.1 638.3 602.4 640.6C600.7 642.9 596.9 647.3 595.8 648.6" fill="none" stroke="#111" stroke-width="1.5" />
<path d="M623.4 469.9 L607.7 469.9 L581.6 503.6" fill="none" stroke="#111" stroke-width="0.8" />
<circle cx="581.6" cy="503.8" r="2.3" fill="#111"/>
<circle cx="636.4" cy="469.7" r="13" fill="#fdc420" stroke="#4a4030" stroke-width="0.9"/>
<text x="636.4" y="475.4" font-size="16.6" text-anchor="middle" fill="#1a1a1a" stroke="#1a1a1a" stroke-width="0.25">1</text>
<path d="M652.5 584.2 L654.4 581.8 L724.1 562.7 L733.9 564.7 L735.6 567.6 L660.6 586.7 L660.6 647.8 L652.5 642.9Z" fill="#fff" stroke="#111" stroke-width="1.2" />
<path d="M652.5 584.2 L652.5 642.9 L660.6 649" fill="none" stroke="#111" stroke-width="1.2" />
<path d="M654.9 585 L654.9 644.4" fill="none" stroke="#111" stroke-width="0.9" />
<path d="M654.4 582.3 L660.6 586.2" fill="none" stroke="#111" stroke-width="0.9" />
<path d="M660.6 647.8 L660.6 696.2 L669.1 699.1 L669.1 652.7" fill="none" stroke="#111" stroke-width="1.2" />
<path d="M663 650.7 L663 696.7" fill="none" stroke="#111" stroke-width="0" />
<path d="M660.6 586.7 L661.3 585.7 L729 566.6 L733.9 565.2 L735.1 567.6 L735.1 627.8 L726.6 636.8 L725.4 686.9 L721.7 689.9 L716.1 693.8 L708.2 697.7 L698.5 701.1 L686.2 703.1 L677.7 701.6 L669.1 699.1 L669.1 652.7 L660.6 646.6Z" fill="#fff" stroke="#111" stroke-width="1.5" />
<path d="M660.6 649 L667.9 654.4 L669.1 652.7" fill="none" stroke="#111" stroke-width="0.9" />
<path d="M669.9 579.6 L673.5 578.6" fill="none" stroke="#111" stroke-width="2" />
<path d="M712.6 568.1 L716.1 567.1" fill="none" stroke="#111" stroke-width="2" />
<path d="M716.8 631.1 L717.4 629 L717.9 626.9 L718.2 624.8 L718.5 622.7 L718.7 620.6 L718.7 618.5 L718.7 616.5 L718.6 614.5 L718.3 612.5 L717.9 610.6 L717.5 608.8 L716.9 607.1 L716.2 605.4 L715.5 603.8 L714.6 602.4 L713.7 601 L712.7 599.8 L711.6 598.7 L710.4 597.7 L709.2 596.9 L707.9 596.2 L706.6 595.6 L705.2 595.2 L703.7 594.9 L702.3 594.7 L700.8 594.8 L699.2 594.9 L697.7 595.2 L696.2 595.7 L694.7 596.3 L693.1 597 L691.6 597.9 L690.2 598.9 L688.7 600 L687.3 601.3 L686 602.6 L684.7 604.1 L683.4 605.7 L682.2 607.4 L681.1 609.1 L680.1 611 L679.1 612.9 L678.3 614.8 L677.5 616.8 L676.8 618.9 L676.2 621 L675.7 623.1 L675.4 625.2 L675.1 627.3 L674.9 629.4 L674.9 631.5 L674.9 633.5 L675 635.5 L675.3 637.5 L675.7 639.4 L676.1 641.2 L676.7 642.9 L677.4 644.6 L678.1 646.2 L679 647.6 L679.9 649 L680.9 650.2 L682 651.3 L683.2 652.3 L684.4 653.1 L685.7 653.8 L687 654.4 L688.4 654.8 L689.9 655.1 L691.3 655.3 L692.8 655.2 L694.4 655.1 L695.9 654.8 L697.4 654.3 L698.9 653.7 L700.5 653 L702 652.1 L703.4 651.1 L704.9 650 L706.3 648.7 L707.6 647.4 L708.9 645.9 L710.2 644.3 L711.4 642.6 L712.5 640.9 L713.5 639 L714.5 637.1 L715.3 635.2 L716.1 633.2 L716.8 631.1Z" fill="#fff" stroke="#111" stroke-width="1.7" />
<path d="M712.5 631.9 L713 630.1 L713.4 628.3 L713.8 626.4 L714 624.6 L714.1 622.7 L714.2 620.9 L714.1 619.1 L714 617.3 L713.8 615.6 L713.4 613.9 L713 612.3 L712.5 610.8 L711.9 609.4 L711.2 608 L710.5 606.7 L709.6 605.5 L708.7 604.4 L707.8 603.4 L706.7 602.6 L705.6 601.8 L704.5 601.2 L703.3 600.7 L702 600.3 L700.7 600.1 L699.4 599.9 L698.1 599.9 L696.8 600.1 L695.4 600.3 L694.1 600.7 L692.7 601.3 L691.3 601.9 L690 602.7 L688.7 603.5 L687.4 604.5 L686.2 605.6 L685 606.8 L683.8 608.1 L682.7 609.5 L681.7 611 L680.7 612.5 L679.8 614.1 L679 615.8 L678.2 617.5 L677.5 619.3 L676.9 621.1 L676.4 622.9 L676 624.7 L675.6 626.6 L675.4 628.4 L675.3 630.3 L675.2 632.1 L675.3 633.9 L675.4 635.7 L675.6 637.4 L676 639.1 L676.4 640.7 L676.9 642.2 L677.5 643.6 L678.2 645 L678.9 646.3 L679.8 647.5 L680.7 648.6 L681.6 649.6 L682.7 650.4 L683.8 651.2 L684.9 651.8 L686.1 652.3 L687.4 652.7 L688.7 652.9 L690 653.1 L691.3 653.1 L692.6 652.9 L694 652.7 L695.3 652.3 L696.7 651.7 L698.1 651.1 L699.4 650.3 L700.7 649.5 L702 648.5 L703.2 647.4 L704.4 646.2 L705.6 644.9 L706.7 643.5 L707.7 642 L708.7 640.5 L709.6 638.9 L710.4 637.2 L711.2 635.5 L711.9 633.7 L712.5 631.9Z" fill="none" stroke="#111" stroke-width="1.1" />
<path d="M682.5 647.3 L683.2 647.7 L683.9 648.1 L684.6 648.4 L685.3 648.6 L686.1 648.8 L686.9 648.9 L687.6 649 L688.4 649 L689.2 648.9 L690 648.8 L690.8 648.6 L691.7 648.4 L692.5 648.1 L693.3 647.8 L694.1 647.4 L694.9 647 L695.7 646.5 L696.5 646 L697.3 645.4 L698.1 644.7 L698.8 644 L699.6 643.3 L700.3 642.5 L701 641.7 L701.7 640.9 L702.4 640 L703 639 L703.6 638.1 L704.2 637.1 L704.8 636.1 L705.3 635 L705.8 633.9 L706.3 632.8 L706.7 631.7 L707.1 630.6 L707.5 629.4 L707.8 628.3 L708.1 627.1 L708.4 626 L708.6 624.8 L708.8 623.6 L708.9 622.5 L709.1 621.3 L709.1 620.1 L709.1 619 L709.1 617.9 L709.1 616.7 L709 615.7 L708.9 614.6 L708.7 613.5 L708.5 612.5 L708.2 611.5 L707.9 610.5 L707.6 609.6 L707.3 608.7 L706.9 607.9 L706.5 607.1 L706 606.3 L705.5 605.6 L705 604.9 L704.4 604.2 L703.8 603.6 L703.2 603.1 L702.6 602.6 L701.9 602.2 L701.3 601.8 L700.6 601.5 L699.8 601.2 L699.1 601 L698.4 600.8 L697.6 600.7 L696.8 600.6 L696 600.6 L695.2 600.7 L694.4 600.8 L693.6 601 L692.8 601.2 L692 601.5 L691.1 601.9 L690.3 602.3 L689.5 602.7 L688.7 603.2 L687.9 603.8 L687.1 604.4 L686.4 605 L685.6 605.7 L684.9 606.4 L684.1 607.2 L683.4 608.1 L682.8 608.9" fill="none" stroke="#111" stroke-width="1" />
<path d="M703.3 627.1 L703.7 625.5 L704.1 623.9 L704.4 622.4 L704.6 620.8 L704.8 619.2 L704.9 617.7 L704.9 616.2 L704.9 614.7 L704.7 613.2 L704.5 611.9 L704.3 610.5 L703.9 609.2 L703.5 608 L703.1 606.9 L702.5 605.8 L701.9 604.8 L701.3 604 L700.6 603.2 L699.8 602.5 L699 601.9 L698.1 601.4 L697.2 601 L696.3 600.7 L695.4 600.5 L694.4 600.4 L693.4 600.5 L692.3 600.6 L691.3 600.9 L690.3 601.3 L689.2 601.8 L688.2 602.3 L687.2 603 L686.1 603.8 L685.1 604.7 L684.2 605.6 L683.2 606.7 L682.3 607.8 L681.4 609 L680.6 610.3 L679.8 611.6 L679.1 613 L678.4 614.4 L677.8 615.9 L677.2 617.4 L676.7 618.9 L676.3 620.5 L675.9 622.1 L675.6 623.6 L675.4 625.2 L675.2 626.8 L675.1 628.3 L675.1 629.8 L675.1 631.3 L675.3 632.8 L675.5 634.1 L675.7 635.5 L676.1 636.8 L676.5 638 L676.9 639.1 L677.5 640.2 L678.1 641.2 L678.7 642 L679.4 642.8 L680.2 643.5 L681 644.1 L681.9 644.6 L682.8 645 L683.7 645.3 L684.6 645.5 L685.6 645.6 L686.6 645.5 L687.7 645.4 L688.7 645.1 L689.7 644.7 L690.8 644.2 L691.8 643.7 L692.8 643 L693.9 642.2 L694.9 641.3 L695.8 640.4 L696.8 639.3 L697.7 638.2 L698.6 637 L699.4 635.7 L700.2 634.4 L700.9 633 L701.6 631.6 L702.2 630.1 L702.8 628.6 L703.3 627.1Z" fill="none" stroke="#111" stroke-width="1.3" />
<path d="M704 618 L709.5 619" fill="none" stroke="#111" stroke-width="0.9" />
<path d="M713.9 619 L718.8 620.2" fill="none" stroke="#111" stroke-width="0.9" />
<ellipse cx="697.2" cy="582.5" rx="1.9" ry="2.6" transform="rotate(12 697.2 582.5)" fill="#fff" stroke="#111" stroke-width="1.1"/>
<ellipse cx="727.8" cy="616.7" rx="1.9" ry="2.6" transform="rotate(12 727.8 616.7)" fill="#fff" stroke="#111" stroke-width="1.1"/>
<ellipse cx="697.2" cy="667.4" rx="1.9" ry="2.6" transform="rotate(12 697.2 667.4)" fill="#fff" stroke="#111" stroke-width="1.1"/>
<ellipse cx="666.2" cy="633.1" rx="1.9" ry="2.6" transform="rotate(12 666.2 633.1)" fill="#fff" stroke="#111" stroke-width="1.1"/>
<ellipse cx="716.8" cy="596.5" rx="1.2" ry="1.8" transform="rotate(12 716.8 596.5)" fill="#fff" stroke="#111" stroke-width="1.1"/>
<ellipse cx="716.8" cy="647.3" rx="1.2" ry="1.8" transform="rotate(12 716.8 647.3)" fill="#fff" stroke="#111" stroke-width="1.1"/>
<ellipse cx="677.2" cy="657.1" rx="1.2" ry="1.8" transform="rotate(12 677.2 657.1)" fill="#fff" stroke="#111" stroke-width="1.1"/>
<ellipse cx="677.2" cy="607.5" rx="1.2" ry="1.8" transform="rotate(12 677.2 607.5)" fill="#fff" stroke="#111" stroke-width="1.1"/>
<path d="M683.5 555 L683.5 583" fill="none" stroke="#111" stroke-width="1" />
<circle cx="683.3" cy="583" r="2.3" fill="#111"/>
<circle cx="683.4" cy="542.5" r="13" fill="#fdc420" stroke="#4a4030" stroke-width="0.9"/>
<text x="683.4" y="548.2" font-size="16.6" text-anchor="middle" fill="#1a1a1a" stroke="#1a1a1a" stroke-width="0.25">2</text>
</svg></body></html>
